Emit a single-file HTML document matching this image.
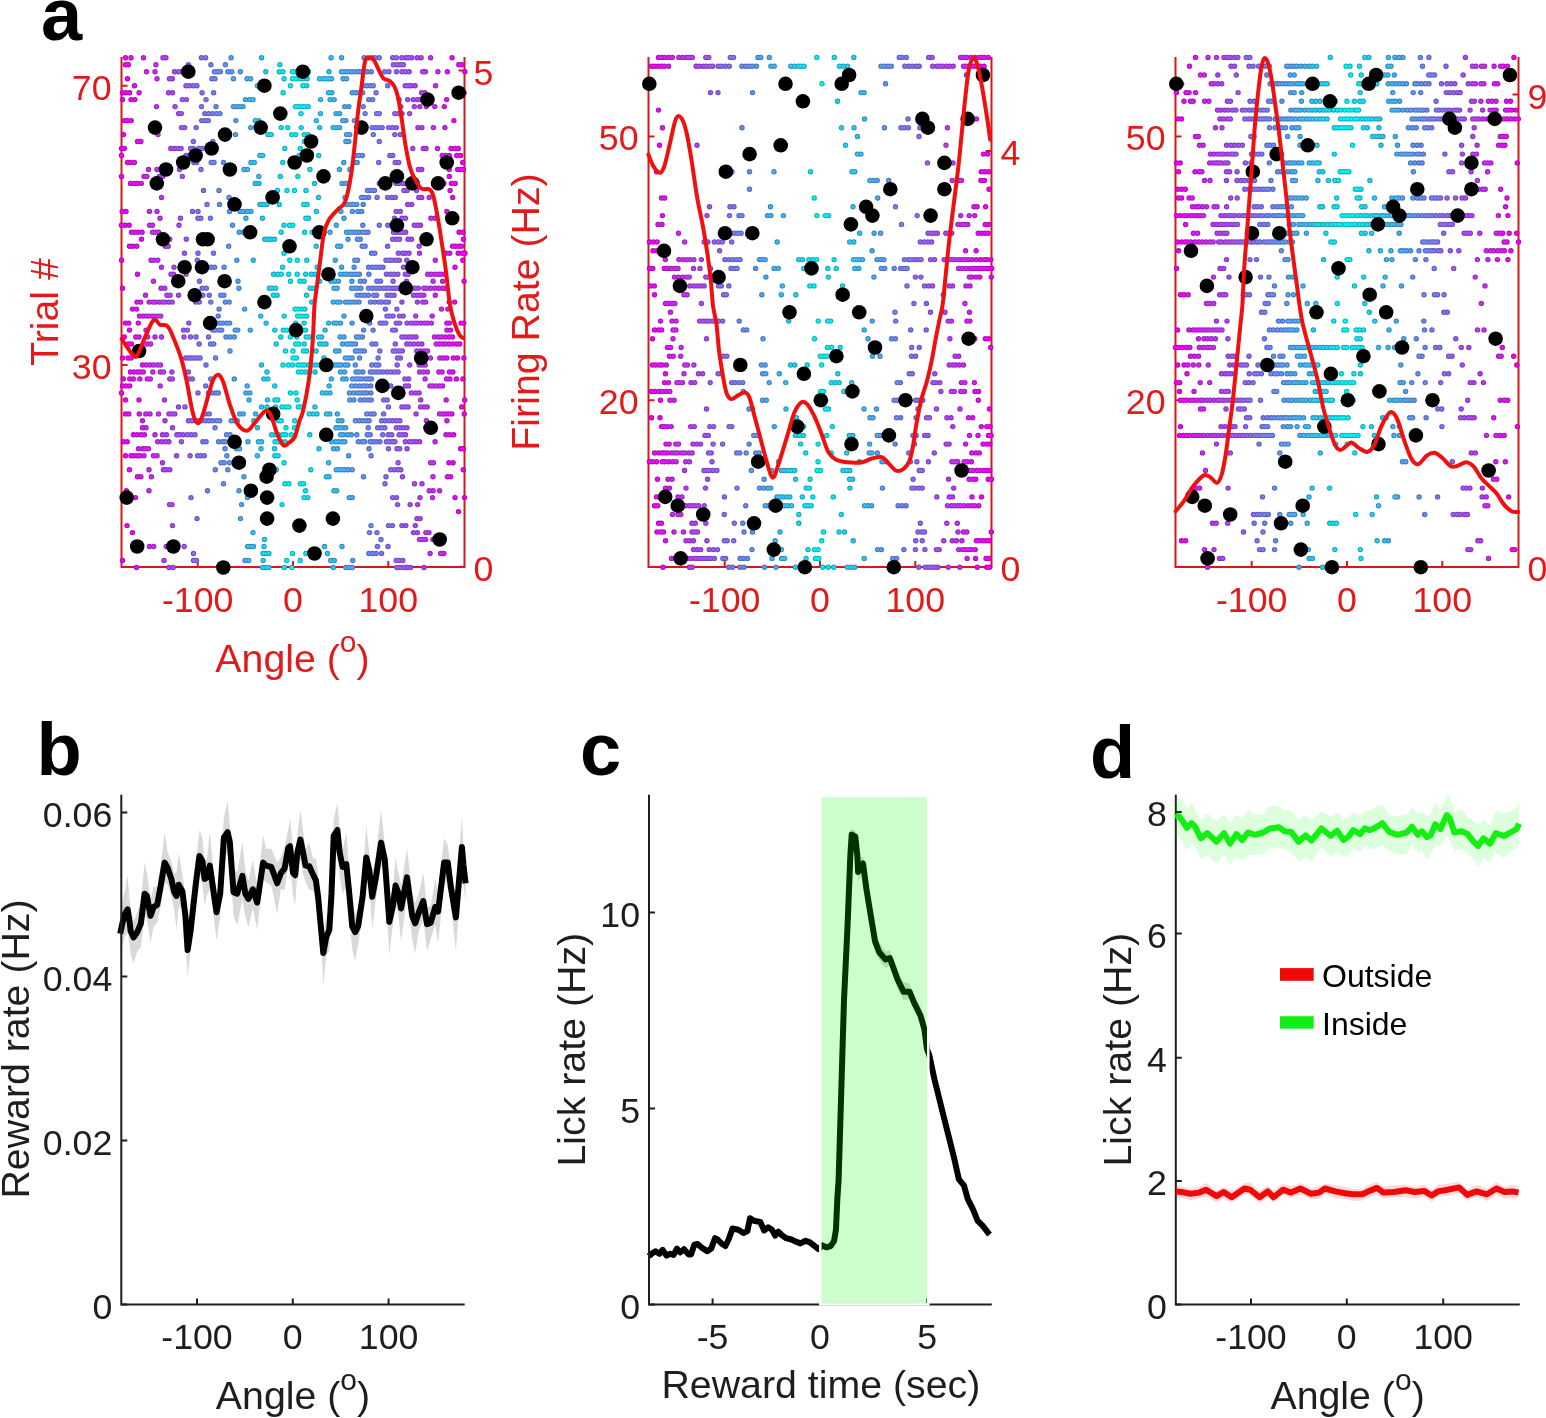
<!DOCTYPE html><html><head><meta charset="utf-8"><title>Figure</title><style>html,body{margin:0;padding:0;background:#fff;overflow:hidden}svg{display:block}</style></head><body>
<svg width="1546" height="1418" viewBox="0 0 1546 1418" font-family="'Liberation Sans', Arial, sans-serif">
<rect width="1546" height="1418" fill="#fff"/>
<g stroke="#d81818" stroke-width="2" fill="none"><path d="M121.5 57V567H464.5V57"/><path d="M121.5 365h6M121.5 85.7h6M464.5 566.7h-6M464.5 70.6h-6M197.7 567v-6M293 567v-6M388.3 567v-6"/></g><g fill="#e31a1a" font-size="35.7"><text x="111.5" y="378.8" text-anchor="end">30</text><text x="111.5" y="99.5" text-anchor="end">70</text><text x="473.5" y="581">0</text><text x="473.5" y="84.9">5</text><text x="197.7" y="611.7" text-anchor="middle">-100</text><text x="293" y="611.7" text-anchor="middle">0</text><text x="388.3" y="611.7" text-anchor="middle">100</text></g>
<g stroke="#d81818" stroke-width="2" fill="none"><path d="M648.5 57V567H991.5V57"/><path d="M648.5 400.2h6M648.5 136.5h6M991.5 567h-6M991.5 151.1h-6M724.7 567v-6M820 567v-6M915.3 567v-6"/></g><g fill="#e31a1a" font-size="35.7"><text x="638.5" y="414" text-anchor="end">20</text><text x="638.5" y="150.3" text-anchor="end">50</text><text x="1000.5" y="581.3">0</text><text x="1000.5" y="165.4">4</text><text x="724.7" y="611.7" text-anchor="middle">-100</text><text x="820" y="611.7" text-anchor="middle">0</text><text x="915.3" y="611.7" text-anchor="middle">100</text></g>
<g stroke="#d81818" stroke-width="2" fill="none"><path d="M1175.5 57V567H1518.5V57"/><path d="M1175.5 400.2h6M1175.5 136.5h6M1518.5 567h-6M1518.5 94.5h-6M1251.7 567v-6M1347 567v-6M1442.3 567v-6"/></g><g fill="#e31a1a" font-size="35.7"><text x="1165.5" y="414" text-anchor="end">20</text><text x="1165.5" y="150.3" text-anchor="end">50</text><text x="1527.5" y="581.3">0</text><text x="1527.5" y="108.8">9</text><text x="1251.7" y="611.7" text-anchor="middle">-100</text><text x="1347" y="611.7" text-anchor="middle">0</text><text x="1442.3" y="611.7" text-anchor="middle">100</text></g>
<g fill="none" stroke-width="5.4" stroke-linecap="round"><path stroke="#00bcbc" d="M291.8 567.5h0M292.4 553.5h0M291.3 434.8h0M294.5 427.8h0M294.7 420.8h0M292.5 365h0M293.1 358h0M293 351h0M293.2 330.1h0M295.1 309.1h0M292.8 225.3h0M294.5 190.4h0M295.3 162.5h0M291.7 134.6h0M292.6 78.7h0M292.4 71.7h0M295 71.7h0"/><path stroke="#05b7bc" d="M286.7 560.5h0M288.9 483.7h0M286 427.8h0M285.9 406.9h0M288.8 406.9h0M298.3 406.9h0M297.3 399.9h0M290.4 392.9h0M295.9 392.9h0M298.4 372h0M288.5 365h0M298 365h0M296.5 358h0M295.7 344h0M298.7 344h0M290.3 337h0M296.8 337h0M286.7 330.1h0M299.7 330.1h0M295.6 323.1h0M297.7 316.1h0M298.1 309.1h0M290.5 281.2h0M300 281.2h0M288.7 274.2h0M297.2 274.2h0M289.8 260.2h0M297.3 260.2h0M289.5 225.3h0M287 190.4h0M297.8 176.4h0M299.2 155.5h0M295.7 134.6h0M287.7 127.6h0M295.5 106.6h0M298.2 106.6h0M290.4 85.7h0M296.2 78.7h0"/><path stroke="#0ab2bc" d="M284.3 567.5h0M300.2 560.5h0M282.1 504.6h0M304 497.6h0M285 483.7h0M300.4 483.7h0M303.5 483.7h0M284.1 462.7h0M285.1 441.8h0M282.5 434.8h0M285.8 434.8h0M281.2 420.8h0M282 406.9h0M301.4 406.9h0M301.9 372h0M283 365h0M301.3 365h0M304.3 365h0M285.5 351h0M303.5 351h0M304.2 344h0M283.3 330.1h0M302.4 330.1h0M304.1 323.1h0M284.2 316.1h0M300.5 316.1h0M303.5 316.1h0M301.7 309.1h0M304.1 281.2h0M281.2 274.2h0M282.6 267.2h0M284 253.3h0M281.2 232.3h0M304.7 232.3h0M284 225.3h0M303.8 204.4h0M282.8 162.5h0M284.8 148.5h0M300.3 148.5h0M304.4 141.5h0M304.2 134.6h0M281.2 127.6h0M301.2 127.6h0M284.5 113.6h0M301 113.6h0M301.6 106.6h0M304.5 106.6h0M283.1 92.7h0M302.9 85.7h0M284.1 78.7h0M300.2 78.7h0M303.1 78.7h0M282.9 71.7h0M304.5 71.7h0"/><path stroke="#0facbc" d="M305.9 553.5h0M307.8 497.6h0M305.5 490.7h0M278.1 455.7h0M277.9 441.8h0M281 441.8h0M278.4 434.8h0M278.3 420.8h0M309.2 413.9h0M277.8 399.9h0M305.8 372h0M309.5 372h0M308.4 365h0M306.6 351h0M280.8 337h0M306.3 337h0M309.1 337h0M305.6 330.1h0M306.5 316.1h0M304.9 309.1h0M277.1 295.2h0M306.6 295.2h0M277.8 274.2h0M305.7 274.2h0M306.8 260.2h0M305.9 218.3h0M308.5 218.3h0M279.3 204.4h0M307 204.4h0M277.5 190.4h0M306 190.4h0M280.3 176.4h0M308.1 134.6h0M308.2 106.6h0M306.7 85.7h0M307.1 78.7h0M279.3 71.7h0M308.5 71.7h0M279.9 64.7h0"/><path stroke="#14a7bc" d="M276.3 469.7h0M310.8 469.7h0M274.9 455.7h0M274.5 448.8h0M275.1 441.8h0M271.6 434.8h0M275.4 434.8h0M309.8 434.8h0M313 413.9h0M275.5 406.9h0M275 399.9h0M274.7 385.9h0M312.1 365h0M276.2 344h0M274.8 330.1h0M311.7 302.1h0M273.4 295.2h0M272 288.2h0M275.6 288.2h0M310.1 288.2h0M313.6 288.2h0M273.6 274.2h0M311.2 274.2h0M274.5 239.3h0M312.2 232.3h0M309.9 169.5h0"/><path stroke="#1aa2bc" d="M268.8 567.5h0M268.9 553.5h0M319 448.8h0M317 413.9h0M267 406.9h0M314.9 406.9h0M267.5 399.9h0M267.8 378.9h0M266.9 372h0M315 372h0M315.7 365h0M316.1 351h0M318.6 337h0M269.4 288.2h0M315 274.2h0M317.1 267.2h0M316.2 246.3h0M267.8 239.3h0M271.2 239.3h0M316.1 232.3h0M316.4 211.4h0M266.8 204.4h0M318.5 197.4h0M314.5 183.4h0M318.7 155.5h0M268 134.6h0M271.2 134.6h0M316.3 120.6h0"/><path stroke="#1f9dbc" d="M262.6 567.5h0M265.9 567.5h0M263.2 560.5h0M263 553.5h0M265.9 553.5h0M264 546.5h0M264.5 539.5h0M323.3 434.8h0M322.4 392.9h0M263.8 378.9h0M319.6 365h0M319.7 344h0M323.2 344h0M321.6 337h0M266.1 323.1h0M319.6 281.2h0M264.8 239.3h0M319.4 232.3h0M322.5 232.3h0M262.4 218.3h0M263.6 204.4h0M262.7 155.5h0M319.7 127.6h0M320.5 113.6h0M320.6 99.6h0M263.1 85.7h0M265.9 85.7h0M319.6 78.7h0M323.3 78.7h0M265.8 71.7h0"/><path stroke="#2498bc" d="M327.4 553.5h0M324.5 546.5h0M326.4 476.7h0M328.6 462.7h0M257.4 455.7h0M261 448.8h0M258.5 441.8h0M261.6 441.8h0M327.2 434.8h0M257.5 427.8h0M326.5 413.9h0M261.5 406.9h0M326.2 392.9h0M261.5 365h0M324 358h0M326 344h0M325.1 330.1h0M328.6 323.1h0M260.7 316.1h0M260 204.4h0M259 183.4h0M258.8 176.4h0M259.9 155.5h0M258.8 120.6h0M328.6 92.7h0M257.4 85.7h0M260.2 85.7h0M326 78.7h0M328.7 78.7h0M261.6 57.7h0"/><path stroke="#2992bc" d="M333.3 567.5h0M330.7 560.5h0M253.5 546.5h0M253 532.6h0M329 476.7h0M331.6 441.8h0M330.1 434.8h0M253.8 420.8h0M255.7 413.9h0M329.8 413.9h0M330 392.9h0M329.2 385.9h0M331.3 378.9h0M330.1 365h0M332.7 365h0M333.2 302.1h0M331.1 281.2h0M253.3 260.2h0M252.7 232.3h0M330 232.3h0M255.3 183.4h0M254.3 162.5h0M333.2 127.6h0M255.3 120.6h0M253.1 99.6h0M330.1 99.6h0M331.8 92.7h0M331.6 78.7h0M329 71.7h0M331.1 57.7h0"/><path stroke="#2f8dbc" d="M248.7 560.5h0M334.3 560.5h0M247.7 546.5h0M250.8 546.5h0M334 490.7h0M336.7 490.7h0M336.3 469.7h0M333.5 448.8h0M337.5 448.8h0M248 441.8h0M335.7 441.8h0M336 427.8h0M338.2 420.8h0M337.3 413.9h0M249 399.9h0M249.9 392.9h0M335.7 365h0M335.6 351h0M250.3 330.1h0M334.1 323.1h0M336.9 323.1h0M337.1 302.1h0M334.1 288.2h0M337.1 288.2h0M334.7 281.2h0M335.3 260.2h0M337.7 246.3h0M336.3 225.3h0M250.9 211.4h0M251 162.5h0M250.7 127.6h0M336.3 127.6h0M336 113.6h0M249.7 99.6h0M334.2 99.6h0M250.6 78.7h0"/><path stroke="#3488bc" d="M245 560.5h0M342 546.5h0M247.5 497.6h0M243.9 476.7h0M339.4 469.7h0M342.1 469.7h0M338.7 441.8h0M341.9 441.8h0M340.6 434.8h0M339 427.8h0M341.8 427.8h0M341.9 420.8h0M243.2 413.9h0M245.9 392.9h0M247.2 385.9h0M342.8 378.9h0M340.5 372h0M338.4 365h0M341.1 365h0M338.9 351h0M342.5 344h0M340.1 337h0M340.6 323.1h0M244.6 309.1h0M340 302.1h0M338.4 281.2h0M340.5 274.2h0M341.6 267.2h0M340.7 246.3h0M243.2 232.3h0M245.9 218.3h0M243.2 211.4h0M247.4 211.4h0M340.9 211.4h0M342 183.4h0M244 169.5h0M247.4 169.5h0M339.4 169.5h0M339.6 127.6h0M342.8 120.6h0M339.6 113.6h0M243 106.6h0M245.5 99.6h0M247 78.7h0M341.5 71.7h0M341.6 57.7h0"/><path stroke="#3983bc" d="M345.8 567.5h0M240.5 518.6h0M241.6 504.6h0M239 490.7h0M344.8 469.7h0M239.5 448.8h0M344.8 441.8h0M343.5 434.8h0M347.7 434.8h0M345.7 427.8h0M239.7 413.9h0M346.1 378.9h0M344.6 372h0M345.1 365h0M345.5 358h0M346.6 344h0M344 337h0M344 316.1h0M345.5 302.1h0M238.9 288.2h0M344.1 274.2h0M346.8 274.2h0M239.2 232.3h0M346.5 232.3h0M344 218.3h0M240 211.4h0M346.5 204.4h0M345 197.4h0M345.7 183.4h0M343.8 162.5h0M345.9 141.5h0M346.6 134.6h0M345.9 120.6h0M239.8 106.6h0M344.7 106.6h0M343.1 78.7h0M346.5 78.7h0M240.3 71.7h0M344.3 71.7h0M347.7 71.7h0"/><path stroke="#3e7dbc" d="M349.4 567.5h0M352.3 567.5h0M349.3 497.6h0M352.2 497.6h0M348.1 469.7h0M352.2 469.7h0M348.6 455.7h0M236.5 448.8h0M351.3 434.8h0M234.3 420.8h0M237.3 420.8h0M349.8 399.9h0M349.5 392.9h0M351.7 385.9h0M234.3 378.9h0M347.8 365h0M348.7 358h0M352.1 358h0M349.6 344h0M352.2 344h0M234.3 337h0M235.2 330.1h0M237.8 330.1h0M352.1 323.1h0M348.8 302.1h0M351.9 302.1h0M351.6 288.2h0M238 281.2h0M351.9 281.2h0M350.5 274.2h0M236.8 260.2h0M348 239.3h0M349.6 232.3h0M352.2 232.3h0M352.4 211.4h0M350.6 204.4h0M348.7 183.4h0M349.9 169.5h0M348.8 141.5h0M235.5 134.6h0M349.8 134.6h0M235.8 120.6h0M233.5 106.6h0M236.8 106.6h0M348.8 106.6h0M352.3 92.7h0M233.5 78.7h0M351.1 71.7h0"/><path stroke="#4478bc" d="M352.8 560.5h0M229.6 462.7h0M229.5 441.8h0M230.1 434.8h0M356.8 434.8h0M231.2 420.8h0M355.4 420.8h0M353.9 399.9h0M353.5 392.9h0M355.8 385.9h0M352.6 378.9h0M355.6 378.9h0M356.1 372h0M355.3 365h0M230 351h0M355.4 351h0M355.5 344h0M230.2 337h0M356.5 337h0M229.6 323.1h0M229.2 302.1h0M355.3 302.1h0M357.1 295.2h0M354.3 288.2h0M357.2 288.2h0M353.6 274.2h0M356.7 274.2h0M354.1 267.2h0M354.8 260.2h0M355.4 232.3h0M232.5 225.3h0M229.5 211.4h0M353.2 204.4h0M356.7 204.4h0M229 197.4h0M229.5 169.5h0M354.3 162.5h0M357.2 162.5h0M355.2 155.5h0M354.4 120.6h0M355.8 92.7h0M231.8 71.7h0M354.3 71.7h0M231.1 57.7h0"/><path stroke="#4973bc" d="M227.8 469.7h0M224.1 462.7h0M226.9 455.7h0M225 448.8h0M225.4 441.8h0M358.3 441.8h0M226.6 434.8h0M359.1 420.8h0M360.4 399.9h0M357.6 392.9h0M360.6 392.9h0M359.7 385.9h0M358.4 378.9h0M361.6 378.9h0M359 372h0M359.6 358h0M358.1 351h0M361 351h0M226 337h0M359.2 337h0M226.4 323.1h0M225.3 302.1h0M359 302.1h0M360.9 295.2h0M361 288.2h0M360.4 281.2h0M359.4 274.2h0M224.1 267.2h0M357.5 260.2h0M228.7 246.3h0M357.5 239.3h0M360.2 239.3h0M358.7 232.3h0M357.9 211.4h0M361.7 211.4h0M361.5 197.4h0M358.7 155.5h0M359.3 92.7h0M227.9 71.7h0M358.1 71.7h0M360.7 71.7h0M225.4 64.7h0"/><path stroke="#4e6ebc" d="M223.5 483.7h0M363.5 476.7h0M221 462.7h0M222.5 441.8h0M362.2 441.8h0M364.8 441.8h0M219.7 420.8h0M362.7 420.8h0M366.2 420.8h0M366.8 413.9h0M364.4 399.9h0M363.9 392.9h0M366.6 392.9h0M363.5 385.9h0M366.7 385.9h0M365.4 378.9h0M362.9 372h0M364.3 351h0M362.4 337h0M221.7 330.1h0M363.6 330.1h0M219.3 323.1h0M222.4 323.1h0M365.5 316.1h0M220.8 295.2h0M223.9 295.2h0M364.6 295.2h0M364.4 281.2h0M362.2 246.3h0M365.1 246.3h0M362.2 232.3h0M365.2 232.3h0M362.8 225.3h0M219.5 204.4h0M363.2 204.4h0M364.6 197.4h0M223.5 162.5h0M362.4 155.5h0M220 113.6h0M365.1 113.6h0M363.3 106.6h0M362.6 92.7h0M363.2 85.7h0M366.6 85.7h0M220.4 71.7h0M364.3 71.7h0M364.1 57.7h0"/><path stroke="#5368bc" d="M368.9 553.5h0M369.5 532.6h0M371 525.6h0M215.3 469.7h0M371.1 455.7h0M369 448.8h0M218.6 441.8h0M370.3 441.8h0M367.3 434.8h0M370.2 434.8h0M215 427.8h0M368.2 427.8h0M216.7 420.8h0M369.1 420.8h0M370.9 413.9h0M367.9 399.9h0M371.2 399.9h0M215.7 392.9h0M218.4 392.9h0M370.8 392.9h0M370.8 385.9h0M368.4 378.9h0M371.4 378.9h0M370.4 372h0M215.6 358h0M215.5 330.1h0M218.9 330.1h0M216.3 323.1h0M369.6 323.1h0M218.2 316.1h0M368.5 316.1h0M219.1 309.1h0M370.5 302.1h0M368.4 295.2h0M368.5 288.2h0M368.9 274.2h0M214.6 267.2h0M368.6 267.2h0M371.5 253.3h0M368 232.3h0M368.6 197.4h0M219 190.4h0M367.5 190.4h0M371 190.4h0M216.6 113.6h0M216 106.6h0M368.7 99.6h0M370.1 85.7h0M215 78.7h0M214.5 71.7h0M217.6 71.7h0M367.3 71.7h0M371.3 71.7h0M368.2 57.7h0"/><path stroke="#5963bc" d="M372.6 553.5h0M376.1 553.5h0M373.2 441.8h0M376.2 441.8h0M212.6 420.8h0M374.1 413.9h0M211.9 392.9h0M210.8 378.9h0M373.2 372h0M371.8 365h0M375.9 365h0M210.6 344h0M213.7 344h0M372 344h0M375.8 344h0M212.9 330.1h0M373.1 330.1h0M210.8 302.1h0M374.7 302.1h0M373.9 295.2h0M372.5 288.2h0M376.1 288.2h0M211 267.2h0M372.6 267.2h0M376 267.2h0M213.5 253.3h0M374.8 253.3h0M210.4 218.3h0M374.5 190.4h0M211.2 162.5h0M214 162.5h0M212.9 141.5h0M373.3 134.6h0M372.1 127.6h0M375.7 127.6h0M212.5 113.6h0M372.7 99.6h0M213.6 92.7h0M376.1 92.7h0M373.2 85.7h0M211.9 78.7h0M210.9 64.7h0M371.7 57.7h0M375.1 57.7h0"/><path stroke="#5e5ebc" d="M377.5 546.5h0M381 539.5h0M377 532.6h0M207.5 490.7h0M206.1 441.8h0M379.9 441.8h0M377.7 427.8h0M205.6 420.8h0M209.1 420.8h0M205.3 413.9h0M209.2 413.9h0M208.5 392.9h0M205.7 385.9h0M376.6 372h0M379.3 372h0M206 365h0M378.7 365h0M378.1 358h0M379.8 351h0M208.5 337h0M380.1 323.1h0M378.9 302.1h0M209.3 295.2h0M376.6 295.2h0M206.4 288.2h0M379.6 288.2h0M376.9 281.2h0M380.6 281.2h0M379.5 267.2h0M379.3 225.3h0M207 204.4h0M377.1 197.4h0M379.2 183.4h0M378.7 162.5h0M379.3 141.5h0M378.7 127.6h0M205 120.6h0M208.3 120.6h0M208.7 113.6h0M376.6 113.6h0M379.3 113.6h0M206 99.6h0M205.6 57.7h0M379.2 57.7h0"/><path stroke="#6359bc" d="M381.6 553.5h0M385 483.7h0M200.7 455.7h0M204.4 455.7h0M202.9 441.8h0M382.7 434.8h0M381.4 427.8h0M384.8 427.8h0M201.9 420.8h0M381.6 420.8h0M385.2 420.8h0M383.6 413.9h0M383.7 399.9h0M383.3 385.9h0M383.1 372h0M200.1 358h0M383.1 323.1h0M385.8 323.1h0M385.4 309.1h0M381.9 302.1h0M385.7 302.1h0M202.8 295.2h0M202.3 288.2h0M383.4 288.2h0M383 267.2h0M200.9 218.3h0M203.5 190.4h0M383 183.4h0M385.7 183.4h0M201 169.5h0M202.3 148.5h0M382.2 127.6h0M201.7 120.6h0M204.8 113.6h0M201.5 106.6h0M202.1 92.7h0M384.8 71.7h0M201.4 57.7h0"/><path stroke="#6853bc" d="M196.5 560.5h0M388 546.5h0M388.5 525.6h0M197 518.6h0M386 476.7h0M197.6 455.7h0M388.5 448.8h0M386.4 441.8h0M389.2 441.8h0M388.2 434.8h0M198.8 420.8h0M389.1 420.8h0M388.4 406.9h0M387.2 399.9h0M198 392.9h0M387.4 385.9h0M387.2 372h0M197.3 358h0M199.1 344h0M196 337h0M387 316.1h0M389.8 316.1h0M195.7 302.1h0M199.3 302.1h0M388.4 302.1h0M199.1 295.2h0M387.1 295.2h0M386.6 288.2h0M389.5 288.2h0M199.5 281.2h0M386.4 274.2h0M390.5 274.2h0M197.3 260.2h0M386 260.2h0M389.1 260.2h0M198 253.3h0M387.6 246.3h0M387.8 225.3h0M198 218.3h0M198 211.4h0M387.6 197.4h0M196.7 162.5h0M389.9 155.5h0M198.8 148.5h0M196.2 127.6h0M388.7 127.6h0M196.9 85.7h0M387.7 85.7h0M389 71.7h0"/><path stroke="#6e4ebc" d="M193.5 560.5h0M193.5 553.5h0M392.4 525.6h0M191 497.6h0M392.7 497.6h0M390.7 469.7h0M394.3 469.7h0M392.1 441.8h0M394.9 441.8h0M191.1 434.8h0M195.1 434.8h0M391.7 434.8h0M191.9 420.8h0M195.2 420.8h0M392.7 420.8h0M390.8 385.9h0M192.3 378.9h0M390.7 372h0M394.7 372h0M191.2 358h0M194.2 358h0M393.3 351h0M395.3 344h0M392.6 330.1h0M395.4 330.1h0M393 316.1h0M390.7 295.2h0M394.1 295.2h0M392.7 288.2h0M393.1 281.2h0M393.8 274.2h0M391.9 260.2h0M392.7 239.3h0M393.5 232.3h0M394.5 218.3h0M192.5 211.4h0M391.7 197.4h0M395.3 197.4h0M193.9 162.5h0M395.2 162.5h0M392.7 155.5h0M190.6 148.5h0M193.3 148.5h0M193.4 141.5h0M394.8 134.6h0M392.4 127.6h0M394.8 113.6h0M193.3 85.7h0M393.4 64.7h0M392.7 57.7h0"/><path stroke="#7349bc" d="M396.8 567.5h0M400.1 567.5h0M396.3 560.5h0M398.9 560.5h0M397.6 504.6h0M396.5 497.6h0M398 469.7h0M398.1 462.7h0M190.1 455.7h0M397 448.8h0M399.6 448.8h0M187.4 434.8h0M399.2 434.8h0M396.3 427.8h0M399.6 427.8h0M188.5 420.8h0M396.5 420.8h0M399.9 420.8h0M188.9 378.9h0M188.4 372h0M398.1 372h0M397.2 365h0M188.6 358h0M397.6 358h0M396.2 351h0M399.4 351h0M190.5 337h0M187.4 330.1h0M188.8 323.1h0M396.3 323.1h0M399.6 323.1h0M399.5 316.1h0M396.9 309.1h0M395.7 288.2h0M398.7 288.2h0M186.1 274.2h0M397.8 274.2h0M187.5 267.2h0M395.7 260.2h0M399.3 260.2h0M398.3 253.3h0M186.3 239.3h0M396.4 239.3h0M399.5 239.3h0M396.3 232.3h0M399.8 232.3h0M396.2 211.4h0M396.2 183.4h0M398.9 183.4h0M398.7 162.5h0M186 155.5h0M189.4 155.5h0M396.4 127.6h0M398.2 113.6h0M186.5 99.6h0M399.2 99.6h0M186 85.7h0M189.3 85.7h0M189 71.7h0M396.5 71.7h0M188.4 64.7h0M397.1 64.7h0M396.3 57.7h0"/><path stroke="#7844bc" d="M404.1 567.5h0M402.8 560.5h0M184.2 546.5h0M401.9 525.6h0M402.5 476.7h0M400.8 469.7h0M181.4 441.8h0M183.2 434.8h0M402.4 434.8h0M402.9 427.8h0M185 406.9h0M401.9 406.9h0M400.3 392.9h0M402.9 392.9h0M404.9 378.9h0M185.7 358h0M400.4 358h0M402.3 351h0M184 337h0M401.9 337h0M183.5 330.1h0M403.2 316.1h0M401.9 302.1h0M402 288.2h0M404.8 288.2h0M403.5 267.2h0M184.5 253.3h0M402.5 253.3h0M402.6 232.3h0M402 218.3h0M400.3 211.4h0M404 190.4h0M403 183.4h0M182.3 176.4h0M181.1 148.5h0M400.3 134.6h0M181.5 127.6h0M184.7 127.6h0M181.3 113.6h0M402.1 113.6h0M400.8 106.6h0M182.4 99.6h0M182 71.7h0M185.1 71.7h0M402 71.7h0M400.3 64.7h0M403.3 64.7h0M401.8 57.7h0"/><path stroke="#7d3ebc" d="M406.9 567.5h0M405.8 525.6h0M176.6 455.7h0M407.1 448.8h0M405.4 441.8h0M409.5 441.8h0M176.9 434.8h0M179.8 434.8h0M405.5 434.8h0M407 427.8h0M178.5 406.9h0M405.2 406.9h0M408.1 406.9h0M405.3 385.9h0M408.5 385.9h0M408.6 378.9h0M406.8 344h0M405.2 337h0M409 337h0M407.1 323.1h0M178.6 295.2h0M408 288.2h0M406.6 281.2h0M405.3 274.2h0M408.2 274.2h0M407.5 267.2h0M406.8 260.2h0M405.2 253.3h0M409 253.3h0M408 239.3h0M405.6 232.3h0M179 225.3h0M180.5 218.3h0M405.4 218.3h0M407.7 204.4h0M407.1 190.4h0M405.6 183.4h0M408.9 183.4h0M179.5 169.5h0M178 148.5h0M178.5 113.6h0M409.6 113.6h0M407.7 99.6h0M405.2 85.7h0M408.3 85.7h0M178.6 71.7h0M405.4 71.7h0M409.2 71.7h0M405.9 57.7h0M408.8 57.7h0"/><path stroke="#8339bc" d="M173.1 567.5h0M410.5 567.5h0M172.7 546.5h0M413.5 532.6h0M172.5 525.6h0M172.1 504.6h0M410.1 504.6h0M412.6 441.8h0M172.5 427.8h0M172.1 413.9h0M174.8 413.9h0M411.4 392.9h0M172.4 378.9h0M171.9 372h0M409.7 365h0M409.9 344h0M413.9 344h0M412.2 337h0M411.2 323.1h0M172.2 302.1h0M413.6 295.2h0M411.1 288.2h0M175 281.2h0M173.6 274.2h0M174 267.2h0M411.5 239.3h0M414.3 225.3h0M411.7 204.4h0M174.2 148.5h0M412.8 148.5h0M175 106.6h0M414.3 106.6h0M413.2 99.6h0M172.6 92.7h0M411.1 85.7h0M172.4 78.7h0M174.5 71.7h0M411.7 57.7h0"/><path stroke="#8834bc" d="M169 567.5h0M169.5 546.5h0M417.4 532.6h0M415.3 525.6h0M417 518.6h0M169.5 504.6h0M417.6 504.6h0M414.5 483.7h0M169.8 469.7h0M168.9 441.8h0M416 441.8h0M169 413.9h0M416.1 413.9h0M415.5 392.9h0M419.1 392.9h0M169.8 378.9h0M419.2 365h0M416.8 351h0M418.1 344h0M416 337h0M414.6 323.1h0M417.3 323.1h0M415.7 316.1h0M169 302.1h0M417.4 302.1h0M167 295.2h0M170.1 295.2h0M417.2 295.2h0M414.9 288.2h0M418.4 288.2h0M171 274.2h0M168.2 246.3h0M419.1 246.3h0M169.8 239.3h0M417.6 225.3h0M418.8 197.4h0M416.6 190.4h0M418.4 169.5h0M170.8 148.5h0M417.9 127.6h0M417.2 99.6h0M168.6 92.7h0M415.1 85.7h0M169.5 78.7h0M417.2 57.7h0"/><path stroke="#8d2fbc" d="M424 567.5h0M164 560.5h0M166.2 546.5h0M419.5 539.5h0M422.3 539.5h0M420.2 518.6h0M420 497.6h0M422 483.7h0M163.5 469.7h0M166.2 469.7h0M162.5 462.7h0M165.5 441.8h0M419.6 441.8h0M162.5 434.8h0M166.4 434.8h0M165 420.8h0M420.6 406.9h0M164.5 399.9h0M420.7 399.9h0M163.4 372h0M419.6 372h0M423.4 372h0M422.4 365h0M420.8 351h0M421.8 344h0M420.9 323.1h0M162.5 302.1h0M165.3 302.1h0M422.9 302.1h0M420.4 295.2h0M423.8 295.2h0M164.8 288.2h0M423.9 288.2h0M419.5 253.3h0M165.3 246.3h0M166 239.3h0M420.5 225.3h0M421.7 197.4h0M162.8 176.4h0M421.7 169.5h0M423.3 148.5h0M421.9 127.6h0M419.8 106.6h0M420.2 99.6h0M421.6 92.7h0M422.7 71.7h0M163 57.7h0M165.9 57.7h0M421.1 57.7h0"/><path stroke="#9229bc" d="M425.5 539.5h0M425.9 532.6h0M157.7 441.8h0M161.7 441.8h0M425.5 427.8h0M428.1 427.8h0M426.4 420.8h0M158.5 413.9h0M424.1 406.9h0M427.2 406.9h0M160.2 385.9h0M425.1 378.9h0M160.3 372h0M427.4 372h0M157.3 365h0M160.5 365h0M425.2 365h0M424.9 358h0M424.2 351h0M427.5 351h0M161.5 337h0M424.5 323.1h0M427.6 323.1h0M158 316.1h0M160.7 316.1h0M159.2 302.1h0M425.7 302.1h0M161 288.2h0M426.7 288.2h0M427.7 274.2h0M161.5 267.2h0M157.8 260.2h0M158.7 232.3h0M160 218.3h0M161.5 197.4h0M159.8 183.4h0M159.3 176.4h0M426 148.5h0M158 134.6h0M426.3 106.6h0M424.8 92.7h0M425.4 71.7h0"/><path stroke="#9824bc" d="M430.1 553.5h0M153.7 546.5h0M433 539.5h0M429 532.6h0M432.5 497.6h0M429.2 490.7h0M433.1 490.7h0M433 476.7h0M430.6 462.7h0M433.4 462.7h0M153.5 455.7h0M157.1 455.7h0M155 434.8h0M430 385.9h0M432.8 385.9h0M152.8 372h0M153.5 365h0M430.4 358h0M155 337h0M431.4 323.1h0M154.9 316.1h0M432.2 316.1h0M152.7 302.1h0M155.4 302.1h0M430.6 288.2h0M153.5 281.2h0M433.1 281.2h0M431 274.2h0M153.8 260.2h0M429 239.3h0M152.6 232.3h0M155.7 232.3h0M152.5 225.3h0M430.9 218.3h0M157 211.4h0M429.2 197.4h0M152.8 183.4h0M156.5 183.4h0M157 169.5h0M433.4 127.6h0M156.5 106.6h0M157 78.7h0M155 71.7h0M155.9 64.7h0M430.6 57.7h0"/><path stroke="#9d1fbc" d="M149.5 546.5h0M437.1 539.5h0M149 490.7h0M151.4 476.7h0M149 469.7h0M148.5 448.8h0M435.1 441.8h0M150 413.9h0M436.2 385.9h0M150.3 378.9h0M149.9 365h0M150.6 344h0M436.3 344h0M434.5 337h0M148.8 316.1h0M152.1 316.1h0M149.1 302.1h0M435.3 295.2h0M434.5 288.2h0M434.9 274.2h0M438.2 274.2h0M151.1 260.2h0M435.3 260.2h0M149.7 225.3h0M435 218.3h0M149.5 211.4h0M436.4 183.4h0M148.5 169.5h0M437.5 148.5h0M434.8 106.6h0M435.6 85.7h0M437.9 71.7h0"/><path stroke="#a21abc" d="M440.6 553.5h0M440.5 539.5h0M439.6 490.7h0M144 455.7h0M145.3 448.8h0M144.5 434.8h0M146 427.8h0M145.8 413.9h0M439.6 413.9h0M442.5 413.9h0M439.6 385.9h0M442.5 385.9h0M147.3 378.9h0M143.3 372h0M438.9 372h0M442 372h0M146.2 365h0M439.9 358h0M146.9 344h0M439.6 344h0M442.9 344h0M147.5 337h0M438.4 337h0M441.5 337h0M146 330.1h0M146.1 316.1h0M441.4 309.1h0M145.5 295.2h0M438.6 288.2h0M442.5 288.2h0M442.6 281.2h0M440.8 274.2h0M144 176.4h0M146.8 176.4h0M442.2 155.5h0M146.5 71.7h0M143.5 57.7h0"/><path stroke="#a714bc" d="M443.8 553.5h0M140.9 476.7h0M447.5 476.7h0M139.9 455.7h0M138.5 448.8h0M142.7 448.8h0M141 434.8h0M446 434.8h0M142.5 427.8h0M142.5 420.8h0M446.9 420.8h0M139.3 413.9h0M445.5 413.9h0M139 399.9h0M446.2 399.9h0M139.8 378.9h0M446.6 378.9h0M140 372h0M142.5 365h0M443.2 358h0M446.9 358h0M445.7 344h0M139 337h0M445.3 337h0M446.9 330.1h0M138.3 323.1h0M446.9 323.1h0M139.5 316.1h0M142.8 316.1h0M140.6 302.1h0M445.5 288.2h0M444.5 274.2h0M446 253.3h0M141.5 239.3h0M142.1 232.3h0M446.8 211.4h0M141.3 183.4h0M443.9 183.4h0M445.5 155.5h0M140.9 141.5h0M444.9 127.6h0M444.3 106.6h0M446.7 99.6h0M139.1 92.7h0M447.4 71.7h0"/><path stroke="#ac0fbc" d="M136.5 567.5h0M135.5 497.6h0M137.5 476.7h0M450.6 476.7h0M448.9 462.7h0M133.8 455.7h0M137.2 455.7h0M133.5 434.8h0M137.1 434.8h0M449.7 434.8h0M448.8 413.9h0M451.8 413.9h0M449.9 378.9h0M134 372h0M137.2 372h0M449.5 372h0M449.3 344h0M135.8 337h0M449.1 337h0M452.5 337h0M450.5 330.1h0M449.5 323.1h0M136.6 309.1h0M447.9 309.1h0M137 302.1h0M449.2 302.1h0M137.5 274.2h0M449.7 253.3h0M136.8 246.3h0M134.8 232.3h0M138.1 232.3h0M448.5 218.3h0M450.1 190.4h0M134.2 183.4h0M137.3 183.4h0M451.4 183.4h0M449.3 176.4h0M449.2 169.5h0M134.4 162.5h0M451.2 162.5h0M449.3 155.5h0M451 148.5h0M137.5 141.5h0M134.9 99.6h0M134.5 85.7h0M452.1 57.7h0"/><path stroke="#b20abc" d="M132.5 532.6h0M455 497.6h0M129.5 469.7h0M453.1 462.7h0M131 455.7h0M453.6 434.8h0M128.8 413.9h0M129.7 385.9h0M129.8 378.9h0M133.3 378.9h0M456.4 378.9h0M130.5 372h0M452.9 372h0M131.2 358h0M453.4 358h0M131.4 344h0M452.8 344h0M456.7 344h0M129.5 330.1h0M128.8 323.1h0M132.5 309.1h0M454.7 302.1h0M455 267.2h0M129.5 246.3h0M132.8 246.3h0M452.6 246.3h0M455.3 246.3h0M131.5 232.3h0M129.2 225.3h0M452.7 197.4h0M130.5 183.4h0M455.2 183.4h0M130.5 162.5h0M456.8 155.5h0M455 148.5h0M131.2 120.6h0M453.9 120.6h0M131 99.6h0M129.6 92.7h0M131 57.7h0"/><path stroke="#b705bc" d="M127 525.6h0M458.5 511.6h0M126.5 490.7h0M125.5 455.7h0M460.6 448.8h0M127.2 441.8h0M125.5 413.9h0M461.7 406.9h0M125.5 399.9h0M126 385.9h0M128 358h0M457.4 358h0M128.5 344h0M459.7 344h0M124.3 337h0M125.5 323.1h0M461 323.1h0M458.2 253.3h0M462.1 253.3h0M458.7 246.3h0M461.3 246.3h0M459.1 232.3h0M125 225.3h0M126 211.4h0M457.7 169.5h0M460.8 169.5h0M127.5 162.5h0M460.6 155.5h0M124.3 148.5h0M458.3 148.5h0M124.5 120.6h0M127.5 120.6h0M125.8 92.7h0M461.3 92.7h0M127.5 78.7h0M125.5 64.7h0M128.4 64.7h0M458.8 64.7h0M461.8 64.7h0M125.5 57.7h0"/><path stroke="#bc00bc" d="M122.5 560.5h0M464.5 497.6h0M463.3 469.7h0M463.3 448.8h0M123.5 441.8h0M464.3 413.9h0M464.7 399.9h0M121.5 392.9h0M122.5 385.9h0M123.3 378.9h0M462.9 378.9h0M122.5 358h0M463.9 358h0M463.7 323.1h0M122.5 288.2h0M464.1 281.2h0M121.6 260.2h0M462.8 260.2h0M465 253.3h0M463.5 239.3h0M463 232.3h0M121.5 225.3h0M122.2 211.4h0M121.5 176.4h0M463.4 169.5h0M462.7 162.5h0M121.5 155.5h0M121.5 148.5h0M123.5 134.6h0M122.5 99.6h0M122.5 92.7h0M464.1 92.7h0M464.9 71.7h0"/></g><g fill="none" stroke-width="3.3" stroke-linecap="round"><path stroke="#00f7f7" d="M291.8 567.5h0M292.4 553.5h0M291.3 434.8h0M294.5 427.8h0M294.7 420.8h0M292.5 365h0M293.1 358h0M293 351h0M293.2 330.1h0M295.1 309.1h0M292.8 225.3h0M294.5 190.4h0M295.3 162.5h0M291.7 134.6h0M292.6 78.7h0M292.4 71.7h0M295 71.7h0"/><path stroke="#06f0f7" d="M286.7 560.5h0M288.9 483.7h0M286 427.8h0M285.9 406.9h0M288.8 406.9h0M298.3 406.9h0M297.3 399.9h0M290.4 392.9h0M295.9 392.9h0M298.4 372h0M288.5 365h0M298 365h0M296.5 358h0M295.7 344h0M298.7 344h0M290.3 337h0M296.8 337h0M286.7 330.1h0M299.7 330.1h0M295.6 323.1h0M297.7 316.1h0M298.1 309.1h0M290.5 281.2h0M300 281.2h0M288.7 274.2h0M297.2 274.2h0M289.8 260.2h0M297.3 260.2h0M289.5 225.3h0M287 190.4h0M297.8 176.4h0M299.2 155.5h0M295.7 134.6h0M287.7 127.6h0M295.5 106.6h0M298.2 106.6h0M290.4 85.7h0M296.2 78.7h0"/><path stroke="#0de9f7" d="M284.3 567.5h0M300.2 560.5h0M282.1 504.6h0M304 497.6h0M285 483.7h0M300.4 483.7h0M303.5 483.7h0M284.1 462.7h0M285.1 441.8h0M282.5 434.8h0M285.8 434.8h0M281.2 420.8h0M282 406.9h0M301.4 406.9h0M301.9 372h0M283 365h0M301.3 365h0M304.3 365h0M285.5 351h0M303.5 351h0M304.2 344h0M283.3 330.1h0M302.4 330.1h0M304.1 323.1h0M284.2 316.1h0M300.5 316.1h0M303.5 316.1h0M301.7 309.1h0M304.1 281.2h0M281.2 274.2h0M282.6 267.2h0M284 253.3h0M281.2 232.3h0M304.7 232.3h0M284 225.3h0M303.8 204.4h0M282.8 162.5h0M284.8 148.5h0M300.3 148.5h0M304.4 141.5h0M304.2 134.6h0M281.2 127.6h0M301.2 127.6h0M284.5 113.6h0M301 113.6h0M301.6 106.6h0M304.5 106.6h0M283.1 92.7h0M302.9 85.7h0M284.1 78.7h0M300.2 78.7h0M303.1 78.7h0M282.9 71.7h0M304.5 71.7h0"/><path stroke="#14e2f7" d="M305.9 553.5h0M307.8 497.6h0M305.5 490.7h0M278.1 455.7h0M277.9 441.8h0M281 441.8h0M278.4 434.8h0M278.3 420.8h0M309.2 413.9h0M277.8 399.9h0M305.8 372h0M309.5 372h0M308.4 365h0M306.6 351h0M280.8 337h0M306.3 337h0M309.1 337h0M305.6 330.1h0M306.5 316.1h0M304.9 309.1h0M277.1 295.2h0M306.6 295.2h0M277.8 274.2h0M305.7 274.2h0M306.8 260.2h0M305.9 218.3h0M308.5 218.3h0M279.3 204.4h0M307 204.4h0M277.5 190.4h0M306 190.4h0M280.3 176.4h0M308.1 134.6h0M308.2 106.6h0M306.7 85.7h0M307.1 78.7h0M279.3 71.7h0M308.5 71.7h0M279.9 64.7h0"/><path stroke="#1bdbf7" d="M276.3 469.7h0M310.8 469.7h0M274.9 455.7h0M274.5 448.8h0M275.1 441.8h0M271.6 434.8h0M275.4 434.8h0M309.8 434.8h0M313 413.9h0M275.5 406.9h0M275 399.9h0M274.7 385.9h0M312.1 365h0M276.2 344h0M274.8 330.1h0M311.7 302.1h0M273.4 295.2h0M272 288.2h0M275.6 288.2h0M310.1 288.2h0M313.6 288.2h0M273.6 274.2h0M311.2 274.2h0M274.5 239.3h0M312.2 232.3h0M309.9 169.5h0"/><path stroke="#22d4f7" d="M268.8 567.5h0M268.9 553.5h0M319 448.8h0M317 413.9h0M267 406.9h0M314.9 406.9h0M267.5 399.9h0M267.8 378.9h0M266.9 372h0M315 372h0M315.7 365h0M316.1 351h0M318.6 337h0M269.4 288.2h0M315 274.2h0M317.1 267.2h0M316.2 246.3h0M267.8 239.3h0M271.2 239.3h0M316.1 232.3h0M316.4 211.4h0M266.8 204.4h0M318.5 197.4h0M314.5 183.4h0M318.7 155.5h0M268 134.6h0M271.2 134.6h0M316.3 120.6h0"/><path stroke="#29cef7" d="M262.6 567.5h0M265.9 567.5h0M263.2 560.5h0M263 553.5h0M265.9 553.5h0M264 546.5h0M264.5 539.5h0M323.3 434.8h0M322.4 392.9h0M263.8 378.9h0M319.6 365h0M319.7 344h0M323.2 344h0M321.6 337h0M266.1 323.1h0M319.6 281.2h0M264.8 239.3h0M319.4 232.3h0M322.5 232.3h0M262.4 218.3h0M263.6 204.4h0M262.7 155.5h0M319.7 127.6h0M320.5 113.6h0M320.6 99.6h0M263.1 85.7h0M265.9 85.7h0M319.6 78.7h0M323.3 78.7h0M265.8 71.7h0"/><path stroke="#30c7f7" d="M327.4 553.5h0M324.5 546.5h0M326.4 476.7h0M328.6 462.7h0M257.4 455.7h0M261 448.8h0M258.5 441.8h0M261.6 441.8h0M327.2 434.8h0M257.5 427.8h0M326.5 413.9h0M261.5 406.9h0M326.2 392.9h0M261.5 365h0M324 358h0M326 344h0M325.1 330.1h0M328.6 323.1h0M260.7 316.1h0M260 204.4h0M259 183.4h0M258.8 176.4h0M259.9 155.5h0M258.8 120.6h0M328.6 92.7h0M257.4 85.7h0M260.2 85.7h0M326 78.7h0M328.7 78.7h0M261.6 57.7h0"/><path stroke="#36c0f7" d="M333.3 567.5h0M330.7 560.5h0M253.5 546.5h0M253 532.6h0M329 476.7h0M331.6 441.8h0M330.1 434.8h0M253.8 420.8h0M255.7 413.9h0M329.8 413.9h0M330 392.9h0M329.2 385.9h0M331.3 378.9h0M330.1 365h0M332.7 365h0M333.2 302.1h0M331.1 281.2h0M253.3 260.2h0M252.7 232.3h0M330 232.3h0M255.3 183.4h0M254.3 162.5h0M333.2 127.6h0M255.3 120.6h0M253.1 99.6h0M330.1 99.6h0M331.8 92.7h0M331.6 78.7h0M329 71.7h0M331.1 57.7h0"/><path stroke="#3db9f7" d="M248.7 560.5h0M334.3 560.5h0M247.7 546.5h0M250.8 546.5h0M334 490.7h0M336.7 490.7h0M336.3 469.7h0M333.5 448.8h0M337.5 448.8h0M248 441.8h0M335.7 441.8h0M336 427.8h0M338.2 420.8h0M337.3 413.9h0M249 399.9h0M249.9 392.9h0M335.7 365h0M335.6 351h0M250.3 330.1h0M334.1 323.1h0M336.9 323.1h0M337.1 302.1h0M334.1 288.2h0M337.1 288.2h0M334.7 281.2h0M335.3 260.2h0M337.7 246.3h0M336.3 225.3h0M250.9 211.4h0M251 162.5h0M250.7 127.6h0M336.3 127.6h0M336 113.6h0M249.7 99.6h0M334.2 99.6h0M250.6 78.7h0"/><path stroke="#44b2f7" d="M245 560.5h0M342 546.5h0M247.5 497.6h0M243.9 476.7h0M339.4 469.7h0M342.1 469.7h0M338.7 441.8h0M341.9 441.8h0M340.6 434.8h0M339 427.8h0M341.8 427.8h0M341.9 420.8h0M243.2 413.9h0M245.9 392.9h0M247.2 385.9h0M342.8 378.9h0M340.5 372h0M338.4 365h0M341.1 365h0M338.9 351h0M342.5 344h0M340.1 337h0M340.6 323.1h0M244.6 309.1h0M340 302.1h0M338.4 281.2h0M340.5 274.2h0M341.6 267.2h0M340.7 246.3h0M243.2 232.3h0M245.9 218.3h0M243.2 211.4h0M247.4 211.4h0M340.9 211.4h0M342 183.4h0M244 169.5h0M247.4 169.5h0M339.4 169.5h0M339.6 127.6h0M342.8 120.6h0M339.6 113.6h0M243 106.6h0M245.5 99.6h0M247 78.7h0M341.5 71.7h0M341.6 57.7h0"/><path stroke="#4babf7" d="M345.8 567.5h0M240.5 518.6h0M241.6 504.6h0M239 490.7h0M344.8 469.7h0M239.5 448.8h0M344.8 441.8h0M343.5 434.8h0M347.7 434.8h0M345.7 427.8h0M239.7 413.9h0M346.1 378.9h0M344.6 372h0M345.1 365h0M345.5 358h0M346.6 344h0M344 337h0M344 316.1h0M345.5 302.1h0M238.9 288.2h0M344.1 274.2h0M346.8 274.2h0M239.2 232.3h0M346.5 232.3h0M344 218.3h0M240 211.4h0M346.5 204.4h0M345 197.4h0M345.7 183.4h0M343.8 162.5h0M345.9 141.5h0M346.6 134.6h0M345.9 120.6h0M239.8 106.6h0M344.7 106.6h0M343.1 78.7h0M346.5 78.7h0M240.3 71.7h0M344.3 71.7h0M347.7 71.7h0"/><path stroke="#52a4f7" d="M349.4 567.5h0M352.3 567.5h0M349.3 497.6h0M352.2 497.6h0M348.1 469.7h0M352.2 469.7h0M348.6 455.7h0M236.5 448.8h0M351.3 434.8h0M234.3 420.8h0M237.3 420.8h0M349.8 399.9h0M349.5 392.9h0M351.7 385.9h0M234.3 378.9h0M347.8 365h0M348.7 358h0M352.1 358h0M349.6 344h0M352.2 344h0M234.3 337h0M235.2 330.1h0M237.8 330.1h0M352.1 323.1h0M348.8 302.1h0M351.9 302.1h0M351.6 288.2h0M238 281.2h0M351.9 281.2h0M350.5 274.2h0M236.8 260.2h0M348 239.3h0M349.6 232.3h0M352.2 232.3h0M352.4 211.4h0M350.6 204.4h0M348.7 183.4h0M349.9 169.5h0M348.8 141.5h0M235.5 134.6h0M349.8 134.6h0M235.8 120.6h0M233.5 106.6h0M236.8 106.6h0M348.8 106.6h0M352.3 92.7h0M233.5 78.7h0M351.1 71.7h0"/><path stroke="#599ef7" d="M352.8 560.5h0M229.6 462.7h0M229.5 441.8h0M230.1 434.8h0M356.8 434.8h0M231.2 420.8h0M355.4 420.8h0M353.9 399.9h0M353.5 392.9h0M355.8 385.9h0M352.6 378.9h0M355.6 378.9h0M356.1 372h0M355.3 365h0M230 351h0M355.4 351h0M355.5 344h0M230.2 337h0M356.5 337h0M229.6 323.1h0M229.2 302.1h0M355.3 302.1h0M357.1 295.2h0M354.3 288.2h0M357.2 288.2h0M353.6 274.2h0M356.7 274.2h0M354.1 267.2h0M354.8 260.2h0M355.4 232.3h0M232.5 225.3h0M229.5 211.4h0M353.2 204.4h0M356.7 204.4h0M229 197.4h0M229.5 169.5h0M354.3 162.5h0M357.2 162.5h0M355.2 155.5h0M354.4 120.6h0M355.8 92.7h0M231.8 71.7h0M354.3 71.7h0M231.1 57.7h0"/><path stroke="#6097f7" d="M227.8 469.7h0M224.1 462.7h0M226.9 455.7h0M225 448.8h0M225.4 441.8h0M358.3 441.8h0M226.6 434.8h0M359.1 420.8h0M360.4 399.9h0M357.6 392.9h0M360.6 392.9h0M359.7 385.9h0M358.4 378.9h0M361.6 378.9h0M359 372h0M359.6 358h0M358.1 351h0M361 351h0M226 337h0M359.2 337h0M226.4 323.1h0M225.3 302.1h0M359 302.1h0M360.9 295.2h0M361 288.2h0M360.4 281.2h0M359.4 274.2h0M224.1 267.2h0M357.5 260.2h0M228.7 246.3h0M357.5 239.3h0M360.2 239.3h0M358.7 232.3h0M357.9 211.4h0M361.7 211.4h0M361.5 197.4h0M358.7 155.5h0M359.3 92.7h0M227.9 71.7h0M358.1 71.7h0M360.7 71.7h0M225.4 64.7h0"/><path stroke="#6790f7" d="M223.5 483.7h0M363.5 476.7h0M221 462.7h0M222.5 441.8h0M362.2 441.8h0M364.8 441.8h0M219.7 420.8h0M362.7 420.8h0M366.2 420.8h0M366.8 413.9h0M364.4 399.9h0M363.9 392.9h0M366.6 392.9h0M363.5 385.9h0M366.7 385.9h0M365.4 378.9h0M362.9 372h0M364.3 351h0M362.4 337h0M221.7 330.1h0M363.6 330.1h0M219.3 323.1h0M222.4 323.1h0M365.5 316.1h0M220.8 295.2h0M223.9 295.2h0M364.6 295.2h0M364.4 281.2h0M362.2 246.3h0M365.1 246.3h0M362.2 232.3h0M365.2 232.3h0M362.8 225.3h0M219.5 204.4h0M363.2 204.4h0M364.6 197.4h0M223.5 162.5h0M362.4 155.5h0M220 113.6h0M365.1 113.6h0M363.3 106.6h0M362.6 92.7h0M363.2 85.7h0M366.6 85.7h0M220.4 71.7h0M364.3 71.7h0M364.1 57.7h0"/><path stroke="#6d89f7" d="M368.9 553.5h0M369.5 532.6h0M371 525.6h0M215.3 469.7h0M371.1 455.7h0M369 448.8h0M218.6 441.8h0M370.3 441.8h0M367.3 434.8h0M370.2 434.8h0M215 427.8h0M368.2 427.8h0M216.7 420.8h0M369.1 420.8h0M370.9 413.9h0M367.9 399.9h0M371.2 399.9h0M215.7 392.9h0M218.4 392.9h0M370.8 392.9h0M370.8 385.9h0M368.4 378.9h0M371.4 378.9h0M370.4 372h0M215.6 358h0M215.5 330.1h0M218.9 330.1h0M216.3 323.1h0M369.6 323.1h0M218.2 316.1h0M368.5 316.1h0M219.1 309.1h0M370.5 302.1h0M368.4 295.2h0M368.5 288.2h0M368.9 274.2h0M214.6 267.2h0M368.6 267.2h0M371.5 253.3h0M368 232.3h0M368.6 197.4h0M219 190.4h0M367.5 190.4h0M371 190.4h0M216.6 113.6h0M216 106.6h0M368.7 99.6h0M370.1 85.7h0M215 78.7h0M214.5 71.7h0M217.6 71.7h0M367.3 71.7h0M371.3 71.7h0M368.2 57.7h0"/><path stroke="#7482f7" d="M372.6 553.5h0M376.1 553.5h0M373.2 441.8h0M376.2 441.8h0M212.6 420.8h0M374.1 413.9h0M211.9 392.9h0M210.8 378.9h0M373.2 372h0M371.8 365h0M375.9 365h0M210.6 344h0M213.7 344h0M372 344h0M375.8 344h0M212.9 330.1h0M373.1 330.1h0M210.8 302.1h0M374.7 302.1h0M373.9 295.2h0M372.5 288.2h0M376.1 288.2h0M211 267.2h0M372.6 267.2h0M376 267.2h0M213.5 253.3h0M374.8 253.3h0M210.4 218.3h0M374.5 190.4h0M211.2 162.5h0M214 162.5h0M212.9 141.5h0M373.3 134.6h0M372.1 127.6h0M375.7 127.6h0M212.5 113.6h0M372.7 99.6h0M213.6 92.7h0M376.1 92.7h0M373.2 85.7h0M211.9 78.7h0M210.9 64.7h0M371.7 57.7h0M375.1 57.7h0"/><path stroke="#7b7bf7" d="M377.5 546.5h0M381 539.5h0M377 532.6h0M207.5 490.7h0M206.1 441.8h0M379.9 441.8h0M377.7 427.8h0M205.6 420.8h0M209.1 420.8h0M205.3 413.9h0M209.2 413.9h0M208.5 392.9h0M205.7 385.9h0M376.6 372h0M379.3 372h0M206 365h0M378.7 365h0M378.1 358h0M379.8 351h0M208.5 337h0M380.1 323.1h0M378.9 302.1h0M209.3 295.2h0M376.6 295.2h0M206.4 288.2h0M379.6 288.2h0M376.9 281.2h0M380.6 281.2h0M379.5 267.2h0M379.3 225.3h0M207 204.4h0M377.1 197.4h0M379.2 183.4h0M378.7 162.5h0M379.3 141.5h0M378.7 127.6h0M205 120.6h0M208.3 120.6h0M208.7 113.6h0M376.6 113.6h0M379.3 113.6h0M206 99.6h0M205.6 57.7h0M379.2 57.7h0"/><path stroke="#8274f7" d="M381.6 553.5h0M385 483.7h0M200.7 455.7h0M204.4 455.7h0M202.9 441.8h0M382.7 434.8h0M381.4 427.8h0M384.8 427.8h0M201.9 420.8h0M381.6 420.8h0M385.2 420.8h0M383.6 413.9h0M383.7 399.9h0M383.3 385.9h0M383.1 372h0M200.1 358h0M383.1 323.1h0M385.8 323.1h0M385.4 309.1h0M381.9 302.1h0M385.7 302.1h0M202.8 295.2h0M202.3 288.2h0M383.4 288.2h0M383 267.2h0M200.9 218.3h0M203.5 190.4h0M383 183.4h0M385.7 183.4h0M201 169.5h0M202.3 148.5h0M382.2 127.6h0M201.7 120.6h0M204.8 113.6h0M201.5 106.6h0M202.1 92.7h0M384.8 71.7h0M201.4 57.7h0"/><path stroke="#896df7" d="M196.5 560.5h0M388 546.5h0M388.5 525.6h0M197 518.6h0M386 476.7h0M197.6 455.7h0M388.5 448.8h0M386.4 441.8h0M389.2 441.8h0M388.2 434.8h0M198.8 420.8h0M389.1 420.8h0M388.4 406.9h0M387.2 399.9h0M198 392.9h0M387.4 385.9h0M387.2 372h0M197.3 358h0M199.1 344h0M196 337h0M387 316.1h0M389.8 316.1h0M195.7 302.1h0M199.3 302.1h0M388.4 302.1h0M199.1 295.2h0M387.1 295.2h0M386.6 288.2h0M389.5 288.2h0M199.5 281.2h0M386.4 274.2h0M390.5 274.2h0M197.3 260.2h0M386 260.2h0M389.1 260.2h0M198 253.3h0M387.6 246.3h0M387.8 225.3h0M198 218.3h0M198 211.4h0M387.6 197.4h0M196.7 162.5h0M389.9 155.5h0M198.8 148.5h0M196.2 127.6h0M388.7 127.6h0M196.9 85.7h0M387.7 85.7h0M389 71.7h0"/><path stroke="#9067f7" d="M193.5 560.5h0M193.5 553.5h0M392.4 525.6h0M191 497.6h0M392.7 497.6h0M390.7 469.7h0M394.3 469.7h0M392.1 441.8h0M394.9 441.8h0M191.1 434.8h0M195.1 434.8h0M391.7 434.8h0M191.9 420.8h0M195.2 420.8h0M392.7 420.8h0M390.8 385.9h0M192.3 378.9h0M390.7 372h0M394.7 372h0M191.2 358h0M194.2 358h0M393.3 351h0M395.3 344h0M392.6 330.1h0M395.4 330.1h0M393 316.1h0M390.7 295.2h0M394.1 295.2h0M392.7 288.2h0M393.1 281.2h0M393.8 274.2h0M391.9 260.2h0M392.7 239.3h0M393.5 232.3h0M394.5 218.3h0M192.5 211.4h0M391.7 197.4h0M395.3 197.4h0M193.9 162.5h0M395.2 162.5h0M392.7 155.5h0M190.6 148.5h0M193.3 148.5h0M193.4 141.5h0M394.8 134.6h0M392.4 127.6h0M394.8 113.6h0M193.3 85.7h0M393.4 64.7h0M392.7 57.7h0"/><path stroke="#9760f7" d="M396.8 567.5h0M400.1 567.5h0M396.3 560.5h0M398.9 560.5h0M397.6 504.6h0M396.5 497.6h0M398 469.7h0M398.1 462.7h0M190.1 455.7h0M397 448.8h0M399.6 448.8h0M187.4 434.8h0M399.2 434.8h0M396.3 427.8h0M399.6 427.8h0M188.5 420.8h0M396.5 420.8h0M399.9 420.8h0M188.9 378.9h0M188.4 372h0M398.1 372h0M397.2 365h0M188.6 358h0M397.6 358h0M396.2 351h0M399.4 351h0M190.5 337h0M187.4 330.1h0M188.8 323.1h0M396.3 323.1h0M399.6 323.1h0M399.5 316.1h0M396.9 309.1h0M395.7 288.2h0M398.7 288.2h0M186.1 274.2h0M397.8 274.2h0M187.5 267.2h0M395.7 260.2h0M399.3 260.2h0M398.3 253.3h0M186.3 239.3h0M396.4 239.3h0M399.5 239.3h0M396.3 232.3h0M399.8 232.3h0M396.2 211.4h0M396.2 183.4h0M398.9 183.4h0M398.7 162.5h0M186 155.5h0M189.4 155.5h0M396.4 127.6h0M398.2 113.6h0M186.5 99.6h0M399.2 99.6h0M186 85.7h0M189.3 85.7h0M189 71.7h0M396.5 71.7h0M188.4 64.7h0M397.1 64.7h0M396.3 57.7h0"/><path stroke="#9e59f7" d="M404.1 567.5h0M402.8 560.5h0M184.2 546.5h0M401.9 525.6h0M402.5 476.7h0M400.8 469.7h0M181.4 441.8h0M183.2 434.8h0M402.4 434.8h0M402.9 427.8h0M185 406.9h0M401.9 406.9h0M400.3 392.9h0M402.9 392.9h0M404.9 378.9h0M185.7 358h0M400.4 358h0M402.3 351h0M184 337h0M401.9 337h0M183.5 330.1h0M403.2 316.1h0M401.9 302.1h0M402 288.2h0M404.8 288.2h0M403.5 267.2h0M184.5 253.3h0M402.5 253.3h0M402.6 232.3h0M402 218.3h0M400.3 211.4h0M404 190.4h0M403 183.4h0M182.3 176.4h0M181.1 148.5h0M400.3 134.6h0M181.5 127.6h0M184.7 127.6h0M181.3 113.6h0M402.1 113.6h0M400.8 106.6h0M182.4 99.6h0M182 71.7h0M185.1 71.7h0M402 71.7h0M400.3 64.7h0M403.3 64.7h0M401.8 57.7h0"/><path stroke="#a452f7" d="M406.9 567.5h0M405.8 525.6h0M176.6 455.7h0M407.1 448.8h0M405.4 441.8h0M409.5 441.8h0M176.9 434.8h0M179.8 434.8h0M405.5 434.8h0M407 427.8h0M178.5 406.9h0M405.2 406.9h0M408.1 406.9h0M405.3 385.9h0M408.5 385.9h0M408.6 378.9h0M406.8 344h0M405.2 337h0M409 337h0M407.1 323.1h0M178.6 295.2h0M408 288.2h0M406.6 281.2h0M405.3 274.2h0M408.2 274.2h0M407.5 267.2h0M406.8 260.2h0M405.2 253.3h0M409 253.3h0M408 239.3h0M405.6 232.3h0M179 225.3h0M180.5 218.3h0M405.4 218.3h0M407.7 204.4h0M407.1 190.4h0M405.6 183.4h0M408.9 183.4h0M179.5 169.5h0M178 148.5h0M178.5 113.6h0M409.6 113.6h0M407.7 99.6h0M405.2 85.7h0M408.3 85.7h0M178.6 71.7h0M405.4 71.7h0M409.2 71.7h0M405.9 57.7h0M408.8 57.7h0"/><path stroke="#ab4bf7" d="M173.1 567.5h0M410.5 567.5h0M172.7 546.5h0M413.5 532.6h0M172.5 525.6h0M172.1 504.6h0M410.1 504.6h0M412.6 441.8h0M172.5 427.8h0M172.1 413.9h0M174.8 413.9h0M411.4 392.9h0M172.4 378.9h0M171.9 372h0M409.7 365h0M409.9 344h0M413.9 344h0M412.2 337h0M411.2 323.1h0M172.2 302.1h0M413.6 295.2h0M411.1 288.2h0M175 281.2h0M173.6 274.2h0M174 267.2h0M411.5 239.3h0M414.3 225.3h0M411.7 204.4h0M174.2 148.5h0M412.8 148.5h0M175 106.6h0M414.3 106.6h0M413.2 99.6h0M172.6 92.7h0M411.1 85.7h0M172.4 78.7h0M174.5 71.7h0M411.7 57.7h0"/><path stroke="#b244f7" d="M169 567.5h0M169.5 546.5h0M417.4 532.6h0M415.3 525.6h0M417 518.6h0M169.5 504.6h0M417.6 504.6h0M414.5 483.7h0M169.8 469.7h0M168.9 441.8h0M416 441.8h0M169 413.9h0M416.1 413.9h0M415.5 392.9h0M419.1 392.9h0M169.8 378.9h0M419.2 365h0M416.8 351h0M418.1 344h0M416 337h0M414.6 323.1h0M417.3 323.1h0M415.7 316.1h0M169 302.1h0M417.4 302.1h0M167 295.2h0M170.1 295.2h0M417.2 295.2h0M414.9 288.2h0M418.4 288.2h0M171 274.2h0M168.2 246.3h0M419.1 246.3h0M169.8 239.3h0M417.6 225.3h0M418.8 197.4h0M416.6 190.4h0M418.4 169.5h0M170.8 148.5h0M417.9 127.6h0M417.2 99.6h0M168.6 92.7h0M415.1 85.7h0M169.5 78.7h0M417.2 57.7h0"/><path stroke="#b93df7" d="M424 567.5h0M164 560.5h0M166.2 546.5h0M419.5 539.5h0M422.3 539.5h0M420.2 518.6h0M420 497.6h0M422 483.7h0M163.5 469.7h0M166.2 469.7h0M162.5 462.7h0M165.5 441.8h0M419.6 441.8h0M162.5 434.8h0M166.4 434.8h0M165 420.8h0M420.6 406.9h0M164.5 399.9h0M420.7 399.9h0M163.4 372h0M419.6 372h0M423.4 372h0M422.4 365h0M420.8 351h0M421.8 344h0M420.9 323.1h0M162.5 302.1h0M165.3 302.1h0M422.9 302.1h0M420.4 295.2h0M423.8 295.2h0M164.8 288.2h0M423.9 288.2h0M419.5 253.3h0M165.3 246.3h0M166 239.3h0M420.5 225.3h0M421.7 197.4h0M162.8 176.4h0M421.7 169.5h0M423.3 148.5h0M421.9 127.6h0M419.8 106.6h0M420.2 99.6h0M421.6 92.7h0M422.7 71.7h0M163 57.7h0M165.9 57.7h0M421.1 57.7h0"/><path stroke="#c036f7" d="M425.5 539.5h0M425.9 532.6h0M157.7 441.8h0M161.7 441.8h0M425.5 427.8h0M428.1 427.8h0M426.4 420.8h0M158.5 413.9h0M424.1 406.9h0M427.2 406.9h0M160.2 385.9h0M425.1 378.9h0M160.3 372h0M427.4 372h0M157.3 365h0M160.5 365h0M425.2 365h0M424.9 358h0M424.2 351h0M427.5 351h0M161.5 337h0M424.5 323.1h0M427.6 323.1h0M158 316.1h0M160.7 316.1h0M159.2 302.1h0M425.7 302.1h0M161 288.2h0M426.7 288.2h0M427.7 274.2h0M161.5 267.2h0M157.8 260.2h0M158.7 232.3h0M160 218.3h0M161.5 197.4h0M159.8 183.4h0M159.3 176.4h0M426 148.5h0M158 134.6h0M426.3 106.6h0M424.8 92.7h0M425.4 71.7h0"/><path stroke="#c730f7" d="M430.1 553.5h0M153.7 546.5h0M433 539.5h0M429 532.6h0M432.5 497.6h0M429.2 490.7h0M433.1 490.7h0M433 476.7h0M430.6 462.7h0M433.4 462.7h0M153.5 455.7h0M157.1 455.7h0M155 434.8h0M430 385.9h0M432.8 385.9h0M152.8 372h0M153.5 365h0M430.4 358h0M155 337h0M431.4 323.1h0M154.9 316.1h0M432.2 316.1h0M152.7 302.1h0M155.4 302.1h0M430.6 288.2h0M153.5 281.2h0M433.1 281.2h0M431 274.2h0M153.8 260.2h0M429 239.3h0M152.6 232.3h0M155.7 232.3h0M152.5 225.3h0M430.9 218.3h0M157 211.4h0M429.2 197.4h0M152.8 183.4h0M156.5 183.4h0M157 169.5h0M433.4 127.6h0M156.5 106.6h0M157 78.7h0M155 71.7h0M155.9 64.7h0M430.6 57.7h0"/><path stroke="#ce29f7" d="M149.5 546.5h0M437.1 539.5h0M149 490.7h0M151.4 476.7h0M149 469.7h0M148.5 448.8h0M435.1 441.8h0M150 413.9h0M436.2 385.9h0M150.3 378.9h0M149.9 365h0M150.6 344h0M436.3 344h0M434.5 337h0M148.8 316.1h0M152.1 316.1h0M149.1 302.1h0M435.3 295.2h0M434.5 288.2h0M434.9 274.2h0M438.2 274.2h0M151.1 260.2h0M435.3 260.2h0M149.7 225.3h0M435 218.3h0M149.5 211.4h0M436.4 183.4h0M148.5 169.5h0M437.5 148.5h0M434.8 106.6h0M435.6 85.7h0M437.9 71.7h0"/><path stroke="#d422f7" d="M440.6 553.5h0M440.5 539.5h0M439.6 490.7h0M144 455.7h0M145.3 448.8h0M144.5 434.8h0M146 427.8h0M145.8 413.9h0M439.6 413.9h0M442.5 413.9h0M439.6 385.9h0M442.5 385.9h0M147.3 378.9h0M143.3 372h0M438.9 372h0M442 372h0M146.2 365h0M439.9 358h0M146.9 344h0M439.6 344h0M442.9 344h0M147.5 337h0M438.4 337h0M441.5 337h0M146 330.1h0M146.1 316.1h0M441.4 309.1h0M145.5 295.2h0M438.6 288.2h0M442.5 288.2h0M442.6 281.2h0M440.8 274.2h0M144 176.4h0M146.8 176.4h0M442.2 155.5h0M146.5 71.7h0M143.5 57.7h0"/><path stroke="#db1bf7" d="M443.8 553.5h0M140.9 476.7h0M447.5 476.7h0M139.9 455.7h0M138.5 448.8h0M142.7 448.8h0M141 434.8h0M446 434.8h0M142.5 427.8h0M142.5 420.8h0M446.9 420.8h0M139.3 413.9h0M445.5 413.9h0M139 399.9h0M446.2 399.9h0M139.8 378.9h0M446.6 378.9h0M140 372h0M142.5 365h0M443.2 358h0M446.9 358h0M445.7 344h0M139 337h0M445.3 337h0M446.9 330.1h0M138.3 323.1h0M446.9 323.1h0M139.5 316.1h0M142.8 316.1h0M140.6 302.1h0M445.5 288.2h0M444.5 274.2h0M446 253.3h0M141.5 239.3h0M142.1 232.3h0M446.8 211.4h0M141.3 183.4h0M443.9 183.4h0M445.5 155.5h0M140.9 141.5h0M444.9 127.6h0M444.3 106.6h0M446.7 99.6h0M139.1 92.7h0M447.4 71.7h0"/><path stroke="#e214f7" d="M136.5 567.5h0M135.5 497.6h0M137.5 476.7h0M450.6 476.7h0M448.9 462.7h0M133.8 455.7h0M137.2 455.7h0M133.5 434.8h0M137.1 434.8h0M449.7 434.8h0M448.8 413.9h0M451.8 413.9h0M449.9 378.9h0M134 372h0M137.2 372h0M449.5 372h0M449.3 344h0M135.8 337h0M449.1 337h0M452.5 337h0M450.5 330.1h0M449.5 323.1h0M136.6 309.1h0M447.9 309.1h0M137 302.1h0M449.2 302.1h0M137.5 274.2h0M449.7 253.3h0M136.8 246.3h0M134.8 232.3h0M138.1 232.3h0M448.5 218.3h0M450.1 190.4h0M134.2 183.4h0M137.3 183.4h0M451.4 183.4h0M449.3 176.4h0M449.2 169.5h0M134.4 162.5h0M451.2 162.5h0M449.3 155.5h0M451 148.5h0M137.5 141.5h0M134.9 99.6h0M134.5 85.7h0M452.1 57.7h0"/><path stroke="#e90df7" d="M132.5 532.6h0M455 497.6h0M129.5 469.7h0M453.1 462.7h0M131 455.7h0M453.6 434.8h0M128.8 413.9h0M129.7 385.9h0M129.8 378.9h0M133.3 378.9h0M456.4 378.9h0M130.5 372h0M452.9 372h0M131.2 358h0M453.4 358h0M131.4 344h0M452.8 344h0M456.7 344h0M129.5 330.1h0M128.8 323.1h0M132.5 309.1h0M454.7 302.1h0M455 267.2h0M129.5 246.3h0M132.8 246.3h0M452.6 246.3h0M455.3 246.3h0M131.5 232.3h0M129.2 225.3h0M452.7 197.4h0M130.5 183.4h0M455.2 183.4h0M130.5 162.5h0M456.8 155.5h0M455 148.5h0M131.2 120.6h0M453.9 120.6h0M131 99.6h0M129.6 92.7h0M131 57.7h0"/><path stroke="#f006f7" d="M127 525.6h0M458.5 511.6h0M126.5 490.7h0M125.5 455.7h0M460.6 448.8h0M127.2 441.8h0M125.5 413.9h0M461.7 406.9h0M125.5 399.9h0M126 385.9h0M128 358h0M457.4 358h0M128.5 344h0M459.7 344h0M124.3 337h0M125.5 323.1h0M461 323.1h0M458.2 253.3h0M462.1 253.3h0M458.7 246.3h0M461.3 246.3h0M459.1 232.3h0M125 225.3h0M126 211.4h0M457.7 169.5h0M460.8 169.5h0M127.5 162.5h0M460.6 155.5h0M124.3 148.5h0M458.3 148.5h0M124.5 120.6h0M127.5 120.6h0M125.8 92.7h0M461.3 92.7h0M127.5 78.7h0M125.5 64.7h0M128.4 64.7h0M458.8 64.7h0M461.8 64.7h0M125.5 57.7h0"/><path stroke="#f700f7" d="M122.5 560.5h0M464.5 497.6h0M463.3 469.7h0M463.3 448.8h0M123.5 441.8h0M464.3 413.9h0M464.7 399.9h0M121.5 392.9h0M122.5 385.9h0M123.3 378.9h0M462.9 378.9h0M122.5 358h0M463.9 358h0M463.7 323.1h0M122.5 288.2h0M464.1 281.2h0M121.6 260.2h0M462.8 260.2h0M465 253.3h0M463.5 239.3h0M463 232.3h0M121.5 225.3h0M122.2 211.4h0M121.5 176.4h0M463.4 169.5h0M462.7 162.5h0M121.5 155.5h0M121.5 148.5h0M123.5 134.6h0M122.5 99.6h0M122.5 92.7h0M464.1 92.7h0M464.9 71.7h0"/></g>
<g fill="none" stroke-width="5.4" stroke-linecap="round"><path stroke="#00bcbc" d="M818.7 558.4h0M818.1 549.6h0M821.7 540.8h0M820.5 470.5h0M818 461.7h0M818.1 444.1h0M817.8 400.2h0M821.5 400.2h0M820.8 391.4h0M821.7 365h0M820.3 356.2h0M818.2 321.1h0M822 83.8h0"/><path stroke="#05b7bc" d="M822.8 567.2h0M815.6 558.4h0M814.5 549.6h0M823.5 532h0M817.1 470.5h0M826.8 435.4h0M825.5 409h0M825.6 400.2h0M823.4 391.4h0M823.9 356.2h0M827 356.2h0M814.5 338.7h0M814 285.9h0M813 259.6h0M816.6 259.6h0M816.9 215.6h0M825.4 215.6h0M814.2 198h0M816.8 57.4h0"/><path stroke="#0ab2bc" d="M828.3 567.2h0M811.1 505.7h0M812.8 496.9h0M809.4 488.1h0M810.1 479.3h0M831.2 452.9h0M828.5 409h0M831.2 382.6h0M827.6 347.5h0M831.7 347.5h0M827.7 321.1h0M830.7 321.1h0M809.8 285.9h0M828.4 277.1h0M812.3 268.4h0M827.8 268.4h0M808.9 259.6h0M828.7 215.6h0M810.5 171.7h0"/><path stroke="#0facbc" d="M833.8 567.2h0M806.1 558.4h0M808 549.6h0M805 505.7h0M808 505.7h0M833.3 496.9h0M806.2 488.1h0M805.7 452.9h0M803.8 426.6h0M832.3 426.6h0M835.2 382.6h0M807.2 365h0M803.8 268.4h0M836.3 268.4h0M834.1 259.6h0M804.1 66.2h0M834.3 57.4h0"/><path stroke="#14a7bc" d="M799.4 567.2h0M802.3 567.2h0M839 532h0M798.8 523.3h0M798.8 514.5h0M841.3 514.5h0M802.3 496.9h0M800.6 444.1h0M799.5 435.4h0M803.3 435.4h0M839.2 382.6h0M837.8 373.8h0M840.2 347.5h0M798.7 259.6h0M802.4 259.6h0M837.5 101.3h0M800.9 66.2h0M839.6 66.2h0"/><path stroke="#1aa2bc" d="M795.5 567.2h0M844.5 532h0M795.6 479.3h0M794.6 470.5h0M843 470.5h0M795.6 435.4h0M796.5 417.8h0M843.9 391.4h0M794.7 365h0M795.8 294.7h0M842.5 285.9h0M845.5 145.3h0M841.5 127.7h0M794.4 66.2h0M798.3 66.2h0M843.4 66.2h0"/><path stroke="#1f9dbc" d="M847.3 567.2h0M851 567.2h0M791.5 505.7h0M789.8 496.9h0M849.9 488.1h0M849.6 479.3h0M791 470.5h0M846.5 470.5h0M849.8 470.5h0M846.7 452.9h0M849.3 435.4h0M790.6 365h0M849.7 242h0M790.7 66.2h0M847.5 66.2h0"/><path stroke="#2498bc" d="M854.8 567.2h0M784.6 558.4h0M853.2 540.8h0M784.3 505.7h0M787.5 505.7h0M786.6 496.9h0M852.6 479.3h0M788 470.5h0M852.8 435.4h0M786 409h0M851.4 391.4h0M785.7 382.6h0M851.7 382.6h0M788.7 321.1h0M854.8 268.4h0M853.6 259.6h0M853.8 242h0M853 206.8h0M852 171.7h0M854.8 171.7h0M854 127.7h0M853.8 57.4h0"/><path stroke="#2992bc" d="M781.6 558.4h0M781.5 549.6h0M780 532h0M780.3 505.7h0M779.6 496.9h0M782.9 496.9h0M781.4 470.5h0M784.3 470.5h0M859.5 461.7h0M781.3 294.7h0M782.3 285.9h0M858.8 268.4h0M856.3 259.6h0M858.9 259.6h0M859.6 233.2h0M783.4 215.6h0M857.5 154.1h0M857.5 136.5h0"/><path stroke="#2f8dbc" d="M776 567.2h0M864.2 558.4h0M775.2 540.8h0M776.6 505.7h0M864.6 505.7h0M776.9 496.9h0M778.5 461.7h0M864 409h0M779.3 373.8h0M864.2 329.9h0M778.3 268.4h0M862.5 259.6h0M777.2 242h0M861 154.1h0M864.5 118.9h0M861 92.6h0M864.1 92.6h0"/><path stroke="#3488bc" d="M772.1 558.4h0M772.5 505.7h0M867.8 505.7h0M770.7 488.1h0M771.9 470.5h0M869.2 452.9h0M869.6 444.1h0M774.3 426.6h0M870 417.8h0M868 338.7h0M774.1 268.4h0M770.9 215.6h0M770.5 206.8h0M870 180.5h0M774 171.7h0M770.9 66.2h0M774.2 66.2h0"/><path stroke="#3983bc" d="M768.7 505.7h0M871.6 505.7h0M767.6 488.1h0M871.8 452.9h0M873 417.8h0M766.3 400.2h0M769.2 382.6h0M765.8 373.8h0M872.5 356.2h0M872.2 321.1h0M765.9 277.1h0M873.9 277.1h0M765.2 259.6h0M872.1 250.8h0M874.1 233.2h0M767.5 215.6h0M873.6 180.5h0M769.3 57.4h0"/><path stroke="#3e7dbc" d="M764.5 567.2h0M877.6 549.6h0M765.2 505.7h0M763.4 488.1h0M764.1 479.3h0M877.3 452.9h0M877.3 435.4h0M876.5 409h0M762.6 400.2h0M762.7 373.8h0M761.4 365h0M765.1 365h0M763 338.7h0M761.8 294.7h0M762.2 259.6h0M877 259.6h0M877.7 198h0M877.2 180.5h0M760.8 57.4h0"/><path stroke="#4478bc" d="M881.4 549.6h0M759.5 488.1h0M882.4 488.1h0M882 461.7h0M755.7 452.9h0M759.2 452.9h0M757.1 435.4h0M880.3 435.4h0M882.9 435.4h0M880 356.2h0M881.3 268.4h0M759.5 259.6h0M880.5 259.6h0M883.9 259.6h0M880.6 233.2h0M756.4 66.2h0M881 66.2h0M758 57.4h0"/><path stroke="#4973bc" d="M752 549.6h0M752.5 532h0M754.3 523.3h0M751.4 470.5h0M885.9 461.7h0M753.8 435.4h0M752.5 409h0M755.6 268.4h0M884.7 268.4h0M888.7 180.5h0M884.5 127.7h0M752.5 92.6h0M885.5 83.8h0M752.2 66.2h0M884.5 66.2h0M888 66.2h0"/><path stroke="#4e6ebc" d="M891.3 567.2h0M747.6 558.4h0M892.7 558.4h0M746.2 452.9h0M749.1 444.1h0M889.4 435.4h0M749 409h0M891.5 338.7h0M746.7 329.9h0M749.5 189.2h0M749.5 171.7h0M748.7 66.2h0M891.3 66.2h0"/><path stroke="#5368bc" d="M744 567.2h0M743.6 558.4h0M896.6 558.4h0M744 532h0M742.8 523.3h0M745.7 505.7h0M898.1 505.7h0M895.1 444.1h0M896.5 417.8h0M894.1 400.2h0M897.2 400.2h0M743.3 391.4h0M742.7 382.6h0M897.2 382.6h0M895.4 338.7h0M743.4 329.9h0M895.7 321.1h0M895 312.3h0M894.2 268.4h0M742 215.6h0M895.5 206.8h0M742 127.7h0M741.9 66.2h0M745.6 66.2h0"/><path stroke="#5963bc" d="M740 567.2h0M740.1 558.4h0M902.2 505.7h0M737 488.1h0M736.7 452.9h0M739.7 452.9h0M900.6 417.8h0M739 382.6h0M900.5 382.6h0M739.2 321.1h0M737.1 268.4h0M900.7 268.4h0M740 259.6h0M737.8 233.2h0M741.1 233.2h0M901.5 224.4h0M739 215.6h0M901 127.7h0M899.3 57.4h0M902 57.4h0"/><path stroke="#5e5ebc" d="M732.5 567.2h0M903.9 549.6h0M733.7 540.8h0M734.3 523.3h0M906 505.7h0M734.9 382.6h0M907 285.9h0M734.2 268.4h0M904.2 268.4h0M907.1 268.4h0M732.7 259.6h0M736.3 259.6h0M904.4 259.6h0M734 233.2h0M734 206.8h0M732 171.7h0M904.3 127.7h0M908 118.9h0M904.8 66.2h0M733.5 57.4h0M906.2 57.4h0"/><path stroke="#6359bc" d="M728.7 567.2h0M727.2 540.8h0M911.9 488.1h0M910.4 461.7h0M908.8 452.9h0M912.9 435.4h0M729.1 426.6h0M731.8 426.6h0M731.7 382.6h0M909.3 373.8h0M912.3 373.8h0M911.5 356.2h0M911.7 347.5h0M910.7 329.9h0M728.8 285.9h0M731 268.4h0M728.7 259.6h0M908.6 259.6h0M911.2 259.6h0M731.7 242h0M729.5 215.6h0M730 206.8h0M908.4 127.7h0M729.4 66.2h0M908.8 66.2h0M912.5 66.2h0M730.3 57.4h0"/><path stroke="#6853bc" d="M722.9 558.4h0M725.6 558.4h0M915.4 549.6h0M724.4 540.8h0M915.7 540.8h0M724.3 514.5h0M724.4 496.9h0M914.8 488.1h0M913.1 479.3h0M916.9 461.7h0M722.6 444.1h0M914.6 444.1h0M916.2 435.4h0M916.1 417.8h0M915.7 400.2h0M723.2 356.2h0M726.8 356.2h0M915.6 356.2h0M722.7 321.1h0M913.9 303.5h0M723.6 294.7h0M726.3 294.7h0M915.4 277.1h0M724.9 259.6h0M914.6 259.6h0M917.2 215.6h0M725.4 66.2h0M916.4 66.2h0"/><path stroke="#6e4ebc" d="M918.8 567.2h0M922.2 540.8h0M918 532h0M921.7 532h0M920.3 523.3h0M918.7 488.1h0M922.2 488.1h0M919.3 470.5h0M922.2 470.5h0M918 409h0M918.7 400.2h0M718.1 373.8h0M721.2 373.8h0M919.2 347.5h0M718.6 321.1h0M718.6 285.9h0M721.3 285.9h0M920.9 277.1h0M917.9 259.6h0M921.1 259.6h0M719.6 250.8h0M718.2 242h0M722.2 242h0M920.3 242h0M919 136.5h0M919.9 127.7h0M718 92.6h0M718.3 66.2h0M721.3 66.2h0M919.2 66.2h0"/><path stroke="#7349bc" d="M925.3 567.2h0M714.4 558.4h0M713.3 549.6h0M717.5 549.6h0M924.9 549.6h0M924.5 532h0M713 470.5h0M716.9 470.5h0M713.1 444.1h0M924.7 435.4h0M713.6 426.6h0M926.6 417.8h0M922.8 400.2h0M926.2 329.9h0M715.6 321.1h0M926.4 303.5h0M924.5 285.9h0M714.3 242h0M924.3 242h0"/><path stroke="#7844bc" d="M928.1 567.2h0M931.2 567.2h0M710.6 558.4h0M709.2 549.6h0M709.3 470.5h0M712 461.7h0M928.4 461.7h0M708.6 452.9h0M711.2 452.9h0M708.3 435.4h0M928 435.4h0M709.8 426.6h0M929.4 417.8h0M710.2 382.6h0M708.8 321.1h0M712.6 321.1h0M930.5 312.3h0M928.6 285.9h0M708.4 277.1h0M710.5 268.4h0M930.6 259.6h0M927.9 242h0M931.6 242h0M928.1 233.2h0M931.4 233.2h0M709.5 206.8h0M927.5 162.9h0M710.5 92.6h0M709.9 66.2h0M712.8 66.2h0M708.8 57.4h0M928.7 57.4h0"/><path stroke="#7d3ebc" d="M934.6 567.2h0M703.9 558.4h0M707.3 558.4h0M936.4 549.6h0M706.9 540.8h0M705.8 523.3h0M704.2 505.7h0M705.5 488.1h0M707.6 479.3h0M704 470.5h0M706.6 470.5h0M934.3 452.9h0M705 435.4h0M706.5 409h0M936.5 409h0M933 382.6h0M935.8 382.6h0M934.8 373.8h0M706.5 338.7h0M706.1 321.1h0M704.1 285.9h0M932.5 285.9h0M705.8 277.1h0M934.6 259.6h0M704.2 242h0M707.8 242h0M934.1 233.2h0M707 215.6h0M706.3 66.2h0M932.7 66.2h0M705.8 57.4h0M932.1 57.4h0"/><path stroke="#8339bc" d="M937.8 567.2h0M701 558.4h0M700.7 549.6h0M939.2 549.6h0M698.7 505.7h0M936.8 496.9h0M700.6 444.1h0M940.9 391.4h0M939.8 382.6h0M702.6 373.8h0M699.6 321.1h0M703.2 321.1h0M701.4 303.5h0M700.7 285.9h0M700 268.4h0M701.4 259.6h0M937.3 233.2h0M699.3 66.2h0M703.3 66.2h0M936.8 66.2h0M939.4 66.2h0"/><path stroke="#8834bc" d="M695 558.4h0M697.9 558.4h0M697.3 549.6h0M943.7 540.8h0M694.7 532h0M697.5 532h0M695.3 523.3h0M695.5 505.7h0M696.7 444.1h0M946.1 444.1h0M694.3 426.6h0M694.7 382.6h0M698.5 373.8h0M693.9 365h0M945 312.3h0M943.3 294.7h0M693.9 285.9h0M697.1 285.9h0M693.9 259.6h0M944.1 259.6h0M945.8 233.2h0M697 145.3h0M946 145.3h0M696.1 66.2h0M942.6 66.2h0"/><path stroke="#8d2fbc" d="M689.5 567.2h0M692.2 567.2h0M948.3 567.2h0M690.9 558.4h0M693.5 549.6h0M689.6 540.8h0M693.4 540.8h0M692 532h0M691.9 523.3h0M946.8 523.3h0M689.1 505.7h0M692.2 505.7h0M947.5 505.7h0M949.3 496.9h0M948.6 479.3h0M689.5 461.7h0M692.1 452.9h0M693 444.1h0M949.1 444.1h0M690.7 426.6h0M946.9 417.8h0M691 382.6h0M949.2 365h0M949.9 338.7h0M948.2 321.1h0M689.8 285.9h0M949 285.9h0M689.3 277.1h0M693.5 268.4h0M690.1 259.6h0M949.6 259.6h0M948.7 233.2h0M947.4 127.7h0M946.5 66.2h0M949.7 66.2h0M689.3 57.4h0M692.3 57.4h0"/><path stroke="#9229bc" d="M687 558.4h0M686 540.8h0M952.2 540.8h0M685.4 505.7h0M951.5 505.7h0M954.3 505.7h0M952.5 496.9h0M686 488.1h0M953.7 488.1h0M684.5 470.5h0M685.7 461.7h0M951.9 461.7h0M955 461.7h0M684.8 452.9h0M688.9 452.9h0M952.8 426.6h0M951 417.8h0M951.4 391.4h0M954.3 391.4h0M684.8 365h0M687.4 365h0M952.8 365h0M955.6 365h0M955.1 356.2h0M951.4 321.1h0M687.1 294.7h0M952.5 285.9h0M686.5 277.1h0M686.6 259.6h0M952.7 259.6h0M955.7 259.6h0M684.7 242h0M951.7 233.2h0M952.2 180.5h0M953 162.9h0M953.1 66.2h0M686.4 57.4h0"/><path stroke="#9824bc" d="M959.8 567.2h0M958.7 549.6h0M956.4 540.8h0M683.5 532h0M958 532h0M957.3 523.3h0M680.8 514.5h0M680.1 505.7h0M682.7 505.7h0M957.8 505.7h0M681.9 496.9h0M957.7 461.7h0M681.7 452.9h0M960 409h0M679.6 382.6h0M682.5 382.6h0M684 373.8h0M959.3 365h0M680.7 356.2h0M958.7 356.2h0M681.1 347.5h0M684 294.7h0M682.7 277.1h0M958.6 268.4h0M683 259.6h0M959.2 259.6h0M958 224.4h0M958.7 180.5h0M682.7 57.4h0"/><path stroke="#9d1fbc" d="M962.6 549.6h0M961.9 540.8h0M963.5 532h0M678 514.5h0M677.3 505.7h0M960.7 505.7h0M963.9 505.7h0M678 496.9h0M676.2 461.7h0M964.2 461.7h0M675 452.9h0M677.9 452.9h0M675.7 444.1h0M678.5 444.1h0M960.8 391.4h0M964.5 391.4h0M677 382.6h0M961.3 382.6h0M964.9 382.6h0M963.5 365h0M675.9 329.9h0M676.1 321.1h0M674.9 303.5h0M964.9 303.5h0M678.5 277.1h0M675 268.4h0M678 268.4h0M962.3 268.4h0M678.9 259.6h0M962.3 259.6h0M965 259.6h0M678.5 233.2h0M962 224.4h0M964.6 224.4h0M960.7 215.6h0M961.4 180.5h0M963.6 66.2h0M678.8 57.4h0M960.6 57.4h0M963.9 57.4h0"/><path stroke="#a21abc" d="M671.5 558.4h0M967.1 558.4h0M965.5 549.6h0M968.6 549.6h0M674 532h0M966.8 532h0M672.5 514.5h0M967.8 505.7h0M672.1 479.3h0M969.1 479.3h0M969.7 470.5h0M672.5 461.7h0M967.4 461.7h0M671.8 452.9h0M965.6 444.1h0M969.5 435.4h0M671.2 426.6h0M968.5 417.8h0M670 400.2h0M674.1 400.2h0M673.2 356.2h0M670.6 347.5h0M673 338.7h0M969.4 338.7h0M673.1 329.9h0M672 321.1h0M966.9 321.1h0M969.9 321.1h0M670.5 312.3h0M969.5 312.3h0M672 303.5h0M966 285.9h0M970 285.9h0M674.5 277.1h0M969.4 277.1h0M671.1 268.4h0M966.2 268.4h0M968.5 259.6h0M965.6 250.8h0M967.7 224.4h0M969.2 215.6h0M966.5 75h0M966.2 66.2h0M969.4 66.2h0M672.3 57.4h0M967.1 57.4h0"/><path stroke="#a714bc" d="M971.3 549.6h0M665.5 540.8h0M971.5 505.7h0M974.7 505.7h0M972 496.9h0M665.5 488.1h0M669.5 488.1h0M668 479.3h0M973.1 479.3h0M972.8 470.5h0M668.5 461.7h0M971.4 461.7h0M667.8 452.9h0M971.8 452.9h0M666 444.1h0M669.2 444.1h0M667.4 426.6h0M972.7 417.8h0M666.1 391.4h0M669.8 391.4h0M668.5 382.6h0M974.4 382.6h0M665.5 373.8h0M666.3 365h0M669.5 356.2h0M667.5 347.5h0M665.5 303.5h0M668.4 303.5h0M972.1 277.1h0M667 268.4h0M970.3 268.4h0M973.5 268.4h0M665.4 259.6h0M972.2 259.6h0M974.7 215.6h0M974 206.8h0M668.6 66.2h0M973.1 66.2h0M668.7 57.4h0M971.2 57.4h0"/><path stroke="#ac0fbc" d="M663 567.2h0M977.3 567.2h0M975.6 558.4h0M975.2 549.6h0M976.4 540.8h0M979.2 540.8h0M660.8 532h0M663.5 532h0M661.4 523.3h0M978.8 505.7h0M975.8 479.3h0M976.9 470.5h0M662.2 461.7h0M664.8 461.7h0M662 452.9h0M664.8 452.9h0M975.8 452.9h0M979.3 452.9h0M978 435.4h0M661.5 426.6h0M664.2 426.6h0M660.5 400.2h0M978.3 400.2h0M662.1 391.4h0M975 391.4h0M978.6 391.4h0M664.5 382.6h0M662.1 365h0M974.9 338.7h0M661.6 329.9h0M660.5 321.1h0M976.1 277.1h0M664.3 268.4h0M976.4 268.4h0M979.3 268.4h0M976.4 259.6h0M660.4 250.8h0M663.1 250.8h0M976.1 250.8h0M978.2 233.2h0M662 224.4h0M662.5 215.6h0M977.1 206.8h0M661.5 198h0M664.7 198h0M662.5 127.7h0M976.5 118.9h0M661.5 66.2h0M664.4 66.2h0M976.4 66.2h0M661.6 57.4h0M664.8 57.4h0M974.9 57.4h0M978.8 57.4h0"/><path stroke="#b20abc" d="M982.9 540.8h0M657 532h0M658.5 523.3h0M657.8 505.7h0M656.5 496.9h0M981.5 496.9h0M657.5 479.3h0M979.8 470.5h0M983.5 470.5h0M656.7 461.7h0M658.6 452.9h0M983.1 444.1h0M981.3 426.6h0M660 417.8h0M659.1 391.4h0M655.8 365h0M659.4 365h0M658.5 329.9h0M979.8 277.1h0M982.3 268.4h0M980.5 259.6h0M984.3 259.6h0M656.7 250.8h0M657.2 242h0M981.8 233.2h0M658 224.4h0M980.9 180.5h0M656.5 171.7h0M981.3 171.7h0M983.5 154.1h0M659.5 145.3h0M658.5 110.1h0M658 66.2h0M980.3 66.2h0M984.1 66.2h0M658.5 57.4h0M981.7 57.4h0M984.3 57.4h0"/><path stroke="#b705bc" d="M986.8 567.2h0M986.1 558.4h0M989 558.4h0M985.9 540.8h0M654.5 505.7h0M988.3 479.3h0M986.4 470.5h0M652.8 461.7h0M654.5 452.9h0M986.5 444.1h0M988.5 435.4h0M986.8 426.6h0M651.5 417.8h0M651.5 391.4h0M655 391.4h0M652.5 365h0M652.5 338.7h0M985.4 338.7h0M988.6 338.7h0M654.5 329.9h0M654.5 294.7h0M654.3 285.9h0M652.8 268.4h0M985.2 268.4h0M988.6 268.4h0M986.9 259.6h0M653 250.8h0M653.3 242h0M985.1 233.2h0M988.2 233.2h0M985.2 224.4h0M988.7 224.4h0M985.6 206.8h0M989 189.2h0M984.4 180.5h0M985 171.7h0M988.8 171.7h0M987.6 154.1h0M651.5 66.2h0M654.5 66.2h0M988.3 57.4h0"/><path stroke="#bc00bc" d="M989.6 567.2h0M989.2 540.8h0M991.3 532h0M991.5 479.3h0M989.7 470.5h0M649.5 461.7h0M989.8 444.1h0M991.1 435.4h0M990.1 426.6h0M989.5 409h0M990.7 347.5h0M650.5 285.9h0M991.3 277.1h0M649.6 268.4h0M991.8 268.4h0M990.9 259.6h0M649.5 242h0"/></g><g fill="none" stroke-width="3.3" stroke-linecap="round"><path stroke="#00f7f7" d="M818.7 558.4h0M818.1 549.6h0M821.7 540.8h0M820.5 470.5h0M818 461.7h0M818.1 444.1h0M817.8 400.2h0M821.5 400.2h0M820.8 391.4h0M821.7 365h0M820.3 356.2h0M818.2 321.1h0M822 83.8h0"/><path stroke="#06f0f7" d="M822.8 567.2h0M815.6 558.4h0M814.5 549.6h0M823.5 532h0M817.1 470.5h0M826.8 435.4h0M825.5 409h0M825.6 400.2h0M823.4 391.4h0M823.9 356.2h0M827 356.2h0M814.5 338.7h0M814 285.9h0M813 259.6h0M816.6 259.6h0M816.9 215.6h0M825.4 215.6h0M814.2 198h0M816.8 57.4h0"/><path stroke="#0de9f7" d="M828.3 567.2h0M811.1 505.7h0M812.8 496.9h0M809.4 488.1h0M810.1 479.3h0M831.2 452.9h0M828.5 409h0M831.2 382.6h0M827.6 347.5h0M831.7 347.5h0M827.7 321.1h0M830.7 321.1h0M809.8 285.9h0M828.4 277.1h0M812.3 268.4h0M827.8 268.4h0M808.9 259.6h0M828.7 215.6h0M810.5 171.7h0"/><path stroke="#14e2f7" d="M833.8 567.2h0M806.1 558.4h0M808 549.6h0M805 505.7h0M808 505.7h0M833.3 496.9h0M806.2 488.1h0M805.7 452.9h0M803.8 426.6h0M832.3 426.6h0M835.2 382.6h0M807.2 365h0M803.8 268.4h0M836.3 268.4h0M834.1 259.6h0M804.1 66.2h0M834.3 57.4h0"/><path stroke="#1bdbf7" d="M799.4 567.2h0M802.3 567.2h0M839 532h0M798.8 523.3h0M798.8 514.5h0M841.3 514.5h0M802.3 496.9h0M800.6 444.1h0M799.5 435.4h0M803.3 435.4h0M839.2 382.6h0M837.8 373.8h0M840.2 347.5h0M798.7 259.6h0M802.4 259.6h0M837.5 101.3h0M800.9 66.2h0M839.6 66.2h0"/><path stroke="#22d4f7" d="M795.5 567.2h0M844.5 532h0M795.6 479.3h0M794.6 470.5h0M843 470.5h0M795.6 435.4h0M796.5 417.8h0M843.9 391.4h0M794.7 365h0M795.8 294.7h0M842.5 285.9h0M845.5 145.3h0M841.5 127.7h0M794.4 66.2h0M798.3 66.2h0M843.4 66.2h0"/><path stroke="#29cef7" d="M847.3 567.2h0M851 567.2h0M791.5 505.7h0M789.8 496.9h0M849.9 488.1h0M849.6 479.3h0M791 470.5h0M846.5 470.5h0M849.8 470.5h0M846.7 452.9h0M849.3 435.4h0M790.6 365h0M849.7 242h0M790.7 66.2h0M847.5 66.2h0"/><path stroke="#30c7f7" d="M854.8 567.2h0M784.6 558.4h0M853.2 540.8h0M784.3 505.7h0M787.5 505.7h0M786.6 496.9h0M852.6 479.3h0M788 470.5h0M852.8 435.4h0M786 409h0M851.4 391.4h0M785.7 382.6h0M851.7 382.6h0M788.7 321.1h0M854.8 268.4h0M853.6 259.6h0M853.8 242h0M853 206.8h0M852 171.7h0M854.8 171.7h0M854 127.7h0M853.8 57.4h0"/><path stroke="#36c0f7" d="M781.6 558.4h0M781.5 549.6h0M780 532h0M780.3 505.7h0M779.6 496.9h0M782.9 496.9h0M781.4 470.5h0M784.3 470.5h0M859.5 461.7h0M781.3 294.7h0M782.3 285.9h0M858.8 268.4h0M856.3 259.6h0M858.9 259.6h0M859.6 233.2h0M783.4 215.6h0M857.5 154.1h0M857.5 136.5h0"/><path stroke="#3db9f7" d="M776 567.2h0M864.2 558.4h0M775.2 540.8h0M776.6 505.7h0M864.6 505.7h0M776.9 496.9h0M778.5 461.7h0M864 409h0M779.3 373.8h0M864.2 329.9h0M778.3 268.4h0M862.5 259.6h0M777.2 242h0M861 154.1h0M864.5 118.9h0M861 92.6h0M864.1 92.6h0"/><path stroke="#44b2f7" d="M772.1 558.4h0M772.5 505.7h0M867.8 505.7h0M770.7 488.1h0M771.9 470.5h0M869.2 452.9h0M869.6 444.1h0M774.3 426.6h0M870 417.8h0M868 338.7h0M774.1 268.4h0M770.9 215.6h0M770.5 206.8h0M870 180.5h0M774 171.7h0M770.9 66.2h0M774.2 66.2h0"/><path stroke="#4babf7" d="M768.7 505.7h0M871.6 505.7h0M767.6 488.1h0M871.8 452.9h0M873 417.8h0M766.3 400.2h0M769.2 382.6h0M765.8 373.8h0M872.5 356.2h0M872.2 321.1h0M765.9 277.1h0M873.9 277.1h0M765.2 259.6h0M872.1 250.8h0M874.1 233.2h0M767.5 215.6h0M873.6 180.5h0M769.3 57.4h0"/><path stroke="#52a4f7" d="M764.5 567.2h0M877.6 549.6h0M765.2 505.7h0M763.4 488.1h0M764.1 479.3h0M877.3 452.9h0M877.3 435.4h0M876.5 409h0M762.6 400.2h0M762.7 373.8h0M761.4 365h0M765.1 365h0M763 338.7h0M761.8 294.7h0M762.2 259.6h0M877 259.6h0M877.7 198h0M877.2 180.5h0M760.8 57.4h0"/><path stroke="#599ef7" d="M881.4 549.6h0M759.5 488.1h0M882.4 488.1h0M882 461.7h0M755.7 452.9h0M759.2 452.9h0M757.1 435.4h0M880.3 435.4h0M882.9 435.4h0M880 356.2h0M881.3 268.4h0M759.5 259.6h0M880.5 259.6h0M883.9 259.6h0M880.6 233.2h0M756.4 66.2h0M881 66.2h0M758 57.4h0"/><path stroke="#6097f7" d="M752 549.6h0M752.5 532h0M754.3 523.3h0M751.4 470.5h0M885.9 461.7h0M753.8 435.4h0M752.5 409h0M755.6 268.4h0M884.7 268.4h0M888.7 180.5h0M884.5 127.7h0M752.5 92.6h0M885.5 83.8h0M752.2 66.2h0M884.5 66.2h0M888 66.2h0"/><path stroke="#6790f7" d="M891.3 567.2h0M747.6 558.4h0M892.7 558.4h0M746.2 452.9h0M749.1 444.1h0M889.4 435.4h0M749 409h0M891.5 338.7h0M746.7 329.9h0M749.5 189.2h0M749.5 171.7h0M748.7 66.2h0M891.3 66.2h0"/><path stroke="#6d89f7" d="M744 567.2h0M743.6 558.4h0M896.6 558.4h0M744 532h0M742.8 523.3h0M745.7 505.7h0M898.1 505.7h0M895.1 444.1h0M896.5 417.8h0M894.1 400.2h0M897.2 400.2h0M743.3 391.4h0M742.7 382.6h0M897.2 382.6h0M895.4 338.7h0M743.4 329.9h0M895.7 321.1h0M895 312.3h0M894.2 268.4h0M742 215.6h0M895.5 206.8h0M742 127.7h0M741.9 66.2h0M745.6 66.2h0"/><path stroke="#7482f7" d="M740 567.2h0M740.1 558.4h0M902.2 505.7h0M737 488.1h0M736.7 452.9h0M739.7 452.9h0M900.6 417.8h0M739 382.6h0M900.5 382.6h0M739.2 321.1h0M737.1 268.4h0M900.7 268.4h0M740 259.6h0M737.8 233.2h0M741.1 233.2h0M901.5 224.4h0M739 215.6h0M901 127.7h0M899.3 57.4h0M902 57.4h0"/><path stroke="#7b7bf7" d="M732.5 567.2h0M903.9 549.6h0M733.7 540.8h0M734.3 523.3h0M906 505.7h0M734.9 382.6h0M907 285.9h0M734.2 268.4h0M904.2 268.4h0M907.1 268.4h0M732.7 259.6h0M736.3 259.6h0M904.4 259.6h0M734 233.2h0M734 206.8h0M732 171.7h0M904.3 127.7h0M908 118.9h0M904.8 66.2h0M733.5 57.4h0M906.2 57.4h0"/><path stroke="#8274f7" d="M728.7 567.2h0M727.2 540.8h0M911.9 488.1h0M910.4 461.7h0M908.8 452.9h0M912.9 435.4h0M729.1 426.6h0M731.8 426.6h0M731.7 382.6h0M909.3 373.8h0M912.3 373.8h0M911.5 356.2h0M911.7 347.5h0M910.7 329.9h0M728.8 285.9h0M731 268.4h0M728.7 259.6h0M908.6 259.6h0M911.2 259.6h0M731.7 242h0M729.5 215.6h0M730 206.8h0M908.4 127.7h0M729.4 66.2h0M908.8 66.2h0M912.5 66.2h0M730.3 57.4h0"/><path stroke="#896df7" d="M722.9 558.4h0M725.6 558.4h0M915.4 549.6h0M724.4 540.8h0M915.7 540.8h0M724.3 514.5h0M724.4 496.9h0M914.8 488.1h0M913.1 479.3h0M916.9 461.7h0M722.6 444.1h0M914.6 444.1h0M916.2 435.4h0M916.1 417.8h0M915.7 400.2h0M723.2 356.2h0M726.8 356.2h0M915.6 356.2h0M722.7 321.1h0M913.9 303.5h0M723.6 294.7h0M726.3 294.7h0M915.4 277.1h0M724.9 259.6h0M914.6 259.6h0M917.2 215.6h0M725.4 66.2h0M916.4 66.2h0"/><path stroke="#9067f7" d="M918.8 567.2h0M922.2 540.8h0M918 532h0M921.7 532h0M920.3 523.3h0M918.7 488.1h0M922.2 488.1h0M919.3 470.5h0M922.2 470.5h0M918 409h0M918.7 400.2h0M718.1 373.8h0M721.2 373.8h0M919.2 347.5h0M718.6 321.1h0M718.6 285.9h0M721.3 285.9h0M920.9 277.1h0M917.9 259.6h0M921.1 259.6h0M719.6 250.8h0M718.2 242h0M722.2 242h0M920.3 242h0M919 136.5h0M919.9 127.7h0M718 92.6h0M718.3 66.2h0M721.3 66.2h0M919.2 66.2h0"/><path stroke="#9760f7" d="M925.3 567.2h0M714.4 558.4h0M713.3 549.6h0M717.5 549.6h0M924.9 549.6h0M924.5 532h0M713 470.5h0M716.9 470.5h0M713.1 444.1h0M924.7 435.4h0M713.6 426.6h0M926.6 417.8h0M922.8 400.2h0M926.2 329.9h0M715.6 321.1h0M926.4 303.5h0M924.5 285.9h0M714.3 242h0M924.3 242h0"/><path stroke="#9e59f7" d="M928.1 567.2h0M931.2 567.2h0M710.6 558.4h0M709.2 549.6h0M709.3 470.5h0M712 461.7h0M928.4 461.7h0M708.6 452.9h0M711.2 452.9h0M708.3 435.4h0M928 435.4h0M709.8 426.6h0M929.4 417.8h0M710.2 382.6h0M708.8 321.1h0M712.6 321.1h0M930.5 312.3h0M928.6 285.9h0M708.4 277.1h0M710.5 268.4h0M930.6 259.6h0M927.9 242h0M931.6 242h0M928.1 233.2h0M931.4 233.2h0M709.5 206.8h0M927.5 162.9h0M710.5 92.6h0M709.9 66.2h0M712.8 66.2h0M708.8 57.4h0M928.7 57.4h0"/><path stroke="#a452f7" d="M934.6 567.2h0M703.9 558.4h0M707.3 558.4h0M936.4 549.6h0M706.9 540.8h0M705.8 523.3h0M704.2 505.7h0M705.5 488.1h0M707.6 479.3h0M704 470.5h0M706.6 470.5h0M934.3 452.9h0M705 435.4h0M706.5 409h0M936.5 409h0M933 382.6h0M935.8 382.6h0M934.8 373.8h0M706.5 338.7h0M706.1 321.1h0M704.1 285.9h0M932.5 285.9h0M705.8 277.1h0M934.6 259.6h0M704.2 242h0M707.8 242h0M934.1 233.2h0M707 215.6h0M706.3 66.2h0M932.7 66.2h0M705.8 57.4h0M932.1 57.4h0"/><path stroke="#ab4bf7" d="M937.8 567.2h0M701 558.4h0M700.7 549.6h0M939.2 549.6h0M698.7 505.7h0M936.8 496.9h0M700.6 444.1h0M940.9 391.4h0M939.8 382.6h0M702.6 373.8h0M699.6 321.1h0M703.2 321.1h0M701.4 303.5h0M700.7 285.9h0M700 268.4h0M701.4 259.6h0M937.3 233.2h0M699.3 66.2h0M703.3 66.2h0M936.8 66.2h0M939.4 66.2h0"/><path stroke="#b244f7" d="M695 558.4h0M697.9 558.4h0M697.3 549.6h0M943.7 540.8h0M694.7 532h0M697.5 532h0M695.3 523.3h0M695.5 505.7h0M696.7 444.1h0M946.1 444.1h0M694.3 426.6h0M694.7 382.6h0M698.5 373.8h0M693.9 365h0M945 312.3h0M943.3 294.7h0M693.9 285.9h0M697.1 285.9h0M693.9 259.6h0M944.1 259.6h0M945.8 233.2h0M697 145.3h0M946 145.3h0M696.1 66.2h0M942.6 66.2h0"/><path stroke="#b93df7" d="M689.5 567.2h0M692.2 567.2h0M948.3 567.2h0M690.9 558.4h0M693.5 549.6h0M689.6 540.8h0M693.4 540.8h0M692 532h0M691.9 523.3h0M946.8 523.3h0M689.1 505.7h0M692.2 505.7h0M947.5 505.7h0M949.3 496.9h0M948.6 479.3h0M689.5 461.7h0M692.1 452.9h0M693 444.1h0M949.1 444.1h0M690.7 426.6h0M946.9 417.8h0M691 382.6h0M949.2 365h0M949.9 338.7h0M948.2 321.1h0M689.8 285.9h0M949 285.9h0M689.3 277.1h0M693.5 268.4h0M690.1 259.6h0M949.6 259.6h0M948.7 233.2h0M947.4 127.7h0M946.5 66.2h0M949.7 66.2h0M689.3 57.4h0M692.3 57.4h0"/><path stroke="#c036f7" d="M687 558.4h0M686 540.8h0M952.2 540.8h0M685.4 505.7h0M951.5 505.7h0M954.3 505.7h0M952.5 496.9h0M686 488.1h0M953.7 488.1h0M684.5 470.5h0M685.7 461.7h0M951.9 461.7h0M955 461.7h0M684.8 452.9h0M688.9 452.9h0M952.8 426.6h0M951 417.8h0M951.4 391.4h0M954.3 391.4h0M684.8 365h0M687.4 365h0M952.8 365h0M955.6 365h0M955.1 356.2h0M951.4 321.1h0M687.1 294.7h0M952.5 285.9h0M686.5 277.1h0M686.6 259.6h0M952.7 259.6h0M955.7 259.6h0M684.7 242h0M951.7 233.2h0M952.2 180.5h0M953 162.9h0M953.1 66.2h0M686.4 57.4h0"/><path stroke="#c730f7" d="M959.8 567.2h0M958.7 549.6h0M956.4 540.8h0M683.5 532h0M958 532h0M957.3 523.3h0M680.8 514.5h0M680.1 505.7h0M682.7 505.7h0M957.8 505.7h0M681.9 496.9h0M957.7 461.7h0M681.7 452.9h0M960 409h0M679.6 382.6h0M682.5 382.6h0M684 373.8h0M959.3 365h0M680.7 356.2h0M958.7 356.2h0M681.1 347.5h0M684 294.7h0M682.7 277.1h0M958.6 268.4h0M683 259.6h0M959.2 259.6h0M958 224.4h0M958.7 180.5h0M682.7 57.4h0"/><path stroke="#ce29f7" d="M962.6 549.6h0M961.9 540.8h0M963.5 532h0M678 514.5h0M677.3 505.7h0M960.7 505.7h0M963.9 505.7h0M678 496.9h0M676.2 461.7h0M964.2 461.7h0M675 452.9h0M677.9 452.9h0M675.7 444.1h0M678.5 444.1h0M960.8 391.4h0M964.5 391.4h0M677 382.6h0M961.3 382.6h0M964.9 382.6h0M963.5 365h0M675.9 329.9h0M676.1 321.1h0M674.9 303.5h0M964.9 303.5h0M678.5 277.1h0M675 268.4h0M678 268.4h0M962.3 268.4h0M678.9 259.6h0M962.3 259.6h0M965 259.6h0M678.5 233.2h0M962 224.4h0M964.6 224.4h0M960.7 215.6h0M961.4 180.5h0M963.6 66.2h0M678.8 57.4h0M960.6 57.4h0M963.9 57.4h0"/><path stroke="#d422f7" d="M671.5 558.4h0M967.1 558.4h0M965.5 549.6h0M968.6 549.6h0M674 532h0M966.8 532h0M672.5 514.5h0M967.8 505.7h0M672.1 479.3h0M969.1 479.3h0M969.7 470.5h0M672.5 461.7h0M967.4 461.7h0M671.8 452.9h0M965.6 444.1h0M969.5 435.4h0M671.2 426.6h0M968.5 417.8h0M670 400.2h0M674.1 400.2h0M673.2 356.2h0M670.6 347.5h0M673 338.7h0M969.4 338.7h0M673.1 329.9h0M672 321.1h0M966.9 321.1h0M969.9 321.1h0M670.5 312.3h0M969.5 312.3h0M672 303.5h0M966 285.9h0M970 285.9h0M674.5 277.1h0M969.4 277.1h0M671.1 268.4h0M966.2 268.4h0M968.5 259.6h0M965.6 250.8h0M967.7 224.4h0M969.2 215.6h0M966.5 75h0M966.2 66.2h0M969.4 66.2h0M672.3 57.4h0M967.1 57.4h0"/><path stroke="#db1bf7" d="M971.3 549.6h0M665.5 540.8h0M971.5 505.7h0M974.7 505.7h0M972 496.9h0M665.5 488.1h0M669.5 488.1h0M668 479.3h0M973.1 479.3h0M972.8 470.5h0M668.5 461.7h0M971.4 461.7h0M667.8 452.9h0M971.8 452.9h0M666 444.1h0M669.2 444.1h0M667.4 426.6h0M972.7 417.8h0M666.1 391.4h0M669.8 391.4h0M668.5 382.6h0M974.4 382.6h0M665.5 373.8h0M666.3 365h0M669.5 356.2h0M667.5 347.5h0M665.5 303.5h0M668.4 303.5h0M972.1 277.1h0M667 268.4h0M970.3 268.4h0M973.5 268.4h0M665.4 259.6h0M972.2 259.6h0M974.7 215.6h0M974 206.8h0M668.6 66.2h0M973.1 66.2h0M668.7 57.4h0M971.2 57.4h0"/><path stroke="#e214f7" d="M663 567.2h0M977.3 567.2h0M975.6 558.4h0M975.2 549.6h0M976.4 540.8h0M979.2 540.8h0M660.8 532h0M663.5 532h0M661.4 523.3h0M978.8 505.7h0M975.8 479.3h0M976.9 470.5h0M662.2 461.7h0M664.8 461.7h0M662 452.9h0M664.8 452.9h0M975.8 452.9h0M979.3 452.9h0M978 435.4h0M661.5 426.6h0M664.2 426.6h0M660.5 400.2h0M978.3 400.2h0M662.1 391.4h0M975 391.4h0M978.6 391.4h0M664.5 382.6h0M662.1 365h0M974.9 338.7h0M661.6 329.9h0M660.5 321.1h0M976.1 277.1h0M664.3 268.4h0M976.4 268.4h0M979.3 268.4h0M976.4 259.6h0M660.4 250.8h0M663.1 250.8h0M976.1 250.8h0M978.2 233.2h0M662 224.4h0M662.5 215.6h0M977.1 206.8h0M661.5 198h0M664.7 198h0M662.5 127.7h0M976.5 118.9h0M661.5 66.2h0M664.4 66.2h0M976.4 66.2h0M661.6 57.4h0M664.8 57.4h0M974.9 57.4h0M978.8 57.4h0"/><path stroke="#e90df7" d="M982.9 540.8h0M657 532h0M658.5 523.3h0M657.8 505.7h0M656.5 496.9h0M981.5 496.9h0M657.5 479.3h0M979.8 470.5h0M983.5 470.5h0M656.7 461.7h0M658.6 452.9h0M983.1 444.1h0M981.3 426.6h0M660 417.8h0M659.1 391.4h0M655.8 365h0M659.4 365h0M658.5 329.9h0M979.8 277.1h0M982.3 268.4h0M980.5 259.6h0M984.3 259.6h0M656.7 250.8h0M657.2 242h0M981.8 233.2h0M658 224.4h0M980.9 180.5h0M656.5 171.7h0M981.3 171.7h0M983.5 154.1h0M659.5 145.3h0M658.5 110.1h0M658 66.2h0M980.3 66.2h0M984.1 66.2h0M658.5 57.4h0M981.7 57.4h0M984.3 57.4h0"/><path stroke="#f006f7" d="M986.8 567.2h0M986.1 558.4h0M989 558.4h0M985.9 540.8h0M654.5 505.7h0M988.3 479.3h0M986.4 470.5h0M652.8 461.7h0M654.5 452.9h0M986.5 444.1h0M988.5 435.4h0M986.8 426.6h0M651.5 417.8h0M651.5 391.4h0M655 391.4h0M652.5 365h0M652.5 338.7h0M985.4 338.7h0M988.6 338.7h0M654.5 329.9h0M654.5 294.7h0M654.3 285.9h0M652.8 268.4h0M985.2 268.4h0M988.6 268.4h0M986.9 259.6h0M653 250.8h0M653.3 242h0M985.1 233.2h0M988.2 233.2h0M985.2 224.4h0M988.7 224.4h0M985.6 206.8h0M989 189.2h0M984.4 180.5h0M985 171.7h0M988.8 171.7h0M987.6 154.1h0M651.5 66.2h0M654.5 66.2h0M988.3 57.4h0"/><path stroke="#f700f7" d="M989.6 567.2h0M989.2 540.8h0M991.3 532h0M991.5 479.3h0M989.7 470.5h0M649.5 461.7h0M989.8 444.1h0M991.1 435.4h0M990.1 426.6h0M989.5 409h0M990.7 347.5h0M650.5 285.9h0M991.3 277.1h0M649.6 268.4h0M991.8 268.4h0M990.9 259.6h0M649.5 242h0"/></g>
<g fill="none" stroke-width="5.4" stroke-linecap="round"><path stroke="#00bcbc" d="M1347.2 444.1h0M1345.4 435.4h0M1349.1 435.4h0M1348.1 417.8h0M1345.9 400.2h0M1349.2 400.2h0M1346.6 391.4h0M1345.9 382.6h0M1346.6 347.5h0M1346.7 329.9h0M1345.3 321.1h0M1347.1 259.6h0M1345 224.4h0M1348.7 224.4h0M1345.8 215.6h0M1346 171.7h0M1348.9 171.7h0M1347.4 127.7h0M1347.8 118.9h0M1344.7 110.1h0M1348.7 110.1h0M1346.9 101.3h0M1346.1 66.2h0"/><path stroke="#05b7bc" d="M1341.9 435.4h0M1351.8 435.4h0M1341.2 417.8h0M1344 417.8h0M1353.2 400.2h0M1342.1 382.6h0M1350.1 382.6h0M1353.6 382.6h0M1341.4 373.8h0M1353.9 373.8h0M1343.7 347.5h0M1352.1 347.5h0M1343.9 329.9h0M1349.9 259.6h0M1340.8 224.4h0M1352.2 224.4h0M1342.2 215.6h0M1349.7 215.6h0M1352.9 215.6h0M1340.3 171.7h0M1343.1 171.7h0M1352.5 145.3h0M1341 127.7h0M1343.9 127.7h0M1350.9 127.7h0M1340.6 118.9h0M1344.4 118.9h0M1351.1 118.9h0M1340.8 110.1h0M1351.9 110.1h0M1350.7 75h0M1350 66.2h0"/><path stroke="#0ab2bc" d="M1336.4 523.3h0M1355.7 514.5h0M1354.8 452.9h0M1335.7 444.1h0M1335.4 435.4h0M1354.5 435.4h0M1358 435.4h0M1335.5 417.8h0M1338.5 417.8h0M1338.2 382.6h0M1337.2 347.5h0M1355.3 347.5h0M1358.4 347.5h0M1356.9 338.7h0M1356.2 329.9h0M1337.3 303.5h0M1354.5 285.9h0M1337.2 277.1h0M1338.1 224.4h0M1355.1 224.4h0M1357.1 215.6h0M1337.1 206.8h0M1336.7 198h0M1357.2 198h0M1355.4 189.2h0M1358.4 189.2h0M1338.4 180.5h0M1337.6 127.7h0M1355 118.9h0M1358 118.9h0M1337.2 110.1h0M1355.9 110.1h0M1358.6 110.1h0M1335.4 101.3h0M1354.4 101.3h0M1358.7 83.8h0"/><path stroke="#0facbc" d="M1361 558.4h0M1334.8 549.6h0M1360.3 549.6h0M1333.1 523.3h0M1332.4 435.4h0M1362.9 426.6h0M1332.3 417.8h0M1332.4 400.2h0M1331.8 382.6h0M1334.9 382.6h0M1360.4 373.8h0M1360.3 365h0M1330.6 347.5h0M1333.8 347.5h0M1362.1 347.5h0M1360.3 338.7h0M1359.6 329.9h0M1363.5 329.9h0M1333.8 321.1h0M1363.7 277.1h0M1330.9 242h0M1334.3 242h0M1361.4 233.2h0M1331.4 224.4h0M1335 224.4h0M1359.1 224.4h0M1362.6 224.4h0M1360.7 215.6h0M1334.1 206.8h0M1361.6 206.8h0M1359.9 198h0M1361 189.2h0M1334.9 180.5h0M1334.3 154.1h0M1334.4 127.7h0M1363.4 127.7h0M1361.7 118.9h0M1333.5 110.1h0M1359.9 101.3h0M1363.2 101.3h0M1360.2 92.6h0M1361.5 83.8h0M1361.2 75h0M1359.5 66.2h0"/><path stroke="#14a7bc" d="M1329.7 523.3h0M1329.6 488.1h0M1329 435.4h0M1326.6 417.8h0M1329.2 417.8h0M1325.7 400.2h0M1329.4 400.2h0M1326.1 391.4h0M1328.1 382.6h0M1326.7 347.5h0M1364.8 303.5h0M1325.9 233.2h0M1365.2 233.2h0M1327.4 224.4h0M1366.7 224.4h0M1364.5 215.6h0M1367.1 215.6h0M1365 206.8h0M1328.4 180.5h0M1367.4 127.7h0M1327.1 118.9h0M1365.6 118.9h0M1326.2 110.1h0M1329.4 110.1h0M1327.2 83.8h0M1364.9 83.8h0M1330.3 57.4h0M1364.8 57.4h0"/><path stroke="#1aa2bc" d="M1322.5 567.2h0M1372.2 514.5h0M1321.1 435.4h0M1324.9 435.4h0M1371.4 426.6h0M1323.9 417.8h0M1321.7 400.2h0M1323.3 391.4h0M1321.9 382.6h0M1324.9 382.6h0M1323 347.5h0M1369.3 312.3h0M1323.6 259.6h0M1368.9 250.8h0M1371.7 233.2h0M1323.3 224.4h0M1369.7 224.4h0M1372.8 224.4h0M1371.3 215.6h0M1322.6 206.8h0M1369.9 180.5h0M1322.8 171.7h0M1372.6 136.5h0M1323.3 118.9h0M1368.8 118.9h0M1372.2 118.9h0M1323 110.1h0M1321 83.8h0M1324.4 83.8h0M1370.4 83.8h0M1368.9 57.4h0"/><path stroke="#1f9dbc" d="M1377.1 540.8h0M1376.5 496.9h0M1320.3 452.9h0M1317 435.4h0M1374.5 435.4h0M1316.3 417.8h0M1320.3 417.8h0M1318.8 400.2h0M1319.1 391.4h0M1375.1 391.4h0M1318.2 382.6h0M1317.8 365h0M1319.8 347.5h0M1374.8 321.1h0M1316.7 224.4h0M1319.4 224.4h0M1376.9 224.4h0M1374.8 215.6h0M1377.6 215.6h0M1319.9 206.8h0M1374.4 198h0M1317.9 180.5h0M1319.3 171.7h0M1316.4 162.9h0M1319.1 162.9h0M1317 145.3h0M1376.3 136.5h0M1316.3 118.9h0M1320 118.9h0M1376.2 118.9h0M1319.5 110.1h0M1319.9 101.3h0M1317.4 83.8h0M1373.3 83.8h0M1376.8 83.8h0M1316.6 66.2h0"/><path stroke="#2498bc" d="M1312.5 558.4h0M1378.5 505.7h0M1312.1 488.1h0M1314.2 435.4h0M1313.1 417.8h0M1382.6 417.8h0M1313.1 400.2h0M1315.8 400.2h0M1315.2 391.4h0M1312.5 382.6h0M1315.3 382.6h0M1312.9 373.8h0M1315 365h0M1311.8 347.5h0M1315.8 347.5h0M1378.6 347.5h0M1313.4 329.9h0M1312.3 312.3h0M1315.8 312.3h0M1315.8 303.5h0M1380.4 250.8h0M1313.9 224.4h0M1380.7 224.4h0M1381.1 215.6h0M1312.8 162.9h0M1381 145.3h0M1379.3 136.5h0M1378.9 127.7h0M1312.7 118.9h0M1379.7 118.9h0M1312 110.1h0M1315.5 110.1h0M1311.9 101.3h0M1315.8 101.3h0M1313.9 83.8h0M1312.5 66.2h0"/><path stroke="#2992bc" d="M1309.2 558.4h0M1308.3 549.6h0M1384.6 540.8h0M1307.2 523.3h0M1309 496.9h0M1307.7 435.4h0M1311.2 435.4h0M1308.4 426.6h0M1386.2 417.8h0M1310.1 400.2h0M1309.3 373.8h0M1307.4 365h0M1310.8 365h0M1309.2 347.5h0M1307.3 303.5h0M1383 285.9h0M1385.2 277.1h0M1386.4 259.6h0M1310 224.4h0M1384.5 224.4h0M1383.9 215.6h0M1387.4 215.6h0M1384.5 206.8h0M1309.3 162.9h0M1309.5 145.3h0M1382.8 136.5h0M1309.2 118.9h0M1308.6 110.1h0M1309.7 83.8h0M1384.7 75h0M1309.2 66.2h0"/><path stroke="#2f8dbc" d="M1305.1 549.6h0M1388.4 540.8h0M1303.2 514.5h0M1303.8 435.4h0M1305.6 426.6h0M1303.6 417.8h0M1302.3 400.2h0M1305.9 400.2h0M1389.7 400.2h0M1302.4 382.6h0M1306 382.6h0M1304.6 365h0M1304.5 356.2h0M1303 347.5h0M1305.8 347.5h0M1388.1 347.5h0M1389 329.9h0M1303 285.9h0M1391.9 259.6h0M1390.9 250.8h0M1306.4 233.2h0M1301.9 224.4h0M1306 224.4h0M1387.6 224.4h0M1391.5 224.4h0M1302.7 215.6h0M1391.1 215.6h0M1388.2 206.8h0M1391.2 206.8h0M1302.1 198h0M1306.2 198h0M1391.9 198h0M1301.8 162.9h0M1302.5 118.9h0M1306.2 118.9h0M1304.6 110.1h0M1392.1 110.1h0M1388.7 101.3h0M1302.7 83.8h0M1306.5 83.8h0M1388.3 83.8h0M1392.1 83.8h0M1387.8 75h0M1305 66.2h0M1388 66.2h0M1391 66.2h0M1388.4 57.4h0"/><path stroke="#3488bc" d="M1299 567.2h0M1395 496.9h0M1299.9 435.4h0M1394 435.4h0M1297.1 426.6h0M1392.9 426.6h0M1299.7 417.8h0M1299.3 400.2h0M1393.9 400.2h0M1396.9 400.2h0M1298.7 382.6h0M1300.5 365h0M1297.4 356.2h0M1300.4 356.2h0M1299.8 347.5h0M1394.6 347.5h0M1298.3 321.1h0M1396.3 321.1h0M1298.9 224.4h0M1394.4 224.4h0M1299.6 215.6h0M1395 215.6h0M1394.1 206.8h0M1298.7 198h0M1396.1 198h0M1298.3 162.9h0M1396.8 154.1h0M1300 145.3h0M1300.1 136.5h0M1395.3 136.5h0M1298.9 127.7h0M1299.6 118.9h0M1297.7 110.1h0M1300.5 110.1h0M1395.1 110.1h0M1301.4 101.3h0M1392.3 101.3h0M1395.4 101.3h0M1301.7 92.6h0M1392.7 92.6h0M1299.6 83.8h0M1395.7 83.8h0M1394.3 75h0M1300.8 66.2h0M1394.9 57.4h0"/><path stroke="#3983bc" d="M1294.7 514.5h0M1397.6 496.9h0M1399.5 435.4h0M1399.4 426.6h0M1293.9 417.8h0M1296.5 417.8h0M1295.6 400.2h0M1400.5 400.2h0M1293.3 382.6h0M1296 382.6h0M1400.1 382.6h0M1294.8 373.8h0M1400.8 365h0M1293.1 347.5h0M1296.8 347.5h0M1400.1 347.5h0M1293.4 329.9h0M1296.9 329.9h0M1295 321.1h0M1293.5 294.7h0M1401.5 285.9h0M1292.7 277.1h0M1400.4 250.8h0M1292.4 242h0M1293.9 233.2h0M1296.9 233.2h0M1399.2 233.2h0M1293.4 224.4h0M1398.1 224.4h0M1400.9 224.4h0M1292.9 215.6h0M1296.7 215.6h0M1398.1 215.6h0M1295.2 198h0M1398.9 198h0M1292.5 180.5h0M1295.4 180.5h0M1294.8 171.7h0M1294.8 162.9h0M1400.8 154.1h0M1397.5 145.3h0M1296 127.7h0M1295.4 118.9h0M1294.7 110.1h0M1398.6 110.1h0M1399.6 101.3h0M1294.2 92.6h0M1292.5 83.8h0M1296.6 83.8h0M1399.3 83.8h0M1294.2 75h0M1293.1 66.2h0M1296.7 66.2h0M1399 57.4h0"/><path stroke="#3e7dbc" d="M1290.7 523.3h0M1289.3 514.5h0M1292 514.5h0M1402.5 461.7h0M1405.8 461.7h0M1288.2 444.1h0M1290.6 426.6h0M1290.4 417.8h0M1288.2 400.2h0M1291.6 400.2h0M1404.4 400.2h0M1405.6 391.4h0M1289.6 382.6h0M1403.2 382.6h0M1290.7 373.8h0M1290.5 347.5h0M1402.8 347.5h0M1403.8 338.7h0M1288 329.9h0M1290.7 329.9h0M1288 321.1h0M1290.9 321.1h0M1288 294.7h0M1288.5 277.1h0M1288.1 259.6h0M1403 250.8h0M1406.5 250.8h0M1289.3 242h0M1290.7 233.2h0M1289.3 224.4h0M1290.1 215.6h0M1402 215.6h0M1405 215.6h0M1291.4 206.8h0M1288.7 198h0M1291.7 198h0M1402.4 198h0M1287.7 171.7h0M1291.7 171.7h0M1288.7 162.9h0M1291.4 162.9h0M1403.9 154.1h0M1287.6 136.5h0M1292 127.7h0M1288.9 118.9h0M1291.9 118.9h0M1290.8 110.1h0M1402.8 110.1h0M1290.6 92.6h0M1289.2 83.8h0M1402.6 83.8h0M1406.4 83.8h0M1290.3 75h0M1289.9 66.2h0M1402.9 57.4h0"/><path stroke="#4478bc" d="M1284.9 444.1h0M1283.2 426.6h0M1287.4 426.6h0M1284.4 417.8h0M1287.2 417.8h0M1409.7 417.8h0M1284 400.2h0M1407.6 400.2h0M1411 400.2h0M1283.6 382.6h0M1286.9 382.6h0M1287.1 373.8h0M1282.9 365h0M1287 365h0M1282.9 356.2h0M1406.6 347.5h0M1284.6 329.9h0M1286.8 303.5h0M1285 259.6h0M1410.5 250.8h0M1285.4 242h0M1283.3 233.2h0M1287.4 233.2h0M1283.1 215.6h0M1287 215.6h0M1408 215.6h0M1410.6 215.6h0M1283.9 206.8h0M1284.9 162.9h0M1410.6 162.9h0M1406.6 154.1h0M1409.7 154.1h0M1285.5 127.7h0M1408.4 127.7h0M1286 118.9h0M1406.9 110.1h0M1410.9 110.1h0M1285.5 83.8h0M1286.8 66.2h0"/><path stroke="#4973bc" d="M1281.2 523.3h0M1279.8 514.5h0M1279.8 452.9h0M1281.5 444.1h0M1415 435.4h0M1278.1 417.8h0M1280.9 417.8h0M1412.6 417.8h0M1414.2 400.2h0M1411.7 382.6h0M1281.6 373.8h0M1280.2 365h0M1280 356.2h0M1281.1 329.9h0M1278.5 321.1h0M1282.5 321.1h0M1412.7 277.1h0M1415.4 259.6h0M1281.4 250.8h0M1279 242h0M1282.3 242h0M1279.9 215.6h0M1414.5 215.6h0M1280.5 206.8h0M1412.9 198h0M1281.2 171.7h0M1413.4 171.7h0M1414.7 162.9h0M1412.9 154.1h0M1413 145.3h0M1281.5 127.7h0M1412.5 127.7h0M1279 118.9h0M1282.5 118.9h0M1412.2 118.9h0M1415.7 118.9h0M1414.9 110.1h0M1281.9 101.3h0M1413.2 92.6h0M1278.8 83.8h0M1282.1 83.8h0M1414.9 83.8h0"/><path stroke="#4e6ebc" d="M1274.6 549.6h0M1275.6 540.8h0M1419.1 496.9h0M1274.6 488.1h0M1274.3 417.8h0M1273.9 391.4h0M1276.7 391.4h0M1274.7 373.8h0M1277.8 373.8h0M1417.9 373.8h0M1274.4 365h0M1277.4 365h0M1273.5 356.2h0M1419 356.2h0M1416.3 338.7h0M1273.2 329.9h0M1277.4 329.9h0M1273.5 294.7h0M1274.5 285.9h0M1419 250.8h0M1275.9 242h0M1273.3 215.6h0M1277.1 215.6h0M1417.9 215.6h0M1276.9 206.8h0M1417.1 198h0M1420.6 198h0M1277.6 171.7h0M1418.8 162.9h0M1417.1 154.1h0M1419.8 154.1h0M1273.5 145.3h0M1417.1 145.3h0M1275 127.7h0M1416.2 127.7h0M1275.2 118.9h0M1419.4 118.9h0M1417.9 110.1h0M1420.7 110.1h0M1420.7 92.6h0M1276.1 83.8h0M1417.6 83.8h0M1420.4 57.4h0"/><path stroke="#5368bc" d="M1424.7 514.5h0M1269.4 435.4h0M1272.4 435.4h0M1271.1 417.8h0M1425.2 382.6h0M1270.9 373.8h0M1270.5 365h0M1422.1 356.2h0M1270 347.5h0M1425.1 347.5h0M1269.5 329.9h0M1424.5 329.9h0M1423.8 321.1h0M1270.8 294.7h0M1424 294.7h0M1269 277.1h0M1425.5 250.8h0M1270.3 242h0M1273.1 242h0M1422.8 242h0M1425.5 242h0M1269.2 215.6h0M1421.9 215.6h0M1272.8 206.8h0M1424 198h0M1268.9 189.2h0M1272.9 189.2h0M1271 180.5h0M1269.4 162.9h0M1422.1 162.9h0M1423.4 154.1h0M1269.9 145.3h0M1421.1 145.3h0M1269.5 127.7h0M1424.7 127.7h0M1269.7 118.9h0M1422.5 118.9h0M1425.6 118.9h0M1423.4 110.1h0M1268.6 101.3h0M1271.4 101.3h0M1270.2 83.8h0M1273.1 83.8h0M1421.5 83.8h0M1425.4 83.8h0M1269.3 66.2h0M1422.5 66.2h0"/><path stroke="#5963bc" d="M1264.7 523.3h0M1264.3 514.5h0M1268.3 514.5h0M1266.3 435.4h0M1264.9 426.6h0M1267.7 426.6h0M1267.4 417.8h0M1426.1 417.8h0M1266.9 347.5h0M1264.4 338.7h0M1264.8 312.3h0M1265.2 303.5h0M1268.3 303.5h0M1268 294.7h0M1425.9 259.6h0M1428.2 250.8h0M1264.2 242h0M1267.6 242h0M1429 242h0M1263.9 224.4h0M1267.8 224.4h0M1266.4 215.6h0M1425.6 215.6h0M1429.1 215.6h0M1265.9 189.2h0M1266.9 145.3h0M1427.7 127.7h0M1264.4 118.9h0M1267 118.9h0M1429 118.9h0M1263.7 110.1h0M1267.3 110.1h0M1426.9 110.1h0M1429 83.8h0M1266.8 75h0M1428.8 75h0M1265.7 66.2h0M1428.9 57.4h0"/><path stroke="#5e5ebc" d="M1259.5 549.6h0M1263.1 549.6h0M1263 532h0M1260.3 514.5h0M1262.5 496.9h0M1259 444.1h0M1260.5 435.4h0M1263.6 435.4h0M1262.1 426.6h0M1263.2 417.8h0M1260.5 400.2h0M1261.4 373.8h0M1432 329.9h0M1261.5 312.3h0M1434.5 294.7h0M1260.5 277.1h0M1434.2 268.4h0M1431.3 250.8h0M1434 250.8h0M1260.1 242h0M1432.1 242h0M1434.8 242h0M1259.9 224.4h0M1259.1 215.6h0M1262.5 215.6h0M1431.8 215.6h0M1261.3 206.8h0M1431.5 198h0M1434.9 198h0M1259.3 189.2h0M1263 189.2h0M1261.8 154.1h0M1431.7 127.7h0M1258.9 118.9h0M1261.8 118.9h0M1431.9 118.9h0M1434.8 118.9h0M1260.4 110.1h0M1431.5 75h0M1434.6 75h0M1261.7 66.2h0"/><path stroke="#6359bc" d="M1257.1 540.8h0M1254.2 523.3h0M1257.2 514.5h0M1437.6 496.9h0M1254.2 435.4h0M1256.9 435.4h0M1437.8 409h0M1254.7 373.8h0M1257.7 373.8h0M1258 365h0M1435.6 347.5h0M1439.8 347.5h0M1437.6 294.7h0M1256.5 259.6h0M1437.9 250.8h0M1257.1 242h0M1437.6 242h0M1255.3 215.6h0M1435.6 215.6h0M1439.5 215.6h0M1257.4 206.8h0M1437.7 198h0M1256.1 189.2h0M1254.5 180.5h0M1255.3 154.1h0M1258.6 154.1h0M1254.8 118.9h0M1438.5 118.9h0M1256.6 110.1h0M1436.4 110.1h0M1439.3 110.1h0M1254.1 101.3h0M1436.1 101.3h0M1258.6 66.2h0"/><path stroke="#6853bc" d="M1253.5 514.5h0M1250.5 435.4h0M1441.9 426.6h0M1249.7 417.8h0M1441.7 409h0M1250 400.2h0M1253.1 382.6h0M1440.7 382.6h0M1444.4 373.8h0M1443.8 312.3h0M1249.5 294.7h0M1444.1 294.7h0M1250 259.6h0M1440.8 250.8h0M1249.6 242h0M1253.3 242h0M1443.7 233.2h0M1440.4 224.4h0M1443.1 224.4h0M1251.6 215.6h0M1442.8 215.6h0M1254.1 206.8h0M1440.5 198h0M1252.8 189.2h0M1250.9 162.9h0M1251.5 154.1h0M1250.9 136.5h0M1254.1 136.5h0M1251.8 118.9h0M1441.7 118.9h0M1249.4 110.1h0M1253.1 110.1h0M1442.7 110.1h0M1250 101.3h0M1441.5 83.8h0M1253.1 66.2h0M1249.8 57.4h0"/><path stroke="#6e4ebc" d="M1246.7 435.4h0M1245.6 426.6h0M1246.5 417.8h0M1247.4 400.2h0M1245.2 382.6h0M1249 382.6h0M1249.2 373.8h0M1448.6 373.8h0M1246.5 365h0M1249 356.2h0M1448.6 356.2h0M1447.3 312.3h0M1246 294.7h0M1245.7 242h0M1445.9 224.4h0M1245.2 215.6h0M1248.6 215.6h0M1446.8 215.6h0M1447 198h0M1244.8 189.2h0M1249 189.2h0M1244.8 180.5h0M1249 180.5h0M1448.9 171.7h0M1245.4 162.9h0M1444.9 154.1h0M1244.9 118.9h0M1248.8 118.9h0M1449.2 118.9h0M1245.6 110.1h0M1445.9 110.1h0M1446.2 92.6h0M1447 83.8h0M1249 66.2h0M1446 66.2h0M1246.3 57.4h0"/><path stroke="#7349bc" d="M1243.5 532h0M1453.2 514.5h0M1452.3 461.7h0M1242.9 435.4h0M1241.2 409h0M1244.3 409h0M1240.6 400.2h0M1243.6 400.2h0M1240.5 365h0M1243.6 365h0M1452.1 356.2h0M1243.2 294.7h0M1453.7 268.4h0M1450.3 250.8h0M1240.3 242h0M1242.9 242h0M1449.5 224.4h0M1452.3 224.4h0M1242.5 215.6h0M1450 215.6h0M1453.5 215.6h0M1241.2 180.5h0M1452.6 171.7h0M1242.4 145.3h0M1453.2 118.9h0M1242.4 110.1h0M1449.6 110.1h0M1453.8 110.1h0M1449.7 92.6h0M1453.3 92.6h0M1451 83.8h0"/><path stroke="#7844bc" d="M1457.1 514.5h0M1235.7 435.4h0M1239.5 435.4h0M1235.1 426.6h0M1238.5 409h0M1237.3 400.2h0M1455.8 338.7h0M1458.8 250.8h0M1237.4 242h0M1237.4 224.4h0M1238.6 215.6h0M1456.9 215.6h0M1237.2 198h0M1455.5 198h0M1237 180.5h0M1237.1 171.7h0M1236 154.1h0M1238.5 145.3h0M1457.4 118.9h0M1235.9 110.1h0M1456.6 110.1h0M1238.1 92.6h0M1457.4 92.6h0M1454.8 83.8h0M1236.3 75h0M1237.8 57.4h0"/><path stroke="#7d3ebc" d="M1460.3 514.5h0M1463.1 488.1h0M1232.7 435.4h0M1232.3 426.6h0M1460.6 417.8h0M1461.2 409h0M1230.6 400.2h0M1234.6 400.2h0M1231.1 373.8h0M1234.7 373.8h0M1234 365h0M1462.3 365h0M1231.7 356.2h0M1234.5 356.2h0M1461.3 347.5h0M1231.4 242h0M1234.5 242h0M1231 224.4h0M1234.5 224.4h0M1231.1 215.6h0M1234.5 215.6h0M1459.6 215.6h0M1462.7 215.6h0M1230.7 198h0M1462 198h0M1461.6 162.9h0M1230.6 154.1h0M1233.2 154.1h0M1462.4 154.1h0M1230.7 145.3h0M1234.5 145.3h0M1461.6 145.3h0M1230.4 118.9h0M1461.2 118.9h0M1232.4 110.1h0M1459.6 110.1h0M1230.5 101.3h0M1460.2 92.6h0M1463.1 75h0M1231 66.2h0M1234.5 66.2h0M1234.2 57.4h0"/><path stroke="#8339bc" d="M1467.8 549.6h0M1227.7 523.3h0M1464.4 514.5h0M1467.4 514.5h0M1228.1 488.1h0M1466.4 488.1h0M1227 452.9h0M1230.3 452.9h0M1226.3 435.4h0M1229.9 435.4h0M1229 426.6h0M1464.3 417.8h0M1468.4 417.8h0M1226 409h0M1227.2 400.2h0M1467.7 400.2h0M1225.6 391.4h0M1228.4 391.4h0M1227.9 373.8h0M1229.8 365h0M1228.1 356.2h0M1227.9 338.7h0M1227 321.1h0M1225.7 294.7h0M1229 277.1h0M1226.5 259.6h0M1228.2 242h0M1226.8 233.2h0M1464.2 233.2h0M1467.5 233.2h0M1227.1 224.4h0M1228.4 215.6h0M1465.8 215.6h0M1226.6 206.8h0M1465.5 198h0M1226.5 180.5h0M1226.4 171.7h0M1229.6 171.7h0M1227.9 162.9h0M1227.1 154.1h0M1226.6 145.3h0M1227.4 118.9h0M1464.3 118.9h0M1228.2 110.1h0M1227.4 101.3h0M1468.3 83.8h0M1227.5 57.4h0M1230.2 57.4h0M1465.4 57.4h0"/><path stroke="#8834bc" d="M1222.7 558.4h0M1470.7 549.6h0M1469.9 488.1h0M1471.3 452.9h0M1222.2 435.4h0M1221 426.6h0M1224.9 426.6h0M1471.2 417.8h0M1223.6 400.2h0M1221.5 391.4h0M1470.2 382.6h0M1221.5 373.8h0M1225.1 373.8h0M1468.8 347.5h0M1222 329.9h0M1223.1 294.7h0M1223.7 268.4h0M1221.3 242h0M1225.3 242h0M1224.1 233.2h0M1470.3 233.2h0M1223.6 224.4h0M1221 215.6h0M1224.7 215.6h0M1468.6 215.6h0M1471.9 215.6h0M1471.1 171.7h0M1221.4 162.9h0M1225.1 162.9h0M1471.1 162.9h0M1223.4 154.1h0M1472.9 154.1h0M1472.8 136.5h0M1222 127.7h0M1223.6 118.9h0M1472.8 118.9h0M1224.5 110.1h0M1470.1 110.1h0M1471.6 101.3h0M1221.7 83.8h0M1472.4 83.8h0M1472.5 66.2h0M1224 57.4h0"/><path stroke="#8d2fbc" d="M1219.5 558.4h0M1477.9 540.8h0M1216.2 523.3h0M1475.3 452.9h0M1216.5 444.1h0M1218.4 435.4h0M1474.2 417.8h0M1217.9 400.2h0M1220.6 400.2h0M1473.9 382.6h0M1219 329.9h0M1477.5 329.9h0M1216.5 321.1h0M1219.7 294.7h0M1475.2 277.1h0M1220 268.4h0M1477.4 259.6h0M1218.7 242h0M1217.1 233.2h0M1220.4 233.2h0M1216.9 224.4h0M1220.5 224.4h0M1217.1 206.8h0M1477.4 180.5h0M1216.2 162.9h0M1218.8 162.9h0M1217.8 154.1h0M1220.6 154.1h0M1476.5 154.1h0M1477.1 145.3h0M1474.2 127.7h0M1220 118.9h0M1476.2 118.9h0M1217.5 110.1h0M1220.7 110.1h0M1474.4 101.3h0M1217.8 83.8h0M1475.5 83.8h0M1217.8 75h0M1476 66.2h0M1216.5 57.4h0"/><path stroke="#9229bc" d="M1214 549.6h0M1480.6 540.8h0M1212.5 523.3h0M1482.1 496.9h0M1482.4 488.1h0M1211.5 435.4h0M1214.8 435.4h0M1213.9 400.2h0M1480.1 373.8h0M1213.4 347.5h0M1211.3 338.7h0M1215.4 338.7h0M1212.7 329.9h0M1216 329.9h0M1213.7 303.5h0M1481.3 303.5h0M1213.5 277.1h0M1213.2 242h0M1479.8 233.2h0M1213.1 224.4h0M1214.1 206.8h0M1478.5 189.2h0M1482.5 189.2h0M1213.3 162.9h0M1214 154.1h0M1215.5 127.7h0M1479.2 118.9h0M1482.6 110.1h0M1480.9 101.3h0M1213.8 83.8h0M1481 83.8h0M1481.5 66.2h0"/><path stroke="#9824bc" d="M1207.5 567.2h0M1485 505.7h0M1486.2 496.9h0M1207.6 435.4h0M1486.5 435.4h0M1207.2 400.2h0M1209.9 400.2h0M1209.7 382.6h0M1483.4 382.6h0M1208.3 365h0M1207.2 347.5h0M1210.1 347.5h0M1207.6 338.7h0M1209.2 329.9h0M1484 329.9h0M1206.5 303.5h0M1209.7 303.5h0M1485 285.9h0M1486.3 250.8h0M1209.9 242h0M1206.6 206.8h0M1485.2 189.2h0M1210 180.5h0M1209.7 162.9h0M1484.6 162.9h0M1210.5 154.1h0M1482.9 118.9h0M1487 118.9h0M1208.9 101.3h0M1211.2 83.8h0M1483.9 83.8h0M1484.6 66.2h0M1208 57.4h0"/><path stroke="#9d1fbc" d="M1488.5 558.4h0M1204.5 549.6h0M1487.8 505.7h0M1205.5 470.5h0M1489 470.5h0M1202.5 452.9h0M1203.5 435.4h0M1203.5 409h0M1203.2 400.2h0M1203.2 347.5h0M1204 338.7h0M1202.7 329.9h0M1206.1 329.9h0M1487.9 259.6h0M1490.5 250.8h0M1202.2 242h0M1206 242h0M1203.5 215.6h0M1202.5 206.8h0M1204.5 180.5h0M1201.9 171.7h0M1487.6 171.7h0M1487.7 162.9h0M1490.8 162.9h0M1203.1 145.3h0M1490.2 118.9h0M1490.1 110.1h0M1204.7 101.3h0M1488.4 101.3h0M1492 101.3h0M1204.3 75h0"/><path stroke="#a21abc" d="M1199.6 488.1h0M1493.5 479.3h0M1496.8 479.3h0M1492.9 470.5h0M1495.8 461.7h0M1199.9 435.4h0M1496 435.4h0M1493.7 417.8h0M1200.5 409h0M1197 400.2h0M1200.6 400.2h0M1200.2 382.6h0M1198.8 365h0M1198.6 356.2h0M1199.3 347.5h0M1198.5 338.7h0M1199.7 329.9h0M1493.8 250.8h0M1198.7 242h0M1197.6 233.2h0M1496.3 233.2h0M1200.2 215.6h0M1198.7 206.8h0M1199.1 171.7h0M1199.5 145.3h0M1198.4 136.5h0M1492.9 118.9h0M1496.2 118.9h0M1493.5 110.1h0M1496.1 110.1h0M1496 101.3h0M1494.4 83.8h0M1200.5 75h0M1494.1 66.2h0"/><path stroke="#a714bc" d="M1193.5 488.1h0M1196.7 488.1h0M1193.8 435.4h0M1196.8 435.4h0M1500 435.4h0M1193.5 400.2h0M1500.2 400.2h0M1194 391.4h0M1193.3 365h0M1194.5 356.2h0M1498.6 356.2h0M1501.2 356.2h0M1193.2 329.9h0M1196.8 329.9h0M1497.4 259.6h0M1194.9 250.8h0M1497.9 250.8h0M1501.2 250.8h0M1195.1 242h0M1193.5 233.2h0M1499.5 233.2h0M1193.6 215.6h0M1196.9 215.6h0M1498.4 215.6h0M1192.5 206.8h0M1196.1 206.8h0M1192.2 198h0M1500.7 189.2h0M1195 171.7h0M1498.6 145.3h0M1195.5 136.5h0M1500.3 136.5h0M1500.4 118.9h0M1193.2 101.3h0M1195.6 92.6h0M1497.7 83.8h0M1500.6 66.2h0M1195.5 57.4h0"/><path stroke="#ac0fbc" d="M1505.3 461.7h0M1189.7 435.4h0M1504.2 435.4h0M1190.5 400.2h0M1504.3 400.2h0M1187.8 365h0M1190.5 356.2h0M1189.8 347.5h0M1502.3 347.5h0M1189 329.9h0M1188.2 294.7h0M1188 250.8h0M1190.7 250.8h0M1504.4 250.8h0M1188 242h0M1190.9 242h0M1504.1 242h0M1502.7 233.2h0M1190.8 215.6h0M1505.6 206.8h0M1189.1 198h0M1502.1 145.3h0M1504.9 145.3h0M1503.6 136.5h0M1506.3 136.5h0M1504 118.9h0M1505.6 110.1h0M1190.5 101.3h0M1506.5 101.3h0M1189.1 92.6h0M1189.5 66.2h0M1503.4 66.2h0"/><path stroke="#b20abc" d="M1185.6 540.8h0M1508.7 496.9h0M1183.4 435.4h0M1186.5 435.4h0M1183.7 400.2h0M1186.5 400.2h0M1507.7 400.2h0M1187 373.8h0M1184.1 365h0M1186.2 347.5h0M1184 294.7h0M1507.9 259.6h0M1510.9 250.8h0M1185.2 242h0M1507 242h0M1509.2 233.2h0M1185.6 224.4h0M1184.3 215.6h0M1187.1 215.6h0M1507.9 215.6h0M1507 198h0M1185.3 189.2h0M1507 118.9h0M1510.9 118.9h0M1508.3 110.1h0M1184 101.3h0M1510.5 101.3h0M1186 92.6h0M1507.4 66.2h0"/><path stroke="#b705bc" d="M1512.2 549.6h0M1514.9 549.6h0M1181.5 540.8h0M1179.5 435.4h0M1180.5 426.6h0M1180.5 400.2h0M1179.5 391.4h0M1179.7 382.6h0M1513.7 356.2h0M1178.8 347.5h0M1182.1 347.5h0M1180.5 294.7h0M1178.5 250.8h0M1181.7 242h0M1180.4 215.6h0M1178.5 198h0M1181.6 198h0M1178 189.2h0M1181.8 189.2h0M1178.5 171.7h0M1180.2 162.9h0M1178.1 118.9h0M1181.5 118.9h0M1514.6 118.9h0M1511.7 110.1h0M1515.9 110.1h0M1178.5 83.8h0M1181.7 83.8h0M1513.9 57.4h0"/><path stroke="#bc00bc" d="M1517.4 426.6h0M1176.4 382.6h0M1177.6 365h0M1516.8 365h0M1175.5 347.5h0M1177.5 329.9h0M1176.5 268.4h0M1177.5 242h0M1518.5 242h0M1516.7 233.2h0M1176.5 215.6h0M1176.5 162.9h0M1517.3 162.9h0M1518.3 118.9h0M1176.5 92.6h0"/></g><g fill="none" stroke-width="3.3" stroke-linecap="round"><path stroke="#00f7f7" d="M1347.2 444.1h0M1345.4 435.4h0M1349.1 435.4h0M1348.1 417.8h0M1345.9 400.2h0M1349.2 400.2h0M1346.6 391.4h0M1345.9 382.6h0M1346.6 347.5h0M1346.7 329.9h0M1345.3 321.1h0M1347.1 259.6h0M1345 224.4h0M1348.7 224.4h0M1345.8 215.6h0M1346 171.7h0M1348.9 171.7h0M1347.4 127.7h0M1347.8 118.9h0M1344.7 110.1h0M1348.7 110.1h0M1346.9 101.3h0M1346.1 66.2h0"/><path stroke="#06f0f7" d="M1341.9 435.4h0M1351.8 435.4h0M1341.2 417.8h0M1344 417.8h0M1353.2 400.2h0M1342.1 382.6h0M1350.1 382.6h0M1353.6 382.6h0M1341.4 373.8h0M1353.9 373.8h0M1343.7 347.5h0M1352.1 347.5h0M1343.9 329.9h0M1349.9 259.6h0M1340.8 224.4h0M1352.2 224.4h0M1342.2 215.6h0M1349.7 215.6h0M1352.9 215.6h0M1340.3 171.7h0M1343.1 171.7h0M1352.5 145.3h0M1341 127.7h0M1343.9 127.7h0M1350.9 127.7h0M1340.6 118.9h0M1344.4 118.9h0M1351.1 118.9h0M1340.8 110.1h0M1351.9 110.1h0M1350.7 75h0M1350 66.2h0"/><path stroke="#0de9f7" d="M1336.4 523.3h0M1355.7 514.5h0M1354.8 452.9h0M1335.7 444.1h0M1335.4 435.4h0M1354.5 435.4h0M1358 435.4h0M1335.5 417.8h0M1338.5 417.8h0M1338.2 382.6h0M1337.2 347.5h0M1355.3 347.5h0M1358.4 347.5h0M1356.9 338.7h0M1356.2 329.9h0M1337.3 303.5h0M1354.5 285.9h0M1337.2 277.1h0M1338.1 224.4h0M1355.1 224.4h0M1357.1 215.6h0M1337.1 206.8h0M1336.7 198h0M1357.2 198h0M1355.4 189.2h0M1358.4 189.2h0M1338.4 180.5h0M1337.6 127.7h0M1355 118.9h0M1358 118.9h0M1337.2 110.1h0M1355.9 110.1h0M1358.6 110.1h0M1335.4 101.3h0M1354.4 101.3h0M1358.7 83.8h0"/><path stroke="#14e2f7" d="M1361 558.4h0M1334.8 549.6h0M1360.3 549.6h0M1333.1 523.3h0M1332.4 435.4h0M1362.9 426.6h0M1332.3 417.8h0M1332.4 400.2h0M1331.8 382.6h0M1334.9 382.6h0M1360.4 373.8h0M1360.3 365h0M1330.6 347.5h0M1333.8 347.5h0M1362.1 347.5h0M1360.3 338.7h0M1359.6 329.9h0M1363.5 329.9h0M1333.8 321.1h0M1363.7 277.1h0M1330.9 242h0M1334.3 242h0M1361.4 233.2h0M1331.4 224.4h0M1335 224.4h0M1359.1 224.4h0M1362.6 224.4h0M1360.7 215.6h0M1334.1 206.8h0M1361.6 206.8h0M1359.9 198h0M1361 189.2h0M1334.9 180.5h0M1334.3 154.1h0M1334.4 127.7h0M1363.4 127.7h0M1361.7 118.9h0M1333.5 110.1h0M1359.9 101.3h0M1363.2 101.3h0M1360.2 92.6h0M1361.5 83.8h0M1361.2 75h0M1359.5 66.2h0"/><path stroke="#1bdbf7" d="M1329.7 523.3h0M1329.6 488.1h0M1329 435.4h0M1326.6 417.8h0M1329.2 417.8h0M1325.7 400.2h0M1329.4 400.2h0M1326.1 391.4h0M1328.1 382.6h0M1326.7 347.5h0M1364.8 303.5h0M1325.9 233.2h0M1365.2 233.2h0M1327.4 224.4h0M1366.7 224.4h0M1364.5 215.6h0M1367.1 215.6h0M1365 206.8h0M1328.4 180.5h0M1367.4 127.7h0M1327.1 118.9h0M1365.6 118.9h0M1326.2 110.1h0M1329.4 110.1h0M1327.2 83.8h0M1364.9 83.8h0M1330.3 57.4h0M1364.8 57.4h0"/><path stroke="#22d4f7" d="M1322.5 567.2h0M1372.2 514.5h0M1321.1 435.4h0M1324.9 435.4h0M1371.4 426.6h0M1323.9 417.8h0M1321.7 400.2h0M1323.3 391.4h0M1321.9 382.6h0M1324.9 382.6h0M1323 347.5h0M1369.3 312.3h0M1323.6 259.6h0M1368.9 250.8h0M1371.7 233.2h0M1323.3 224.4h0M1369.7 224.4h0M1372.8 224.4h0M1371.3 215.6h0M1322.6 206.8h0M1369.9 180.5h0M1322.8 171.7h0M1372.6 136.5h0M1323.3 118.9h0M1368.8 118.9h0M1372.2 118.9h0M1323 110.1h0M1321 83.8h0M1324.4 83.8h0M1370.4 83.8h0M1368.9 57.4h0"/><path stroke="#29cef7" d="M1377.1 540.8h0M1376.5 496.9h0M1320.3 452.9h0M1317 435.4h0M1374.5 435.4h0M1316.3 417.8h0M1320.3 417.8h0M1318.8 400.2h0M1319.1 391.4h0M1375.1 391.4h0M1318.2 382.6h0M1317.8 365h0M1319.8 347.5h0M1374.8 321.1h0M1316.7 224.4h0M1319.4 224.4h0M1376.9 224.4h0M1374.8 215.6h0M1377.6 215.6h0M1319.9 206.8h0M1374.4 198h0M1317.9 180.5h0M1319.3 171.7h0M1316.4 162.9h0M1319.1 162.9h0M1317 145.3h0M1376.3 136.5h0M1316.3 118.9h0M1320 118.9h0M1376.2 118.9h0M1319.5 110.1h0M1319.9 101.3h0M1317.4 83.8h0M1373.3 83.8h0M1376.8 83.8h0M1316.6 66.2h0"/><path stroke="#30c7f7" d="M1312.5 558.4h0M1378.5 505.7h0M1312.1 488.1h0M1314.2 435.4h0M1313.1 417.8h0M1382.6 417.8h0M1313.1 400.2h0M1315.8 400.2h0M1315.2 391.4h0M1312.5 382.6h0M1315.3 382.6h0M1312.9 373.8h0M1315 365h0M1311.8 347.5h0M1315.8 347.5h0M1378.6 347.5h0M1313.4 329.9h0M1312.3 312.3h0M1315.8 312.3h0M1315.8 303.5h0M1380.4 250.8h0M1313.9 224.4h0M1380.7 224.4h0M1381.1 215.6h0M1312.8 162.9h0M1381 145.3h0M1379.3 136.5h0M1378.9 127.7h0M1312.7 118.9h0M1379.7 118.9h0M1312 110.1h0M1315.5 110.1h0M1311.9 101.3h0M1315.8 101.3h0M1313.9 83.8h0M1312.5 66.2h0"/><path stroke="#36c0f7" d="M1309.2 558.4h0M1308.3 549.6h0M1384.6 540.8h0M1307.2 523.3h0M1309 496.9h0M1307.7 435.4h0M1311.2 435.4h0M1308.4 426.6h0M1386.2 417.8h0M1310.1 400.2h0M1309.3 373.8h0M1307.4 365h0M1310.8 365h0M1309.2 347.5h0M1307.3 303.5h0M1383 285.9h0M1385.2 277.1h0M1386.4 259.6h0M1310 224.4h0M1384.5 224.4h0M1383.9 215.6h0M1387.4 215.6h0M1384.5 206.8h0M1309.3 162.9h0M1309.5 145.3h0M1382.8 136.5h0M1309.2 118.9h0M1308.6 110.1h0M1309.7 83.8h0M1384.7 75h0M1309.2 66.2h0"/><path stroke="#3db9f7" d="M1305.1 549.6h0M1388.4 540.8h0M1303.2 514.5h0M1303.8 435.4h0M1305.6 426.6h0M1303.6 417.8h0M1302.3 400.2h0M1305.9 400.2h0M1389.7 400.2h0M1302.4 382.6h0M1306 382.6h0M1304.6 365h0M1304.5 356.2h0M1303 347.5h0M1305.8 347.5h0M1388.1 347.5h0M1389 329.9h0M1303 285.9h0M1391.9 259.6h0M1390.9 250.8h0M1306.4 233.2h0M1301.9 224.4h0M1306 224.4h0M1387.6 224.4h0M1391.5 224.4h0M1302.7 215.6h0M1391.1 215.6h0M1388.2 206.8h0M1391.2 206.8h0M1302.1 198h0M1306.2 198h0M1391.9 198h0M1301.8 162.9h0M1302.5 118.9h0M1306.2 118.9h0M1304.6 110.1h0M1392.1 110.1h0M1388.7 101.3h0M1302.7 83.8h0M1306.5 83.8h0M1388.3 83.8h0M1392.1 83.8h0M1387.8 75h0M1305 66.2h0M1388 66.2h0M1391 66.2h0M1388.4 57.4h0"/><path stroke="#44b2f7" d="M1299 567.2h0M1395 496.9h0M1299.9 435.4h0M1394 435.4h0M1297.1 426.6h0M1392.9 426.6h0M1299.7 417.8h0M1299.3 400.2h0M1393.9 400.2h0M1396.9 400.2h0M1298.7 382.6h0M1300.5 365h0M1297.4 356.2h0M1300.4 356.2h0M1299.8 347.5h0M1394.6 347.5h0M1298.3 321.1h0M1396.3 321.1h0M1298.9 224.4h0M1394.4 224.4h0M1299.6 215.6h0M1395 215.6h0M1394.1 206.8h0M1298.7 198h0M1396.1 198h0M1298.3 162.9h0M1396.8 154.1h0M1300 145.3h0M1300.1 136.5h0M1395.3 136.5h0M1298.9 127.7h0M1299.6 118.9h0M1297.7 110.1h0M1300.5 110.1h0M1395.1 110.1h0M1301.4 101.3h0M1392.3 101.3h0M1395.4 101.3h0M1301.7 92.6h0M1392.7 92.6h0M1299.6 83.8h0M1395.7 83.8h0M1394.3 75h0M1300.8 66.2h0M1394.9 57.4h0"/><path stroke="#4babf7" d="M1294.7 514.5h0M1397.6 496.9h0M1399.5 435.4h0M1399.4 426.6h0M1293.9 417.8h0M1296.5 417.8h0M1295.6 400.2h0M1400.5 400.2h0M1293.3 382.6h0M1296 382.6h0M1400.1 382.6h0M1294.8 373.8h0M1400.8 365h0M1293.1 347.5h0M1296.8 347.5h0M1400.1 347.5h0M1293.4 329.9h0M1296.9 329.9h0M1295 321.1h0M1293.5 294.7h0M1401.5 285.9h0M1292.7 277.1h0M1400.4 250.8h0M1292.4 242h0M1293.9 233.2h0M1296.9 233.2h0M1399.2 233.2h0M1293.4 224.4h0M1398.1 224.4h0M1400.9 224.4h0M1292.9 215.6h0M1296.7 215.6h0M1398.1 215.6h0M1295.2 198h0M1398.9 198h0M1292.5 180.5h0M1295.4 180.5h0M1294.8 171.7h0M1294.8 162.9h0M1400.8 154.1h0M1397.5 145.3h0M1296 127.7h0M1295.4 118.9h0M1294.7 110.1h0M1398.6 110.1h0M1399.6 101.3h0M1294.2 92.6h0M1292.5 83.8h0M1296.6 83.8h0M1399.3 83.8h0M1294.2 75h0M1293.1 66.2h0M1296.7 66.2h0M1399 57.4h0"/><path stroke="#52a4f7" d="M1290.7 523.3h0M1289.3 514.5h0M1292 514.5h0M1402.5 461.7h0M1405.8 461.7h0M1288.2 444.1h0M1290.6 426.6h0M1290.4 417.8h0M1288.2 400.2h0M1291.6 400.2h0M1404.4 400.2h0M1405.6 391.4h0M1289.6 382.6h0M1403.2 382.6h0M1290.7 373.8h0M1290.5 347.5h0M1402.8 347.5h0M1403.8 338.7h0M1288 329.9h0M1290.7 329.9h0M1288 321.1h0M1290.9 321.1h0M1288 294.7h0M1288.5 277.1h0M1288.1 259.6h0M1403 250.8h0M1406.5 250.8h0M1289.3 242h0M1290.7 233.2h0M1289.3 224.4h0M1290.1 215.6h0M1402 215.6h0M1405 215.6h0M1291.4 206.8h0M1288.7 198h0M1291.7 198h0M1402.4 198h0M1287.7 171.7h0M1291.7 171.7h0M1288.7 162.9h0M1291.4 162.9h0M1403.9 154.1h0M1287.6 136.5h0M1292 127.7h0M1288.9 118.9h0M1291.9 118.9h0M1290.8 110.1h0M1402.8 110.1h0M1290.6 92.6h0M1289.2 83.8h0M1402.6 83.8h0M1406.4 83.8h0M1290.3 75h0M1289.9 66.2h0M1402.9 57.4h0"/><path stroke="#599ef7" d="M1284.9 444.1h0M1283.2 426.6h0M1287.4 426.6h0M1284.4 417.8h0M1287.2 417.8h0M1409.7 417.8h0M1284 400.2h0M1407.6 400.2h0M1411 400.2h0M1283.6 382.6h0M1286.9 382.6h0M1287.1 373.8h0M1282.9 365h0M1287 365h0M1282.9 356.2h0M1406.6 347.5h0M1284.6 329.9h0M1286.8 303.5h0M1285 259.6h0M1410.5 250.8h0M1285.4 242h0M1283.3 233.2h0M1287.4 233.2h0M1283.1 215.6h0M1287 215.6h0M1408 215.6h0M1410.6 215.6h0M1283.9 206.8h0M1284.9 162.9h0M1410.6 162.9h0M1406.6 154.1h0M1409.7 154.1h0M1285.5 127.7h0M1408.4 127.7h0M1286 118.9h0M1406.9 110.1h0M1410.9 110.1h0M1285.5 83.8h0M1286.8 66.2h0"/><path stroke="#6097f7" d="M1281.2 523.3h0M1279.8 514.5h0M1279.8 452.9h0M1281.5 444.1h0M1415 435.4h0M1278.1 417.8h0M1280.9 417.8h0M1412.6 417.8h0M1414.2 400.2h0M1411.7 382.6h0M1281.6 373.8h0M1280.2 365h0M1280 356.2h0M1281.1 329.9h0M1278.5 321.1h0M1282.5 321.1h0M1412.7 277.1h0M1415.4 259.6h0M1281.4 250.8h0M1279 242h0M1282.3 242h0M1279.9 215.6h0M1414.5 215.6h0M1280.5 206.8h0M1412.9 198h0M1281.2 171.7h0M1413.4 171.7h0M1414.7 162.9h0M1412.9 154.1h0M1413 145.3h0M1281.5 127.7h0M1412.5 127.7h0M1279 118.9h0M1282.5 118.9h0M1412.2 118.9h0M1415.7 118.9h0M1414.9 110.1h0M1281.9 101.3h0M1413.2 92.6h0M1278.8 83.8h0M1282.1 83.8h0M1414.9 83.8h0"/><path stroke="#6790f7" d="M1274.6 549.6h0M1275.6 540.8h0M1419.1 496.9h0M1274.6 488.1h0M1274.3 417.8h0M1273.9 391.4h0M1276.7 391.4h0M1274.7 373.8h0M1277.8 373.8h0M1417.9 373.8h0M1274.4 365h0M1277.4 365h0M1273.5 356.2h0M1419 356.2h0M1416.3 338.7h0M1273.2 329.9h0M1277.4 329.9h0M1273.5 294.7h0M1274.5 285.9h0M1419 250.8h0M1275.9 242h0M1273.3 215.6h0M1277.1 215.6h0M1417.9 215.6h0M1276.9 206.8h0M1417.1 198h0M1420.6 198h0M1277.6 171.7h0M1418.8 162.9h0M1417.1 154.1h0M1419.8 154.1h0M1273.5 145.3h0M1417.1 145.3h0M1275 127.7h0M1416.2 127.7h0M1275.2 118.9h0M1419.4 118.9h0M1417.9 110.1h0M1420.7 110.1h0M1420.7 92.6h0M1276.1 83.8h0M1417.6 83.8h0M1420.4 57.4h0"/><path stroke="#6d89f7" d="M1424.7 514.5h0M1269.4 435.4h0M1272.4 435.4h0M1271.1 417.8h0M1425.2 382.6h0M1270.9 373.8h0M1270.5 365h0M1422.1 356.2h0M1270 347.5h0M1425.1 347.5h0M1269.5 329.9h0M1424.5 329.9h0M1423.8 321.1h0M1270.8 294.7h0M1424 294.7h0M1269 277.1h0M1425.5 250.8h0M1270.3 242h0M1273.1 242h0M1422.8 242h0M1425.5 242h0M1269.2 215.6h0M1421.9 215.6h0M1272.8 206.8h0M1424 198h0M1268.9 189.2h0M1272.9 189.2h0M1271 180.5h0M1269.4 162.9h0M1422.1 162.9h0M1423.4 154.1h0M1269.9 145.3h0M1421.1 145.3h0M1269.5 127.7h0M1424.7 127.7h0M1269.7 118.9h0M1422.5 118.9h0M1425.6 118.9h0M1423.4 110.1h0M1268.6 101.3h0M1271.4 101.3h0M1270.2 83.8h0M1273.1 83.8h0M1421.5 83.8h0M1425.4 83.8h0M1269.3 66.2h0M1422.5 66.2h0"/><path stroke="#7482f7" d="M1264.7 523.3h0M1264.3 514.5h0M1268.3 514.5h0M1266.3 435.4h0M1264.9 426.6h0M1267.7 426.6h0M1267.4 417.8h0M1426.1 417.8h0M1266.9 347.5h0M1264.4 338.7h0M1264.8 312.3h0M1265.2 303.5h0M1268.3 303.5h0M1268 294.7h0M1425.9 259.6h0M1428.2 250.8h0M1264.2 242h0M1267.6 242h0M1429 242h0M1263.9 224.4h0M1267.8 224.4h0M1266.4 215.6h0M1425.6 215.6h0M1429.1 215.6h0M1265.9 189.2h0M1266.9 145.3h0M1427.7 127.7h0M1264.4 118.9h0M1267 118.9h0M1429 118.9h0M1263.7 110.1h0M1267.3 110.1h0M1426.9 110.1h0M1429 83.8h0M1266.8 75h0M1428.8 75h0M1265.7 66.2h0M1428.9 57.4h0"/><path stroke="#7b7bf7" d="M1259.5 549.6h0M1263.1 549.6h0M1263 532h0M1260.3 514.5h0M1262.5 496.9h0M1259 444.1h0M1260.5 435.4h0M1263.6 435.4h0M1262.1 426.6h0M1263.2 417.8h0M1260.5 400.2h0M1261.4 373.8h0M1432 329.9h0M1261.5 312.3h0M1434.5 294.7h0M1260.5 277.1h0M1434.2 268.4h0M1431.3 250.8h0M1434 250.8h0M1260.1 242h0M1432.1 242h0M1434.8 242h0M1259.9 224.4h0M1259.1 215.6h0M1262.5 215.6h0M1431.8 215.6h0M1261.3 206.8h0M1431.5 198h0M1434.9 198h0M1259.3 189.2h0M1263 189.2h0M1261.8 154.1h0M1431.7 127.7h0M1258.9 118.9h0M1261.8 118.9h0M1431.9 118.9h0M1434.8 118.9h0M1260.4 110.1h0M1431.5 75h0M1434.6 75h0M1261.7 66.2h0"/><path stroke="#8274f7" d="M1257.1 540.8h0M1254.2 523.3h0M1257.2 514.5h0M1437.6 496.9h0M1254.2 435.4h0M1256.9 435.4h0M1437.8 409h0M1254.7 373.8h0M1257.7 373.8h0M1258 365h0M1435.6 347.5h0M1439.8 347.5h0M1437.6 294.7h0M1256.5 259.6h0M1437.9 250.8h0M1257.1 242h0M1437.6 242h0M1255.3 215.6h0M1435.6 215.6h0M1439.5 215.6h0M1257.4 206.8h0M1437.7 198h0M1256.1 189.2h0M1254.5 180.5h0M1255.3 154.1h0M1258.6 154.1h0M1254.8 118.9h0M1438.5 118.9h0M1256.6 110.1h0M1436.4 110.1h0M1439.3 110.1h0M1254.1 101.3h0M1436.1 101.3h0M1258.6 66.2h0"/><path stroke="#896df7" d="M1253.5 514.5h0M1250.5 435.4h0M1441.9 426.6h0M1249.7 417.8h0M1441.7 409h0M1250 400.2h0M1253.1 382.6h0M1440.7 382.6h0M1444.4 373.8h0M1443.8 312.3h0M1249.5 294.7h0M1444.1 294.7h0M1250 259.6h0M1440.8 250.8h0M1249.6 242h0M1253.3 242h0M1443.7 233.2h0M1440.4 224.4h0M1443.1 224.4h0M1251.6 215.6h0M1442.8 215.6h0M1254.1 206.8h0M1440.5 198h0M1252.8 189.2h0M1250.9 162.9h0M1251.5 154.1h0M1250.9 136.5h0M1254.1 136.5h0M1251.8 118.9h0M1441.7 118.9h0M1249.4 110.1h0M1253.1 110.1h0M1442.7 110.1h0M1250 101.3h0M1441.5 83.8h0M1253.1 66.2h0M1249.8 57.4h0"/><path stroke="#9067f7" d="M1246.7 435.4h0M1245.6 426.6h0M1246.5 417.8h0M1247.4 400.2h0M1245.2 382.6h0M1249 382.6h0M1249.2 373.8h0M1448.6 373.8h0M1246.5 365h0M1249 356.2h0M1448.6 356.2h0M1447.3 312.3h0M1246 294.7h0M1245.7 242h0M1445.9 224.4h0M1245.2 215.6h0M1248.6 215.6h0M1446.8 215.6h0M1447 198h0M1244.8 189.2h0M1249 189.2h0M1244.8 180.5h0M1249 180.5h0M1448.9 171.7h0M1245.4 162.9h0M1444.9 154.1h0M1244.9 118.9h0M1248.8 118.9h0M1449.2 118.9h0M1245.6 110.1h0M1445.9 110.1h0M1446.2 92.6h0M1447 83.8h0M1249 66.2h0M1446 66.2h0M1246.3 57.4h0"/><path stroke="#9760f7" d="M1243.5 532h0M1453.2 514.5h0M1452.3 461.7h0M1242.9 435.4h0M1241.2 409h0M1244.3 409h0M1240.6 400.2h0M1243.6 400.2h0M1240.5 365h0M1243.6 365h0M1452.1 356.2h0M1243.2 294.7h0M1453.7 268.4h0M1450.3 250.8h0M1240.3 242h0M1242.9 242h0M1449.5 224.4h0M1452.3 224.4h0M1242.5 215.6h0M1450 215.6h0M1453.5 215.6h0M1241.2 180.5h0M1452.6 171.7h0M1242.4 145.3h0M1453.2 118.9h0M1242.4 110.1h0M1449.6 110.1h0M1453.8 110.1h0M1449.7 92.6h0M1453.3 92.6h0M1451 83.8h0"/><path stroke="#9e59f7" d="M1457.1 514.5h0M1235.7 435.4h0M1239.5 435.4h0M1235.1 426.6h0M1238.5 409h0M1237.3 400.2h0M1455.8 338.7h0M1458.8 250.8h0M1237.4 242h0M1237.4 224.4h0M1238.6 215.6h0M1456.9 215.6h0M1237.2 198h0M1455.5 198h0M1237 180.5h0M1237.1 171.7h0M1236 154.1h0M1238.5 145.3h0M1457.4 118.9h0M1235.9 110.1h0M1456.6 110.1h0M1238.1 92.6h0M1457.4 92.6h0M1454.8 83.8h0M1236.3 75h0M1237.8 57.4h0"/><path stroke="#a452f7" d="M1460.3 514.5h0M1463.1 488.1h0M1232.7 435.4h0M1232.3 426.6h0M1460.6 417.8h0M1461.2 409h0M1230.6 400.2h0M1234.6 400.2h0M1231.1 373.8h0M1234.7 373.8h0M1234 365h0M1462.3 365h0M1231.7 356.2h0M1234.5 356.2h0M1461.3 347.5h0M1231.4 242h0M1234.5 242h0M1231 224.4h0M1234.5 224.4h0M1231.1 215.6h0M1234.5 215.6h0M1459.6 215.6h0M1462.7 215.6h0M1230.7 198h0M1462 198h0M1461.6 162.9h0M1230.6 154.1h0M1233.2 154.1h0M1462.4 154.1h0M1230.7 145.3h0M1234.5 145.3h0M1461.6 145.3h0M1230.4 118.9h0M1461.2 118.9h0M1232.4 110.1h0M1459.6 110.1h0M1230.5 101.3h0M1460.2 92.6h0M1463.1 75h0M1231 66.2h0M1234.5 66.2h0M1234.2 57.4h0"/><path stroke="#ab4bf7" d="M1467.8 549.6h0M1227.7 523.3h0M1464.4 514.5h0M1467.4 514.5h0M1228.1 488.1h0M1466.4 488.1h0M1227 452.9h0M1230.3 452.9h0M1226.3 435.4h0M1229.9 435.4h0M1229 426.6h0M1464.3 417.8h0M1468.4 417.8h0M1226 409h0M1227.2 400.2h0M1467.7 400.2h0M1225.6 391.4h0M1228.4 391.4h0M1227.9 373.8h0M1229.8 365h0M1228.1 356.2h0M1227.9 338.7h0M1227 321.1h0M1225.7 294.7h0M1229 277.1h0M1226.5 259.6h0M1228.2 242h0M1226.8 233.2h0M1464.2 233.2h0M1467.5 233.2h0M1227.1 224.4h0M1228.4 215.6h0M1465.8 215.6h0M1226.6 206.8h0M1465.5 198h0M1226.5 180.5h0M1226.4 171.7h0M1229.6 171.7h0M1227.9 162.9h0M1227.1 154.1h0M1226.6 145.3h0M1227.4 118.9h0M1464.3 118.9h0M1228.2 110.1h0M1227.4 101.3h0M1468.3 83.8h0M1227.5 57.4h0M1230.2 57.4h0M1465.4 57.4h0"/><path stroke="#b244f7" d="M1222.7 558.4h0M1470.7 549.6h0M1469.9 488.1h0M1471.3 452.9h0M1222.2 435.4h0M1221 426.6h0M1224.9 426.6h0M1471.2 417.8h0M1223.6 400.2h0M1221.5 391.4h0M1470.2 382.6h0M1221.5 373.8h0M1225.1 373.8h0M1468.8 347.5h0M1222 329.9h0M1223.1 294.7h0M1223.7 268.4h0M1221.3 242h0M1225.3 242h0M1224.1 233.2h0M1470.3 233.2h0M1223.6 224.4h0M1221 215.6h0M1224.7 215.6h0M1468.6 215.6h0M1471.9 215.6h0M1471.1 171.7h0M1221.4 162.9h0M1225.1 162.9h0M1471.1 162.9h0M1223.4 154.1h0M1472.9 154.1h0M1472.8 136.5h0M1222 127.7h0M1223.6 118.9h0M1472.8 118.9h0M1224.5 110.1h0M1470.1 110.1h0M1471.6 101.3h0M1221.7 83.8h0M1472.4 83.8h0M1472.5 66.2h0M1224 57.4h0"/><path stroke="#b93df7" d="M1219.5 558.4h0M1477.9 540.8h0M1216.2 523.3h0M1475.3 452.9h0M1216.5 444.1h0M1218.4 435.4h0M1474.2 417.8h0M1217.9 400.2h0M1220.6 400.2h0M1473.9 382.6h0M1219 329.9h0M1477.5 329.9h0M1216.5 321.1h0M1219.7 294.7h0M1475.2 277.1h0M1220 268.4h0M1477.4 259.6h0M1218.7 242h0M1217.1 233.2h0M1220.4 233.2h0M1216.9 224.4h0M1220.5 224.4h0M1217.1 206.8h0M1477.4 180.5h0M1216.2 162.9h0M1218.8 162.9h0M1217.8 154.1h0M1220.6 154.1h0M1476.5 154.1h0M1477.1 145.3h0M1474.2 127.7h0M1220 118.9h0M1476.2 118.9h0M1217.5 110.1h0M1220.7 110.1h0M1474.4 101.3h0M1217.8 83.8h0M1475.5 83.8h0M1217.8 75h0M1476 66.2h0M1216.5 57.4h0"/><path stroke="#c036f7" d="M1214 549.6h0M1480.6 540.8h0M1212.5 523.3h0M1482.1 496.9h0M1482.4 488.1h0M1211.5 435.4h0M1214.8 435.4h0M1213.9 400.2h0M1480.1 373.8h0M1213.4 347.5h0M1211.3 338.7h0M1215.4 338.7h0M1212.7 329.9h0M1216 329.9h0M1213.7 303.5h0M1481.3 303.5h0M1213.5 277.1h0M1213.2 242h0M1479.8 233.2h0M1213.1 224.4h0M1214.1 206.8h0M1478.5 189.2h0M1482.5 189.2h0M1213.3 162.9h0M1214 154.1h0M1215.5 127.7h0M1479.2 118.9h0M1482.6 110.1h0M1480.9 101.3h0M1213.8 83.8h0M1481 83.8h0M1481.5 66.2h0"/><path stroke="#c730f7" d="M1207.5 567.2h0M1485 505.7h0M1486.2 496.9h0M1207.6 435.4h0M1486.5 435.4h0M1207.2 400.2h0M1209.9 400.2h0M1209.7 382.6h0M1483.4 382.6h0M1208.3 365h0M1207.2 347.5h0M1210.1 347.5h0M1207.6 338.7h0M1209.2 329.9h0M1484 329.9h0M1206.5 303.5h0M1209.7 303.5h0M1485 285.9h0M1486.3 250.8h0M1209.9 242h0M1206.6 206.8h0M1485.2 189.2h0M1210 180.5h0M1209.7 162.9h0M1484.6 162.9h0M1210.5 154.1h0M1482.9 118.9h0M1487 118.9h0M1208.9 101.3h0M1211.2 83.8h0M1483.9 83.8h0M1484.6 66.2h0M1208 57.4h0"/><path stroke="#ce29f7" d="M1488.5 558.4h0M1204.5 549.6h0M1487.8 505.7h0M1205.5 470.5h0M1489 470.5h0M1202.5 452.9h0M1203.5 435.4h0M1203.5 409h0M1203.2 400.2h0M1203.2 347.5h0M1204 338.7h0M1202.7 329.9h0M1206.1 329.9h0M1487.9 259.6h0M1490.5 250.8h0M1202.2 242h0M1206 242h0M1203.5 215.6h0M1202.5 206.8h0M1204.5 180.5h0M1201.9 171.7h0M1487.6 171.7h0M1487.7 162.9h0M1490.8 162.9h0M1203.1 145.3h0M1490.2 118.9h0M1490.1 110.1h0M1204.7 101.3h0M1488.4 101.3h0M1492 101.3h0M1204.3 75h0"/><path stroke="#d422f7" d="M1199.6 488.1h0M1493.5 479.3h0M1496.8 479.3h0M1492.9 470.5h0M1495.8 461.7h0M1199.9 435.4h0M1496 435.4h0M1493.7 417.8h0M1200.5 409h0M1197 400.2h0M1200.6 400.2h0M1200.2 382.6h0M1198.8 365h0M1198.6 356.2h0M1199.3 347.5h0M1198.5 338.7h0M1199.7 329.9h0M1493.8 250.8h0M1198.7 242h0M1197.6 233.2h0M1496.3 233.2h0M1200.2 215.6h0M1198.7 206.8h0M1199.1 171.7h0M1199.5 145.3h0M1198.4 136.5h0M1492.9 118.9h0M1496.2 118.9h0M1493.5 110.1h0M1496.1 110.1h0M1496 101.3h0M1494.4 83.8h0M1200.5 75h0M1494.1 66.2h0"/><path stroke="#db1bf7" d="M1193.5 488.1h0M1196.7 488.1h0M1193.8 435.4h0M1196.8 435.4h0M1500 435.4h0M1193.5 400.2h0M1500.2 400.2h0M1194 391.4h0M1193.3 365h0M1194.5 356.2h0M1498.6 356.2h0M1501.2 356.2h0M1193.2 329.9h0M1196.8 329.9h0M1497.4 259.6h0M1194.9 250.8h0M1497.9 250.8h0M1501.2 250.8h0M1195.1 242h0M1193.5 233.2h0M1499.5 233.2h0M1193.6 215.6h0M1196.9 215.6h0M1498.4 215.6h0M1192.5 206.8h0M1196.1 206.8h0M1192.2 198h0M1500.7 189.2h0M1195 171.7h0M1498.6 145.3h0M1195.5 136.5h0M1500.3 136.5h0M1500.4 118.9h0M1193.2 101.3h0M1195.6 92.6h0M1497.7 83.8h0M1500.6 66.2h0M1195.5 57.4h0"/><path stroke="#e214f7" d="M1505.3 461.7h0M1189.7 435.4h0M1504.2 435.4h0M1190.5 400.2h0M1504.3 400.2h0M1187.8 365h0M1190.5 356.2h0M1189.8 347.5h0M1502.3 347.5h0M1189 329.9h0M1188.2 294.7h0M1188 250.8h0M1190.7 250.8h0M1504.4 250.8h0M1188 242h0M1190.9 242h0M1504.1 242h0M1502.7 233.2h0M1190.8 215.6h0M1505.6 206.8h0M1189.1 198h0M1502.1 145.3h0M1504.9 145.3h0M1503.6 136.5h0M1506.3 136.5h0M1504 118.9h0M1505.6 110.1h0M1190.5 101.3h0M1506.5 101.3h0M1189.1 92.6h0M1189.5 66.2h0M1503.4 66.2h0"/><path stroke="#e90df7" d="M1185.6 540.8h0M1508.7 496.9h0M1183.4 435.4h0M1186.5 435.4h0M1183.7 400.2h0M1186.5 400.2h0M1507.7 400.2h0M1187 373.8h0M1184.1 365h0M1186.2 347.5h0M1184 294.7h0M1507.9 259.6h0M1510.9 250.8h0M1185.2 242h0M1507 242h0M1509.2 233.2h0M1185.6 224.4h0M1184.3 215.6h0M1187.1 215.6h0M1507.9 215.6h0M1507 198h0M1185.3 189.2h0M1507 118.9h0M1510.9 118.9h0M1508.3 110.1h0M1184 101.3h0M1510.5 101.3h0M1186 92.6h0M1507.4 66.2h0"/><path stroke="#f006f7" d="M1512.2 549.6h0M1514.9 549.6h0M1181.5 540.8h0M1179.5 435.4h0M1180.5 426.6h0M1180.5 400.2h0M1179.5 391.4h0M1179.7 382.6h0M1513.7 356.2h0M1178.8 347.5h0M1182.1 347.5h0M1180.5 294.7h0M1178.5 250.8h0M1181.7 242h0M1180.4 215.6h0M1178.5 198h0M1181.6 198h0M1178 189.2h0M1181.8 189.2h0M1178.5 171.7h0M1180.2 162.9h0M1178.1 118.9h0M1181.5 118.9h0M1514.6 118.9h0M1511.7 110.1h0M1515.9 110.1h0M1178.5 83.8h0M1181.7 83.8h0M1513.9 57.4h0"/><path stroke="#f700f7" d="M1517.4 426.6h0M1176.4 382.6h0M1177.6 365h0M1516.8 365h0M1175.5 347.5h0M1177.5 329.9h0M1176.5 268.4h0M1177.5 242h0M1518.5 242h0M1516.7 233.2h0M1176.5 215.6h0M1176.5 162.9h0M1517.3 162.9h0M1518.3 118.9h0M1176.5 92.6h0"/></g>
<g fill="#000"><circle cx="188.3" cy="71.7" r="7.3"/><circle cx="264.4" cy="85.7" r="7.3"/><circle cx="280.3" cy="113.6" r="7.3"/><circle cx="155" cy="127.6" r="7.3"/><circle cx="260.7" cy="127.6" r="7.3"/><circle cx="225" cy="134.6" r="7.3"/><circle cx="211.6" cy="148.5" r="7.3"/><circle cx="195.6" cy="155.5" r="7.3"/><circle cx="183.2" cy="162.5" r="7.3"/><circle cx="166" cy="169.5" r="7.3"/><circle cx="229.9" cy="169.5" r="7.3"/><circle cx="294.6" cy="162.5" r="7.3"/><circle cx="156.8" cy="183.4" r="7.3"/><circle cx="272.6" cy="197.4" r="7.3"/><circle cx="234.5" cy="204.4" r="7.3"/><circle cx="250.1" cy="232.3" r="7.3"/><circle cx="163" cy="239.3" r="7.3"/><circle cx="203" cy="239.3" r="7.3"/><circle cx="207.6" cy="239.3" r="7.3"/><circle cx="289.5" cy="246.3" r="7.3"/><circle cx="184.6" cy="267.2" r="7.3"/><circle cx="202" cy="267.2" r="7.3"/><circle cx="178.2" cy="281.2" r="7.3"/><circle cx="224.6" cy="281.2" r="7.3"/><circle cx="194.7" cy="295.2" r="7.3"/><circle cx="264.4" cy="302.1" r="7.3"/><circle cx="302.8" cy="71.7" r="7.3"/><circle cx="458.6" cy="92.7" r="7.3"/><circle cx="427.5" cy="99.6" r="7.3"/><circle cx="361.5" cy="127.6" r="7.3"/><circle cx="311.1" cy="141.5" r="7.3"/><circle cx="306.9" cy="155.5" r="7.3"/><circle cx="446.7" cy="162.5" r="7.3"/><circle cx="323.5" cy="176.4" r="7.3"/><circle cx="396.9" cy="176.4" r="7.3"/><circle cx="385.3" cy="183.4" r="7.3"/><circle cx="412.4" cy="183.4" r="7.3"/><circle cx="438.1" cy="183.4" r="7.3"/><circle cx="452.2" cy="218.3" r="7.3"/><circle cx="396.9" cy="225.3" r="7.3"/><circle cx="319.3" cy="232.3" r="7.3"/><circle cx="426.5" cy="239.3" r="7.3"/><circle cx="412.4" cy="267.2" r="7.3"/><circle cx="328.5" cy="274.2" r="7.3"/><circle cx="405.8" cy="288.2" r="7.3"/><circle cx="210.1" cy="323.1" r="7.3"/><circle cx="296" cy="330.1" r="7.3"/><circle cx="139.1" cy="351" r="7.3"/><circle cx="273.2" cy="413.9" r="7.3"/><circle cx="234.6" cy="441.8" r="7.3"/><circle cx="238.9" cy="462.7" r="7.3"/><circle cx="269.4" cy="469.7" r="7.3"/><circle cx="266.6" cy="476.7" r="7.3"/><circle cx="250.9" cy="490.7" r="7.3"/><circle cx="267.1" cy="497.6" r="7.3"/><circle cx="126.7" cy="497.6" r="7.3"/><circle cx="267.1" cy="518.6" r="7.3"/><circle cx="299.4" cy="525.6" r="7.3"/><circle cx="137.2" cy="546.5" r="7.3"/><circle cx="173.4" cy="546.5" r="7.3"/><circle cx="223.3" cy="567.5" r="7.3"/><circle cx="366.3" cy="316.1" r="7.3"/><circle cx="421.2" cy="358" r="7.3"/><circle cx="326.3" cy="365" r="7.3"/><circle cx="382.3" cy="385.9" r="7.3"/><circle cx="398.3" cy="392.9" r="7.3"/><circle cx="430.8" cy="427.8" r="7.3"/><circle cx="326.2" cy="434.8" r="7.3"/><circle cx="332.9" cy="518.6" r="7.3"/><circle cx="439.7" cy="539.5" r="7.3"/><circle cx="314.5" cy="553.5" r="7.3"/></g>
<g fill="#000"><circle cx="649.3" cy="83.8" r="7.3"/><circle cx="785.5" cy="83.8" r="7.3"/><circle cx="802.9" cy="101.3" r="7.3"/><circle cx="780.7" cy="145.3" r="7.3"/><circle cx="749.6" cy="154.1" r="7.3"/><circle cx="725.8" cy="171.7" r="7.3"/><circle cx="725" cy="233.2" r="7.3"/><circle cx="752.3" cy="233.2" r="7.3"/><circle cx="664" cy="250.8" r="7.3"/><circle cx="811.5" cy="268.4" r="7.3"/><circle cx="718.6" cy="277.1" r="7.3"/><circle cx="679.9" cy="285.9" r="7.3"/><circle cx="789.5" cy="312.3" r="7.3"/><circle cx="849.1" cy="75" r="7.3"/><circle cx="841.7" cy="83.8" r="7.3"/><circle cx="982.9" cy="75" r="7.3"/><circle cx="922.4" cy="118.9" r="7.3"/><circle cx="927.9" cy="127.7" r="7.3"/><circle cx="967.7" cy="118.9" r="7.3"/><circle cx="944.4" cy="162.9" r="7.3"/><circle cx="890.3" cy="189.2" r="7.3"/><circle cx="944.4" cy="189.2" r="7.3"/><circle cx="866.1" cy="206.8" r="7.3"/><circle cx="872.4" cy="215.6" r="7.3"/><circle cx="850.9" cy="224.4" r="7.3"/><circle cx="930.6" cy="215.6" r="7.3"/><circle cx="842.7" cy="294.7" r="7.3"/><circle cx="859.2" cy="312.3" r="7.3"/><circle cx="740.3" cy="365" r="7.3"/><circle cx="803.9" cy="373.8" r="7.3"/><circle cx="797.3" cy="426.6" r="7.3"/><circle cx="758.2" cy="461.7" r="7.3"/><circle cx="665.2" cy="496.9" r="7.3"/><circle cx="677.8" cy="505.7" r="7.3"/><circle cx="703.2" cy="514.5" r="7.3"/><circle cx="775.7" cy="505.7" r="7.3"/><circle cx="754" cy="523.3" r="7.3"/><circle cx="773.8" cy="549.6" r="7.3"/><circle cx="680.6" cy="558.4" r="7.3"/><circle cx="804.9" cy="567.2" r="7.3"/><circle cx="968.6" cy="338.7" r="7.3"/><circle cx="875" cy="347.5" r="7.3"/><circle cx="836.4" cy="356.2" r="7.3"/><circle cx="852.4" cy="391.4" r="7.3"/><circle cx="820.8" cy="400.2" r="7.3"/><circle cx="905.5" cy="400.2" r="7.3"/><circle cx="888.9" cy="435.4" r="7.3"/><circle cx="851.5" cy="444.1" r="7.3"/><circle cx="961.6" cy="470.5" r="7.3"/><circle cx="893.8" cy="567.2" r="7.3"/></g>
<g fill="#000"><circle cx="1176.3" cy="83.8" r="7.3"/><circle cx="1312.5" cy="83.8" r="7.3"/><circle cx="1329.9" cy="101.3" r="7.3"/><circle cx="1307.7" cy="145.3" r="7.3"/><circle cx="1276.6" cy="154.1" r="7.3"/><circle cx="1252.8" cy="171.7" r="7.3"/><circle cx="1252" cy="233.2" r="7.3"/><circle cx="1279.3" cy="233.2" r="7.3"/><circle cx="1191" cy="250.8" r="7.3"/><circle cx="1338.5" cy="268.4" r="7.3"/><circle cx="1245.6" cy="277.1" r="7.3"/><circle cx="1206.9" cy="285.9" r="7.3"/><circle cx="1316.5" cy="312.3" r="7.3"/><circle cx="1376.1" cy="75" r="7.3"/><circle cx="1368.7" cy="83.8" r="7.3"/><circle cx="1509.9" cy="75" r="7.3"/><circle cx="1449.4" cy="118.9" r="7.3"/><circle cx="1454.9" cy="127.7" r="7.3"/><circle cx="1494.7" cy="118.9" r="7.3"/><circle cx="1471.4" cy="162.9" r="7.3"/><circle cx="1417.3" cy="189.2" r="7.3"/><circle cx="1471.4" cy="189.2" r="7.3"/><circle cx="1393.1" cy="206.8" r="7.3"/><circle cx="1399.4" cy="215.6" r="7.3"/><circle cx="1377.9" cy="224.4" r="7.3"/><circle cx="1457.6" cy="215.6" r="7.3"/><circle cx="1369.7" cy="294.7" r="7.3"/><circle cx="1386.2" cy="312.3" r="7.3"/><circle cx="1267.3" cy="365" r="7.3"/><circle cx="1330.9" cy="373.8" r="7.3"/><circle cx="1324.3" cy="426.6" r="7.3"/><circle cx="1285.2" cy="461.7" r="7.3"/><circle cx="1192.2" cy="496.9" r="7.3"/><circle cx="1204.8" cy="505.7" r="7.3"/><circle cx="1230.2" cy="514.5" r="7.3"/><circle cx="1302.7" cy="505.7" r="7.3"/><circle cx="1281" cy="523.3" r="7.3"/><circle cx="1300.8" cy="549.6" r="7.3"/><circle cx="1207.6" cy="558.4" r="7.3"/><circle cx="1331.9" cy="567.2" r="7.3"/><circle cx="1495.6" cy="338.7" r="7.3"/><circle cx="1402" cy="347.5" r="7.3"/><circle cx="1363.4" cy="356.2" r="7.3"/><circle cx="1379.4" cy="391.4" r="7.3"/><circle cx="1347.8" cy="400.2" r="7.3"/><circle cx="1432.5" cy="400.2" r="7.3"/><circle cx="1415.9" cy="435.4" r="7.3"/><circle cx="1378.5" cy="444.1" r="7.3"/><circle cx="1488.6" cy="470.5" r="7.3"/><circle cx="1420.8" cy="567.2" r="7.3"/></g>
<path d="M121.6 338.9C122.5 340.2 125 344.2 127 347C129 349.8 132 354.5 133.8 355.8C135.6 357.1 135.7 358 137.6 354.9C139.5 351.8 142.4 342.8 145.1 337C147.8 331.2 151.1 322.1 153.6 320.1C156.1 318.1 158 323.9 160.2 324.8C162.4 325.7 164.9 324.3 166.8 325.7C168.7 327.1 169.2 327.9 171.5 333.2C173.8 338.5 178.4 349.8 180.9 357.7C183.4 365.6 184.6 371.5 186.5 380.3C188.4 389.1 190.5 403.3 192.2 410.4C193.9 417.5 195.3 421.4 196.9 422.7C198.5 424 199.9 421.9 201.6 418C203.3 414.1 205.4 405.4 207.3 399.1C209.2 392.8 211 384.4 212.9 380.3C214.8 376.2 216.9 374.4 218.6 374.7C220.3 375 221.4 377.2 223.3 382.2C225.2 387.2 227.6 397.9 229.9 404.8C232.2 411.7 234.6 419.3 237.4 423.6C240.2 427.9 244 430.8 246.8 430.8C249.6 430.8 251.8 426.4 254.3 423.6C256.8 420.8 259.8 416.4 261.9 414.2C263.9 412 265 410.1 266.6 410.4C268.2 410.7 269.6 412.3 271.3 416.1C273 419.9 274.9 428.1 276.9 433C278.9 437.9 281.4 443.7 283.5 445.3C285.6 446.9 287.3 443.9 289.2 442.5C291.1 441.1 293.1 440.4 294.8 436.8C296.5 433.2 298 425.5 299.4 421.1C300.8 416.7 301.6 417.2 303.2 410.4C304.8 403.6 307.2 391.6 308.8 380.3C310.4 369 311.7 355.2 312.6 342.7C313.6 330.1 313.8 314.1 314.5 305C315.2 295.9 315.7 295.7 316.6 288.3C317.6 280.9 319 270 320.2 260.8C321.4 251.6 322.5 240 323.9 233.3C325.3 226.6 326.2 224.5 328.5 220.5C330.8 216.5 334.9 212.6 337.7 209.5C340.4 206.4 342.9 207.3 345 202.1C347.1 196.9 349 186.9 350.5 178.3C352 169.8 352.9 161.5 354.1 150.8C355.3 140.1 356.6 124.8 357.8 114.1C359 103.4 360.3 95.5 361.5 86.7C362.7 77.9 363.9 65.8 365.1 61C366.3 56.2 367.4 58.5 368.8 58.2C370.2 57.9 371.6 56.9 373.4 59.2C375.2 61.5 378.1 68.8 379.8 72C381.5 75.2 381.8 76.9 383.5 78.4C385.2 79.9 388.1 79.8 389.9 81.2C391.7 82.6 393.1 84 394.5 86.7C395.9 89.5 396.9 92.2 398.1 97.7C399.3 103.2 400.6 111.7 401.8 119.6C403 127.5 404.1 137.4 405.5 145.3C406.9 153.2 408.5 161.8 410 167.3C411.5 172.8 412.8 174.8 414.6 178.3C416.4 181.8 418.6 186.6 421 188.4C423.4 190.2 427.3 188.2 429.3 189.3C431.3 190.4 431.8 191.1 433 194.8C434.2 198.5 435.4 204.9 436.6 211.3C437.8 217.7 438.8 223.5 440.3 233.3C441.8 243.1 444.2 258.1 445.8 270C447.4 281.9 448.5 296 450 305C451.5 314 453.2 318.8 454.8 323.8C456.4 328.8 458.1 332.7 459.5 335.1C460.9 337.5 462.6 337.5 463.2 338" fill="none" stroke="#f01010" stroke-width="4" stroke-linejoin="round" stroke-linecap="round"/>
<path d="M648.4 154.5C649.2 156.3 651.2 162.4 653 165.5C654.8 168.6 657.6 172.5 659.4 172.8C661.2 173.1 662.3 171.9 664 167.3C665.7 162.7 667.7 152.9 669.5 145.3C671.3 137.7 673.5 126.4 675 121.5C676.5 116.6 677.3 116 678.7 116C680.1 116 681.8 118.5 683.2 121.5C684.6 124.5 685.5 127.9 686.9 134.3C688.3 140.7 689.8 149.6 691.5 160C693.2 170.4 695.2 185.9 697 196.6C698.8 207.3 700.8 214.9 702.5 224.1C704.2 233.3 705.7 242.4 707.1 251.6C708.5 260.8 709.7 270.2 710.7 279.1C711.7 288 712 297.6 712.9 305C713.8 312.4 715.3 315.9 716.4 323.8C717.5 331.7 718.1 343.3 719.2 352.1C720.3 360.9 721.8 369.6 723 376.5C724.2 383.4 725.3 389.7 726.7 393.5C728.1 397.3 729.5 398.8 731.4 399.1C733.3 399.4 735.8 396.5 738 395.4C740.2 394.3 742.7 392.3 744.6 392.6C746.5 392.9 747.6 393.1 749.3 397.3C751 401.5 752.8 409.9 755 418C757.2 426.1 760.3 438.1 762.5 446.2C764.7 454.3 766.5 461.6 768.2 466.9C769.9 472.2 771.3 477.8 772.9 477.8C774.5 477.8 775.2 473.7 777.6 466.9C780 460.1 784.2 445.9 787 436.8C789.8 427.7 792 418.1 794.5 412.3C797 406.5 799.8 403.2 802 402C804.2 400.8 805.8 402.8 807.7 404.8C809.6 406.8 811.4 410.4 813.3 414.2C815.2 417.9 817.5 423.5 819 427.3C820.5 431.1 821.1 432.7 822.6 436.8C824.1 440.9 826.1 448.1 828.3 451.9C830.5 455.7 832.7 457.7 835.8 459.4C838.9 461.1 842.7 461.7 847.1 462.2C851.5 462.7 858.1 462.8 862.2 462.2C866.3 461.6 868.3 459.4 871.6 458.5C874.9 457.6 879.2 456.3 882 457.1C884.8 457.9 886.1 460.9 888.5 463.2C890.9 465.5 893.6 469.8 896.1 470.7C898.6 471.6 901.4 470.4 903.6 468.8C905.8 467.2 907.7 465.1 909.3 461.3C910.9 457.5 911.8 452.8 913 446.2C914.2 439.6 915.4 429.5 916.8 421.7C918.2 413.9 919.8 406 921.5 399.1C923.2 392.2 925.5 386.9 927.2 380.3C928.9 373.7 930.5 366.5 931.9 359.6C933.3 352.7 934.4 345.5 935.6 338.9C936.9 332.3 938.2 325.8 939.4 320.1C940.6 314.5 941.6 311.8 942.6 305C943.6 298.2 944.2 289.5 945.3 279.1C946.4 268.7 947.6 254.6 949 242.4C950.4 230.2 952 218 953.5 205.8C955 193.6 956.7 181.3 958.1 169.1C959.5 156.9 960.6 144.7 961.8 132.5C963 120.3 964.3 106.5 965.5 95.8C966.7 85.1 967.7 74.6 969.1 68.3C970.5 62 972.3 58.8 973.7 58.2C975.1 57.6 976 60 977.4 64.7C978.8 69.5 980.5 78.5 982 86.7C983.5 94.9 985.1 105.2 986.5 114.1C987.9 122.9 989.6 135.5 990.2 139.8" fill="none" stroke="#f01010" stroke-width="4" stroke-linejoin="round" stroke-linecap="round"/>
<path d="M1175.6 511.2C1177 509.5 1181.1 505 1184.1 500.8C1187.1 496.6 1190.2 490 1193.5 485.8C1196.8 481.6 1201 476.8 1203.8 475.4C1206.6 474 1208.2 476.1 1210.4 477.3C1212.6 478.6 1215.1 483.4 1217 482.9C1218.9 482.4 1220.3 479.1 1221.7 474.5C1223.1 469.9 1224.2 463.5 1225.5 455.6C1226.8 447.8 1228 436.8 1229.3 427.4C1230.5 418 1231.8 410.1 1233 399.1C1234.2 388.1 1235.5 374.1 1236.8 361.5C1238 348.9 1239.6 333.2 1240.5 323.8C1241.4 314.4 1241.8 314 1242.4 305C1243 296 1243.3 281.8 1244.1 269.9C1244.8 257.9 1246 245.5 1246.9 233.3C1247.8 221.1 1248.7 208.8 1249.6 196.6C1250.5 184.4 1251.5 172.2 1252.4 160C1253.3 147.8 1254 135.5 1255.1 123.3C1256.2 111.1 1257.7 96.2 1258.8 86.7C1259.9 77.2 1260.7 71.2 1261.6 66.5C1262.5 61.8 1263.2 58.8 1264.3 58.2C1265.4 57.6 1266.8 59.3 1268 62.8C1269.2 66.3 1270.4 72.3 1271.6 79.3C1272.8 86.3 1274.1 96.1 1275.3 105C1276.5 113.9 1277.8 122.7 1279 132.5C1280.2 142.3 1281.4 152.9 1282.6 163.6C1283.8 174.3 1285.1 185 1286.3 196.6C1287.5 208.2 1288.8 222.6 1290 233.3C1291.2 244 1292.4 251.6 1293.6 260.8C1294.8 270 1296.3 280.9 1297.3 288.3C1298.3 295.7 1298.6 299.1 1299.5 305C1300.4 310.9 1300.9 315.9 1302.7 323.8C1304.5 331.7 1307.7 342.7 1310.2 352.1C1312.7 361.5 1315.5 370.9 1317.7 380.3C1319.9 389.7 1321.5 400.8 1323.4 408.6C1325.3 416.5 1327.1 421.4 1329 427.4C1330.9 433.3 1332.8 440.5 1334.7 444.3C1336.6 448.1 1338.4 449.7 1340.3 450C1342.2 450.3 1344.1 447.4 1346 446.2C1347.9 444.9 1349.3 442.2 1351.5 442.5C1353.7 442.8 1356.4 446.5 1359.1 448.1C1361.8 449.7 1365 452.4 1367.5 451.9C1370 451.4 1371.7 449.7 1374.1 445.3C1376.5 440.9 1379 431 1381.7 425.5C1384.4 420 1387.6 413.6 1390.1 412.3C1392.6 411.1 1394.3 413.3 1396.7 418C1399.1 422.7 1401.8 433.7 1404.3 440.6C1406.8 447.5 1409.4 455.5 1411.8 459.4C1414.2 463.3 1415.9 464.7 1418.4 464.1C1420.9 463.5 1424.1 457.5 1426.8 455.6C1429.5 453.7 1431.9 452.5 1434.4 452.8C1436.9 453.1 1439.2 455.3 1441.9 457.5C1444.6 459.7 1447.9 464.6 1450.4 466C1452.9 467.4 1454.3 466.6 1457 466C1459.7 465.4 1463.6 462.1 1466.4 462.2C1469.2 462.3 1471.4 464.2 1473.9 466.9C1476.4 469.6 1478.9 475 1481.4 478.2C1483.9 481.4 1486.5 483.3 1489 485.8C1491.5 488.3 1494 490.2 1496.5 493.3C1499 496.4 1501.5 501.6 1504 504.6C1506.5 507.6 1509.2 509.9 1511.6 511.2C1514 512.5 1517.1 512 1518.2 512.1" fill="none" stroke="#f01010" stroke-width="4" stroke-linejoin="round" stroke-linecap="round"/>
<text x="292.5" y="671.8" font-size="39.3" fill="#e31a1a" text-anchor="middle">Angle (<tspan font-size="30" dy="-19.4">o</tspan><tspan dy="19.4">)</tspan></text>
<text transform="translate(58.3 312) rotate(-90)" font-size="39.3" fill="#e31a1a" text-anchor="middle">Trial #</text>
<text transform="translate(539 312) rotate(-90)" font-size="39.3" fill="#e31a1a" text-anchor="middle">Firing Rate (Hz)</text>
<text x="41" y="40" font-size="74" font-weight="bold" fill="#000">a</text>
<path d="M120.2 912.7L122.4 901.4L124.6 892L127.6 875.8L129.8 901.4L130.6 907.3L133.5 921.2L137.2 912.5L140.9 899.8L144.6 862.5L146.9 872.7L150.6 899L153.5 887.2L157.2 886.8L160.9 864.4L164.6 832L167.6 851.7L171.3 861.2L174.3 874L176.5 872.6L178.7 852.7L182.4 874.2L185.4 893.5L187.6 932.9L190.6 909.8L195.7 867.8L199.4 829.9L202.4 838.1L204.6 861.2L206.9 859.7L209.8 831.7L212.8 863.3L216.5 893.9L220.2 870L223.9 817.1L227.6 800.8L229.8 824.3L233.5 868.7L237.2 872.2L242.4 842.2L245.4 870.6L248.3 880.5L252.8 860.4L257.2 885.3L263.1 835.4L266.1 849.1L271.3 848.6L277.2 862.5L280.9 857L284.6 847.1L288.3 829.1L290 817.8L293 850.5L295.2 855.4L297.4 833.7L300.4 809.8L303.3 832.1L305.6 849.1L309.3 842.5L313 858.2L315.9 858.4L318.1 873.9L321.9 922L323.3 930.7L326.3 917.8L329.3 909.4L331.5 877.6L333.7 819.5L337.4 802.6L339.6 828.6L342.6 849.4L346.3 832.1L349.3 870.3L352.2 902.8L355.2 913.4L358.1 907.5L362.6 876.5L366.3 825.2L369.3 853.1L372.2 874.7L375.9 855L381.1 809.7L384.8 843.3L389.3 898.3L393 888.9L395.5 856.9L398.1 871.3L401.1 885.2L407 848.7L412.2 892.5L415.2 902.9L418.9 893.7L423.3 872.6L427 906.7L430.7 906L435.2 879.8L438.1 890L444.1 838.6L447.8 845.3L450.7 869.9L455.9 893.5L461.9 816.7L463.5 845.8L465.6 865.4L465.6 901.2L463.5 884.2L461.9 867.3L455.9 951.3L450.7 902.7L447.8 879.9L444.1 886.6L438.1 943L435.2 924.2L430.7 939.2L427 951.5L423.3 919.6L418.9 930.7L415.2 953.7L412.2 939.3L407 896.1L401.1 941.8L398.1 913.1L395.5 904.3L393 922.3L389.3 955.5L384.8 875.9L381.1 865.5L375.9 899.8L372.2 928.7L369.3 886.9L366.3 879.6L362.6 916.9L358.1 945.1L355.2 961L352.2 949.8L349.3 917.1L346.3 886.1L342.6 894.6L339.6 875.8L337.4 847.4L333.7 852.3L331.5 909.8L329.3 950.6L326.3 955.6L323.3 985.3L321.9 954.2L318.1 919.5L315.9 902.4L313 890.6L309.3 890.1L305.6 882.1L303.3 875.3L300.4 859.4L297.4 870.7L295.2 905L293 895.5L290 864.8L288.3 866.5L284.6 889.9L280.9 889L277.2 914.1L271.3 885.4L266.1 882.1L263.1 879.8L257.2 929.9L252.8 908.2L248.3 927.3L245.4 916.8L242.4 899.6L237.2 925.2L233.5 915.7L229.8 859.5L227.6 853.6L223.9 857.7L220.2 917.4L216.5 940.5L212.8 909.3L209.8 889.5L206.9 895.1L204.6 906.6L202.4 884.1L199.4 871.9L195.7 901.8L190.6 951.6L187.6 977.1L185.4 938.3L182.4 908.8L178.7 906.9L176.5 929.2L174.3 910.4L171.3 896.6L167.6 883.9L164.6 883.2L160.9 905.2L157.2 922.8L153.5 926.8L150.6 942.8L146.9 919.1L144.6 914.9L140.9 946.8L137.2 951.9L133.5 963.6L130.6 954.1L129.8 945.2L127.6 932.8L124.6 936.8L122.4 945.2L120.2 954.7Z" fill="#d9d9d9"/>
<path d="M120.2 933.7L122.4 923.3L124.6 914.4L127.6 909.3L129.8 923.3L130.6 930.7L133.5 937.4L137.2 932.2L140.9 923.3L144.6 893.7L146.9 895.9L150.6 915.9L153.5 907L157.2 904.8L160.9 884.8L164.6 862.6L167.6 867.8L171.3 878.9L174.3 892.2L176.5 895.9L178.7 884.8L182.4 891.5L185.4 915.9L187.6 950L190.6 930.7L195.7 884.8L199.4 855.9L202.4 861.1L204.6 878.9L206.9 877.4L209.8 865.6L212.8 886.3L216.5 912.2L220.2 893.7L223.9 837.4L227.6 832.2L229.8 841.9L233.5 892.2L237.2 893.7L242.4 875.9L245.4 893.7L248.3 898.9L252.8 889.3L257.2 902.6L263.1 862.6L266.1 865.6L271.3 867L277.2 883.3L280.9 873L284.6 868.5L288.3 847.8L290 846.3L293 873L295.2 875.2L297.4 852.2L300.4 839.6L303.3 853.7L305.6 865.6L309.3 866.3L313 874.4L315.9 880.4L318.1 896.7L321.9 938.1L323.3 953L326.3 936.7L329.3 930L331.5 893.7L333.7 835.9L337.4 830L339.6 852.2L342.6 867L346.3 864.1L349.3 893.7L352.2 926.3L355.2 932.2L358.1 926.3L362.6 896.7L366.3 857.4L369.3 870L372.2 896.7L375.9 877.4L381.1 842.6L384.8 859.6L389.3 921.9L393 905.6L395.5 885.6L398.1 892.2L401.1 908.5L407 877.4L412.2 915.9L415.2 923.3L418.9 912.2L423.3 901.1L427 924.1L430.7 922.6L435.2 907L438.1 911.5L444.1 862.6L447.8 862.6L450.7 886.3L455.9 917.4L461.9 847L463.5 865L465.6 883.3" fill="none" stroke="#000" stroke-width="6" stroke-linejoin="round"/>
<g stroke="#1e1e1e" stroke-width="2" fill="none"><path d="M121.3 794.8V1304.4H464.7"/><path d="M197 1304.4v-6M292.8 1304.4v-6M388.6 1304.4v-6M121.3 812.4h6M121.3 976.4h6M121.3 1140.4h6M121.3 1304.4h6"/></g><g fill="#1e1e1e" font-size="35.7"><text x="197" y="1349" text-anchor="middle">-100</text><text x="292.8" y="1349" text-anchor="middle">0</text><text x="388.6" y="1349" text-anchor="middle">100</text><text x="112.3" y="826.6" text-anchor="end">0.06</text><text x="112.3" y="990.6" text-anchor="end">0.04</text><text x="112.3" y="1154.6" text-anchor="end">0.02</text><text x="112.3" y="1318.6" text-anchor="end">0</text></g>
<text x="293" y="1408.9" font-size="39.3" fill="#1e1e1e" text-anchor="middle">Angle (<tspan font-size="30" dy="-19.4">o</tspan><tspan dy="19.4">)</tspan></text>
<text transform="translate(28.6 1049) rotate(-90)" font-size="39.3" fill="#1e1e1e" text-anchor="middle">Reward rate (Hz)</text>
<text x="36.5" y="775" font-size="74" font-weight="bold" fill="#000">b</text>
<path d="M648.8 1253.8L651.6 1251.2L655.5 1248.7L659.4 1251.2L662.6 1247.4L666.5 1253.2L670.4 1251.2L673.6 1252.5L676.9 1246.1L680.1 1249.9L684 1246.7L688.5 1251.9L691.1 1251.9L694.3 1242.2L697.6 1241.5L702.1 1245.4L707.3 1248.7L711.2 1246.1L715 1235.7L717.6 1237L721.5 1240.9L725.4 1243.5L728.6 1237L732.5 1226L738.3 1227.3L743.5 1230.5L747.4 1228.6L750 1215.7L753.8 1218.3L760.3 1219.5L764.2 1228L768.1 1224.7L772 1227.3L775.2 1233.1L778.4 1229.2L782.3 1233.1L786.2 1235.7L791.4 1237L795.2 1238.9L800.4 1240.9L805.6 1238.3L809.5 1239.6L814.6 1243.5L818.5 1246.7L822.4 1242.8L826.3 1244.8L830.8 1243.5L834.1 1238.3L836 1226.7L837.3 1196.9L838.6 1177.5L841 1097.5L844 997.5L847.5 918.6L850.3 848.6L851.7 828.4L855.3 830.6L857.4 847L858.1 863L861.6 856.4L863 857.1L866.6 883.7L870.8 908.5L875 931.1L879.2 942.4L885.6 951.4L889.8 950.1L893.4 960.3L897.8 972.5L903.7 982L909.6 983.8L914.5 997.3L920.5 1006.4L924.4 1021.9L927 1040L929.3 1046.3L934.3 1076.2L939.2 1095.9L944.1 1115.7L949.1 1135.4L954 1155.1L958.9 1176.8L963.9 1182.8L967.8 1196.6L972.8 1206.4L977.7 1218.3L982.6 1223.2L989.5 1232.1L989.5 1237.1L982.6 1228.2L977.7 1223.3L972.8 1211.4L967.8 1201.6L963.9 1187.8L958.9 1181.8L954 1160.1L949.1 1140.4L944.1 1120.7L939.2 1100.9L934.3 1081.2L929.3 1064L927 1057.9L924.4 1038.4L920.5 1025L914.5 1010.8L909.6 999.2L903.7 1000.3L897.8 990L893.4 974.5L889.8 965.2L885.6 968.3L879.2 960.1L875 950.5L870.8 923.5L866.6 899.7L863 871.2L861.6 874.1L858.1 881.7L857.4 862.9L855.3 844.7L851.7 844.3L850.3 864.1L847.5 936.3L844 1002.5L841 1102.5L838.6 1182.5L837.3 1201.9L836 1231.7L834.1 1243.3L830.8 1248.5L826.3 1249.8L822.4 1247.8L818.5 1251.7L814.6 1248.5L809.5 1244.6L805.6 1243.3L800.4 1245.9L795.2 1243.9L791.4 1242L786.2 1240.7L782.3 1238.1L778.4 1234.2L775.2 1238.1L772 1232.3L768.1 1229.7L764.2 1233L760.3 1224.5L753.8 1223.3L750 1220.7L747.4 1233.6L743.5 1235.5L738.3 1232.3L732.5 1231L728.6 1242L725.4 1248.5L721.5 1245.9L717.6 1242L715 1240.7L711.2 1251.1L707.3 1253.7L702.1 1250.4L697.6 1246.5L694.3 1247.2L691.1 1256.9L688.5 1256.9L684 1251.7L680.1 1254.9L676.9 1251.1L673.6 1257.5L670.4 1256.2L666.5 1258.2L662.6 1252.4L659.4 1256.2L655.5 1253.7L651.6 1256.2L648.8 1258.8Z" fill="#d9d9d9"/>
<path d="M648.8 1256.3L651.6 1253.7L655.5 1251.2L659.4 1253.7L662.6 1249.9L666.5 1255.7L670.4 1253.7L673.6 1255L676.9 1248.6L680.1 1252.4L684 1249.2L688.5 1254.4L691.1 1254.4L694.3 1244.7L697.6 1244L702.1 1247.9L707.3 1251.2L711.2 1248.6L715 1238.2L717.6 1239.5L721.5 1243.4L725.4 1246L728.6 1239.5L732.5 1228.5L738.3 1229.8L743.5 1233L747.4 1231.1L750 1218.2L753.8 1220.8L760.3 1222L764.2 1230.5L768.1 1227.2L772 1229.8L775.2 1235.6L778.4 1231.7L782.3 1235.6L786.2 1238.2L791.4 1239.5L795.2 1241.4L800.4 1243.4L805.6 1240.8L809.5 1242.1L814.6 1246L818.5 1249.2L822.4 1245.3L826.3 1247.3L830.8 1246L834.1 1240.8L836 1229.2L837.3 1199.4L838.6 1180L841 1100L844 1000L847.5 927L850.3 856.4L851.7 834.6L855.3 836.7L857.4 856.4L858.1 871.9L861.6 864.9L863 863.5L866.6 890.3L870.8 915.7L875 941.1L879.2 952.3L885.6 959.4L889.8 958L893.4 967.9L897.8 980L903.7 991.8L909.6 991.8L914.5 1003.7L920.5 1015.5L924.4 1029.3L927 1049.1L929.3 1055L934.3 1078.7L939.2 1098.4L944.1 1118.2L949.1 1137.9L954 1157.6L958.9 1179.3L963.9 1185.3L967.8 1199.1L972.8 1208.9L977.7 1220.8L982.6 1225.7L989.5 1234.6" fill="none" stroke="#000" stroke-width="6" stroke-linejoin="round"/>
<g stroke="#1e1e1e" stroke-width="2" fill="none"><path d="M649 794.8V1304.4H991.8"/><path d="M712.6 1304.4v-6M820 1304.4v-6M927.3 1304.4v-6M649 912.5h6M649 1108.5h6M649 1304.4h6"/></g><g fill="#1e1e1e" font-size="35.7"><text x="712.6" y="1349" text-anchor="middle">-5</text><text x="820" y="1349" text-anchor="middle">0</text><text x="927.3" y="1349" text-anchor="middle">5</text><text x="640" y="926.7" text-anchor="end">10</text><text x="640" y="1122.7" text-anchor="end">5</text><text x="640" y="1318.6" text-anchor="end">0</text></g>
<rect x="820.3" y="796" width="108" height="508.4" fill="#00ff00" fill-opacity="0.2" stroke="#fff" stroke-width="2.5"/>
<text x="820.9" y="1397.8" font-size="39.3" fill="#1e1e1e" text-anchor="middle">Reward time (sec)</text>
<text transform="translate(584.9 1049.7) rotate(-90)" font-size="39.3" fill="#1e1e1e" text-anchor="middle">Lick rate (Hz)</text>
<text x="580" y="775" font-size="74" font-weight="bold" fill="#000">c</text>
<g stroke="#1e1e1e" stroke-width="2" fill="none"><path d="M1175.8 794.8V1304.4H1519.8"/><path d="M1251 1304.4v-6M1346.8 1304.4v-6M1443.2 1304.4v-6M1175.8 811.9h6M1175.8 933.4h6M1175.8 1057.7h6M1175.8 1181h6M1175.8 1304.5h6"/></g><g fill="#1e1e1e" font-size="35.7"><text x="1251" y="1349" text-anchor="middle">-100</text><text x="1346.8" y="1349" text-anchor="middle">0</text><text x="1443.2" y="1349" text-anchor="middle">100</text><text x="1166.8" y="826.1" text-anchor="end">8</text><text x="1166.8" y="947.6" text-anchor="end">6</text><text x="1166.8" y="1071.9" text-anchor="end">4</text><text x="1166.8" y="1195.2" text-anchor="end">2</text><text x="1166.8" y="1318.7" text-anchor="end">0</text></g>
<path d="M1175.2 798.2L1178.7 797.5L1182.8 799.8L1186.9 809L1191.5 802.3L1195 809.6L1200.9 819.8L1207.3 813.3L1216.6 820.9L1224.1 814L1230 822.2L1236.4 815.1L1242.2 817.9L1248 809.6L1255 814.7L1263.1 814.5L1270.1 805.8L1278.9 806.2L1284.7 809.9L1291.1 810.2L1298.7 820.8L1305.6 814.7L1311.5 819.8L1321.4 811.2L1330.7 816.4L1337.1 812.4L1343.5 819.3L1348.5 816.8L1353.2 812.9L1360.1 815.3L1364.8 810.2L1369.5 810.4L1375.3 807.1L1382.3 804.8L1389.2 814.9L1397.4 816.1L1406.7 814.8L1411.9 807.5L1417.8 814.1L1421.8 811L1427.1 816.7L1430.6 813.5L1435.2 802.4L1440.5 809.8L1446.9 794.4L1449.8 795.8L1454.4 811.8L1461.4 808.9L1467.2 816.1L1473.1 820.5L1478.3 825.1L1483.5 819L1490 825.2L1495.8 810.3L1503.9 813.2L1511.5 811.3L1516.7 806.1L1519.1 804.3L1519.1 842.7L1516.7 849L1511.5 850.5L1503.9 858.5L1495.8 852.4L1490 862.3L1483.5 857.9L1478.3 868.2L1473.1 859L1467.2 854.1L1461.4 848.3L1454.4 851.6L1449.8 841.3L1446.9 835.4L1440.5 846.9L1435.2 845.2L1430.6 854.9L1427.1 859.9L1421.8 850.3L1417.8 852.4L1411.9 843.9L1406.7 854.5L1397.4 854.3L1389.2 851.3L1382.3 845.6L1375.3 848.3L1369.5 849.5L1364.8 845.6L1360.1 852.3L1353.2 848L1348.5 855L1343.5 857.4L1337.1 851.8L1330.7 856.9L1321.4 846.4L1311.5 861.9L1305.6 857L1298.7 861.3L1291.1 852.4L1284.7 849.3L1278.9 848.6L1270.1 848.3L1263.1 854.5L1255 855L1248 855.2L1242.2 861.2L1236.4 856.3L1230 865.6L1224.1 854L1216.6 863.6L1207.3 855L1200.9 859.3L1195 847L1191.5 843.7L1186.9 850.5L1182.8 842.5L1178.7 836.1L1175.2 838.6Z" fill="#00ff00" fill-opacity="0.13"/>
<path d="M1175.8 1184.4L1181.6 1186.4L1190.4 1188.6L1199.1 1186.7L1206.1 1183.1L1216.6 1191.1L1223.6 1186.5L1231.7 1190.7L1244.5 1183L1250.3 1182.7L1259.6 1191.1L1267.8 1185.1L1273.6 1190.8L1282.9 1183.2L1291.1 1186.5L1300.4 1182.9L1310.9 1187.9L1319 1186.1L1324.9 1183.4L1335.3 1185.5L1345 1186.4L1353.2 1189.3L1362.5 1188.4L1368.3 1185L1377 1181.9L1383.4 1186.8L1393.9 1185.3L1405.5 1184.7L1414.9 1186.9L1424.2 1184.5L1431.7 1189.9L1438.1 1184.6L1447.5 1183.7L1459.1 1181.4L1467.2 1189.6L1476.6 1184.8L1487 1188.8L1496.4 1181.9L1504.5 1186.9L1512.7 1184.4L1518.5 1186.2L1518.5 1197.7L1512.7 1198.4L1504.5 1198.4L1496.4 1194.8L1487 1200.9L1476.6 1196.5L1467.2 1201.1L1459.1 1193.1L1447.5 1195.8L1438.1 1196.7L1431.7 1202.1L1424.2 1196.8L1414.9 1198.7L1405.5 1197L1393.9 1197.4L1383.4 1198.4L1377 1194.7L1368.3 1197.7L1362.5 1200.5L1353.2 1200.9L1345 1199.3L1335.3 1198.2L1324.9 1194L1319 1198.8L1310.9 1199.5L1300.4 1194.6L1291.1 1198.3L1282.9 1195.3L1273.6 1202.5L1267.8 1197.6L1259.6 1203.2L1250.3 1195.3L1244.5 1193.8L1231.7 1202.8L1223.6 1198.9L1216.6 1202.2L1206.1 1196.4L1199.1 1198.2L1190.4 1200L1181.6 1198L1175.8 1197.4Z" fill="#ff0000" fill-opacity="0.15"/>
<path d="M1175.2 817.4L1178.7 816.2L1182.8 821.4L1186.9 827.8L1191.5 823.2L1195 826.7L1200.9 838.3L1207.3 833.1L1216.6 841.8L1224.1 833.1L1230 843.6L1236.4 834.2L1242.2 840.1L1248 832.5L1255 834.8L1263.1 832.5L1270.1 828.4L1278.9 827.3L1284.7 831.3L1291.1 831.9L1298.7 841.8L1305.6 835.4L1311.5 840.6L1321.4 828.4L1330.7 836L1337.1 830.7L1343.5 840.1L1348.5 836.6L1353.2 830.2L1360.1 834.2L1364.8 828.4L1369.5 830.2L1375.3 827.8L1382.3 823.2L1389.2 831.9L1397.4 834.8L1406.7 832.5L1411.9 826.7L1417.8 834.8L1421.8 831.3L1427.1 837.2L1430.6 835.4L1435.2 824.3L1440.5 829L1446.9 815L1449.8 818.5L1454.4 832.5L1461.4 831.3L1467.2 833.7L1473.1 841.2L1478.3 845.9L1483.5 838.3L1490 843.6L1495.8 833.1L1503.9 836L1511.5 831.9L1516.7 829L1519.1 823.8" fill="none" stroke="#13ee13" stroke-width="6" stroke-linejoin="round"/>
<path d="M1175.8 1191.4L1181.6 1192L1190.4 1193.8L1199.1 1192.6L1206.1 1189.7L1216.6 1196.1L1223.6 1192L1231.7 1197.3L1244.5 1188.5L1250.3 1189.7L1259.6 1197.3L1267.8 1191.4L1273.6 1197.3L1282.9 1189.7L1291.1 1192.6L1300.4 1188.5L1310.9 1193.8L1319 1192.6L1324.9 1188.5L1335.3 1191.4L1345 1193.2L1353.2 1194.3L1362.5 1194.3L1368.3 1191.4L1377 1187.9L1383.4 1192.6L1393.9 1192L1405.5 1190.3L1414.9 1192L1424.2 1190.9L1431.7 1195.5L1438.1 1191.4L1447.5 1189.7L1459.1 1187.4L1467.2 1194.9L1476.6 1191.4L1487 1194.3L1496.4 1188.5L1504.5 1192L1512.7 1191.4L1518.5 1192.6" fill="none" stroke="#ee0a0a" stroke-width="6" stroke-linejoin="round"/>
<rect x="1280" y="968.1" width="33.7" height="12.7" fill="#f00a0a"/>
<rect x="1280" y="1016.2" width="33.7" height="12.5" fill="#14ee14"/>
<text x="1322" y="987.3" font-size="32" fill="#000">Outside</text>
<text x="1322" y="1035.1" font-size="32" fill="#000">Inside</text>
<text x="1347.6" y="1408.9" font-size="39.3" fill="#1e1e1e" text-anchor="middle">Angle (<tspan font-size="30" dy="-19.4">o</tspan><tspan dy="19.4">)</tspan></text>
<text transform="translate(1131.2 1049.7) rotate(-90)" font-size="39.3" fill="#1e1e1e" text-anchor="middle">Lick rate (Hz)</text>
<text x="1090" y="778" font-size="74" font-weight="bold" fill="#000">d</text>
</svg></body></html>
